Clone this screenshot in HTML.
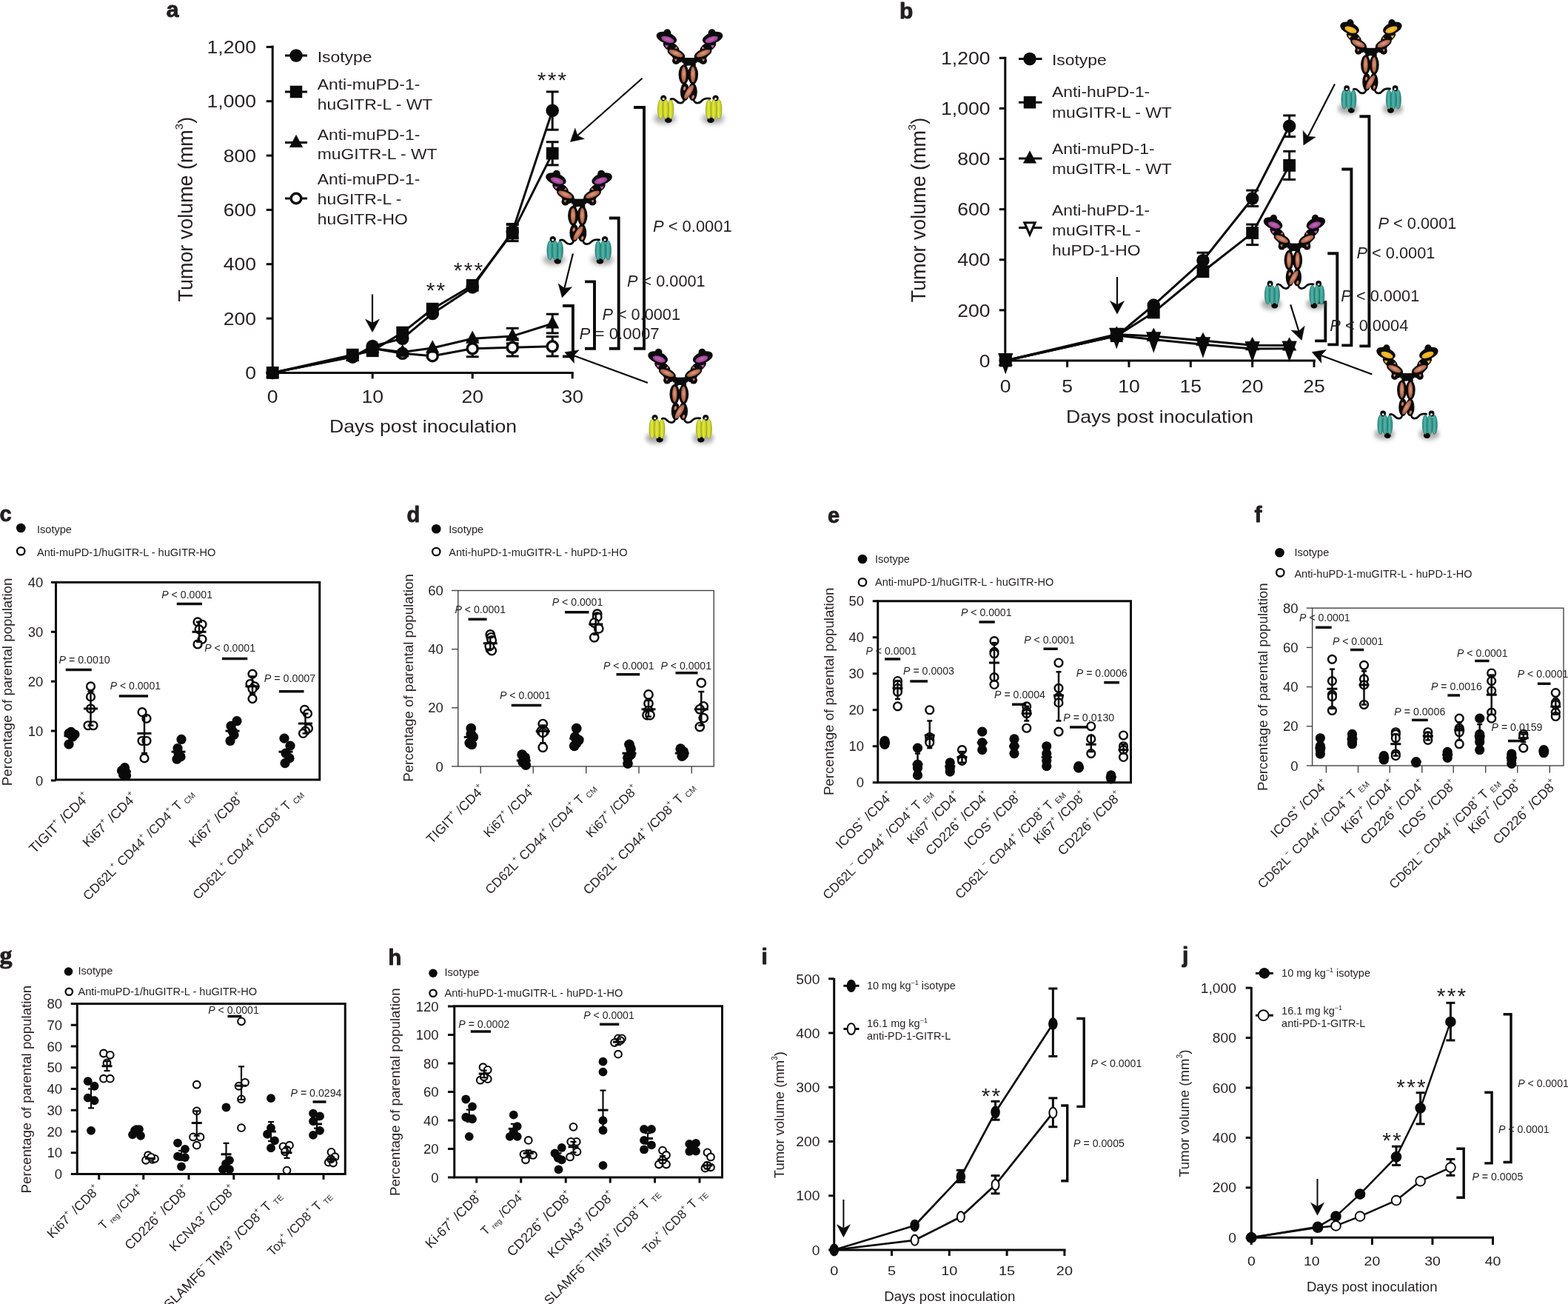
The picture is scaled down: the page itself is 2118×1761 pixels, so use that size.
<!DOCTYPE html><html><head><meta charset="utf-8"><title>Figure</title><style>html,body{margin:0;padding:0;background:#fff;width:2118px;height:1761px;overflow:hidden}svg{display:block}</style></head><body><svg width="2118" height="1761" viewBox="0 0 2118 1761" font-family="'Liberation Sans', Arial, Helvetica, sans-serif" fill="#231f20"><defs>
<radialGradient id="gBr" cx="50%" cy="45%" r="55%"><stop offset="0" stop-color="#d9a08a"/><stop offset="0.55" stop-color="#c27659"/><stop offset="1" stop-color="#a9573a"/></radialGradient>
<radialGradient id="gPu" cx="50%" cy="45%" r="55%"><stop offset="0" stop-color="#c466b8"/><stop offset="1" stop-color="#9a3c92"/></radialGradient>
<radialGradient id="gOr" cx="50%" cy="45%" r="55%"><stop offset="0" stop-color="#f7c33a"/><stop offset="1" stop-color="#e9a81c"/></radialGradient>
<linearGradient id="gYe" x1="0" y1="0" x2="1" y2="0"><stop offset="0" stop-color="#b9c21e"/><stop offset="0.45" stop-color="#e2e83e"/><stop offset="1" stop-color="#b5bd1c"/></linearGradient>
<linearGradient id="gTe" x1="0" y1="0" x2="1" y2="0"><stop offset="0" stop-color="#2d8a80"/><stop offset="0.45" stop-color="#4fb5a8"/><stop offset="1" stop-color="#2a857a"/></linearGradient>
<filter id="blr" x="-50%" y="-50%" width="200%" height="200%"><feGaussianBlur stdDeviation="3"/></filter>
</defs><rect width="2118" height="1761" fill="#fff"/><text transform="translate(224.8,23)" font-size="30" font-weight="bold" stroke="#231f20" stroke-width="0.9" stroke-linejoin="round">a</text>
<line x1="368.2" y1="61.5" x2="368.2" y2="504.9" stroke="#0a0a0a" stroke-width="3" stroke-linecap="butt"/>
<line x1="366.7" y1="503.4" x2="774.7" y2="503.4" stroke="#0a0a0a" stroke-width="3" stroke-linecap="butt"/>
<line x1="359.7" y1="503.4" x2="368.2" y2="503.4" stroke="#0a0a0a" stroke-width="3" stroke-linecap="butt"/>
<text transform="translate(346,512.1) scale(1.09,1)" font-size="24.4" text-anchor="end">0</text>
<line x1="359.7" y1="430.07" x2="368.2" y2="430.07" stroke="#0a0a0a" stroke-width="3" stroke-linecap="butt"/>
<text transform="translate(346,438.77) scale(1.09,1)" font-size="24.4" text-anchor="end">200</text>
<line x1="359.7" y1="356.73" x2="368.2" y2="356.73" stroke="#0a0a0a" stroke-width="3" stroke-linecap="butt"/>
<text transform="translate(346,365.43) scale(1.09,1)" font-size="24.4" text-anchor="end">400</text>
<line x1="359.7" y1="283.4" x2="368.2" y2="283.4" stroke="#0a0a0a" stroke-width="3" stroke-linecap="butt"/>
<text transform="translate(346,292.1) scale(1.09,1)" font-size="24.4" text-anchor="end">600</text>
<line x1="359.7" y1="210.06" x2="368.2" y2="210.06" stroke="#0a0a0a" stroke-width="3" stroke-linecap="butt"/>
<text transform="translate(346,218.76) scale(1.09,1)" font-size="24.4" text-anchor="end">800</text>
<line x1="359.7" y1="136.73" x2="368.2" y2="136.73" stroke="#0a0a0a" stroke-width="3" stroke-linecap="butt"/>
<text transform="translate(346,145.43) scale(1.09,1)" font-size="24.4" text-anchor="end">1,000</text>
<line x1="359.7" y1="63.4" x2="368.2" y2="63.4" stroke="#0a0a0a" stroke-width="3" stroke-linecap="butt"/>
<text transform="translate(346,72.1) scale(1.09,1)" font-size="24.4" text-anchor="end">1,200</text>
<line x1="368.2" y1="503.4" x2="368.2" y2="511.4" stroke="#0a0a0a" stroke-width="3" stroke-linecap="butt"/>
<text transform="translate(368.2,543.75) scale(1.09,1)" font-size="24.4" text-anchor="middle">0</text>
<line x1="503.2" y1="503.4" x2="503.2" y2="511.4" stroke="#0a0a0a" stroke-width="3" stroke-linecap="butt"/>
<text transform="translate(503.2,543.75) scale(1.09,1)" font-size="24.4" text-anchor="middle">10</text>
<line x1="638.2" y1="503.4" x2="638.2" y2="511.4" stroke="#0a0a0a" stroke-width="3" stroke-linecap="butt"/>
<text transform="translate(638.2,543.75) scale(1.09,1)" font-size="24.4" text-anchor="middle">20</text>
<line x1="773.2" y1="503.4" x2="773.2" y2="511.4" stroke="#0a0a0a" stroke-width="3" stroke-linecap="butt"/>
<text transform="translate(773.2,543.75) scale(1.09,1)" font-size="24.4" text-anchor="middle">30</text>
<text transform="translate(445,583.75)" font-size="23.4" textLength="253" lengthAdjust="spacingAndGlyphs">Days post inoculation</text>
<text transform="translate(260.4,407.4) rotate(-90)" font-size="27" textLength="249.5" lengthAdjust="spacingAndGlyphs">Tumor volume (mm<tspan font-size="15.1" dy="-13.5">3</tspan><tspan dy="13.5">)</tspan></text>
<polyline points="368.2,503.4 476.2,481.4 503.2,470.4 543.7,477.37 584.2,480.67 638.2,470.77 692.2,469.3 746.2,467.83" fill="none" stroke="#0a0a0a" stroke-width="3" stroke-linejoin="round" stroke-linecap="butt"/>
<polyline points="368.2,503.4 476.2,481.4 503.2,470.4 543.7,475.53 584.2,470.03 638.2,457.2 692.2,453.9 746.2,437.03" fill="none" stroke="#0a0a0a" stroke-width="3" stroke-linejoin="round" stroke-linecap="butt"/>
<polyline points="368.2,503.4 476.2,479.2 503.2,473.7 543.7,449.13 584.2,417.23 638.2,385.33 692.2,314.56 746.2,207.13" fill="none" stroke="#0a0a0a" stroke-width="3" stroke-linejoin="round" stroke-linecap="butt"/>
<polyline points="368.2,503.4 476.2,482.13 503.2,467.47 543.7,457.2 584.2,423.47 638.2,387.9 692.2,312.73 746.2,149.2" fill="none" stroke="#0a0a0a" stroke-width="3" stroke-linejoin="round" stroke-linecap="butt"/>
<line x1="692.2" y1="321.9" x2="692.2" y2="302.46" stroke="#0a0a0a" stroke-width="3" stroke-linecap="butt"/>
<line x1="683.8" y1="321.9" x2="700.6" y2="321.9" stroke="#0a0a0a" stroke-width="3" stroke-linecap="butt"/>
<line x1="683.8" y1="302.46" x2="700.6" y2="302.46" stroke="#0a0a0a" stroke-width="3" stroke-linecap="butt"/>
<line x1="746.2" y1="175.23" x2="746.2" y2="123.9" stroke="#0a0a0a" stroke-width="3" stroke-linecap="butt"/>
<line x1="737.8" y1="175.23" x2="754.6" y2="175.23" stroke="#0a0a0a" stroke-width="3" stroke-linecap="butt"/>
<line x1="737.8" y1="123.9" x2="754.6" y2="123.9" stroke="#0a0a0a" stroke-width="3" stroke-linecap="butt"/>
<line x1="692.2" y1="325.57" x2="692.2" y2="303.56" stroke="#0a0a0a" stroke-width="3" stroke-linecap="butt"/>
<line x1="683.8" y1="325.57" x2="700.6" y2="325.57" stroke="#0a0a0a" stroke-width="3" stroke-linecap="butt"/>
<line x1="683.8" y1="303.56" x2="700.6" y2="303.56" stroke="#0a0a0a" stroke-width="3" stroke-linecap="butt"/>
<line x1="746.2" y1="222.9" x2="746.2" y2="191.73" stroke="#0a0a0a" stroke-width="3" stroke-linecap="butt"/>
<line x1="737.8" y1="222.9" x2="754.6" y2="222.9" stroke="#0a0a0a" stroke-width="3" stroke-linecap="butt"/>
<line x1="737.8" y1="191.73" x2="754.6" y2="191.73" stroke="#0a0a0a" stroke-width="3" stroke-linecap="butt"/>
<line x1="692.2" y1="463.8" x2="692.2" y2="443.27" stroke="#0a0a0a" stroke-width="3" stroke-linecap="butt"/>
<line x1="683.8" y1="463.8" x2="700.6" y2="463.8" stroke="#0a0a0a" stroke-width="3" stroke-linecap="butt"/>
<line x1="683.8" y1="443.27" x2="700.6" y2="443.27" stroke="#0a0a0a" stroke-width="3" stroke-linecap="butt"/>
<line x1="746.2" y1="449.87" x2="746.2" y2="424.2" stroke="#0a0a0a" stroke-width="3" stroke-linecap="butt"/>
<line x1="737.8" y1="449.87" x2="754.6" y2="449.87" stroke="#0a0a0a" stroke-width="3" stroke-linecap="butt"/>
<line x1="737.8" y1="424.2" x2="754.6" y2="424.2" stroke="#0a0a0a" stroke-width="3" stroke-linecap="butt"/>
<line x1="638.2" y1="481.77" x2="638.2" y2="459.77" stroke="#0a0a0a" stroke-width="3" stroke-linecap="butt"/>
<line x1="629.8" y1="481.77" x2="646.6" y2="481.77" stroke="#0a0a0a" stroke-width="3" stroke-linecap="butt"/>
<line x1="629.8" y1="459.77" x2="646.6" y2="459.77" stroke="#0a0a0a" stroke-width="3" stroke-linecap="butt"/>
<line x1="692.2" y1="481.03" x2="692.2" y2="457.57" stroke="#0a0a0a" stroke-width="3" stroke-linecap="butt"/>
<line x1="683.8" y1="481.03" x2="700.6" y2="481.03" stroke="#0a0a0a" stroke-width="3" stroke-linecap="butt"/>
<line x1="683.8" y1="457.57" x2="700.6" y2="457.57" stroke="#0a0a0a" stroke-width="3" stroke-linecap="butt"/>
<line x1="746.2" y1="481.03" x2="746.2" y2="454.63" stroke="#0a0a0a" stroke-width="3" stroke-linecap="butt"/>
<line x1="737.8" y1="481.03" x2="754.6" y2="481.03" stroke="#0a0a0a" stroke-width="3" stroke-linecap="butt"/>
<line x1="737.8" y1="454.63" x2="754.6" y2="454.63" stroke="#0a0a0a" stroke-width="3" stroke-linecap="butt"/>
<circle cx="368.2" cy="503.4" r="7" fill="#fff" stroke="#0a0a0a" stroke-width="3.5"/>
<circle cx="476.2" cy="481.4" r="7" fill="#fff" stroke="#0a0a0a" stroke-width="3.5"/>
<circle cx="503.2" cy="470.4" r="7" fill="#fff" stroke="#0a0a0a" stroke-width="3.5"/>
<circle cx="543.7" cy="477.37" r="7" fill="#fff" stroke="#0a0a0a" stroke-width="3.5"/>
<circle cx="584.2" cy="480.67" r="7" fill="#fff" stroke="#0a0a0a" stroke-width="3.5"/>
<circle cx="638.2" cy="470.77" r="7" fill="#fff" stroke="#0a0a0a" stroke-width="3.5"/>
<circle cx="692.2" cy="469.3" r="7" fill="#fff" stroke="#0a0a0a" stroke-width="3.5"/>
<circle cx="746.2" cy="467.83" r="7" fill="#fff" stroke="#0a0a0a" stroke-width="3.5"/>
<polygon points="368.2,493.09 376.95,509.72 359.45,509.72" fill="#0a0a0a" stroke="#0a0a0a" stroke-width="0.5" stroke-linejoin="miter" stroke-linecap="butt"/>
<polygon points="476.2,471.09 484.95,487.72 467.45,487.72" fill="#0a0a0a" stroke="#0a0a0a" stroke-width="0.5" stroke-linejoin="miter" stroke-linecap="butt"/>
<polygon points="503.2,460.09 511.95,476.72 494.45,476.72" fill="#0a0a0a" stroke="#0a0a0a" stroke-width="0.5" stroke-linejoin="miter" stroke-linecap="butt"/>
<polygon points="543.7,465.23 552.45,481.85 534.95,481.85" fill="#0a0a0a" stroke="#0a0a0a" stroke-width="0.5" stroke-linejoin="miter" stroke-linecap="butt"/>
<polygon points="584.2,459.73 592.95,476.35 575.45,476.35" fill="#0a0a0a" stroke="#0a0a0a" stroke-width="0.5" stroke-linejoin="miter" stroke-linecap="butt"/>
<polygon points="638.2,446.89 646.95,463.52 629.45,463.52" fill="#0a0a0a" stroke="#0a0a0a" stroke-width="0.5" stroke-linejoin="miter" stroke-linecap="butt"/>
<polygon points="692.2,443.59 700.95,460.22 683.45,460.22" fill="#0a0a0a" stroke="#0a0a0a" stroke-width="0.5" stroke-linejoin="miter" stroke-linecap="butt"/>
<polygon points="746.2,426.73 754.95,443.35 737.45,443.35" fill="#0a0a0a" stroke="#0a0a0a" stroke-width="0.5" stroke-linejoin="miter" stroke-linecap="butt"/>
<rect x="359.8" y="495" width="16.8" height="16.8" fill="#0a0a0a"/>
<rect x="467.8" y="470.8" width="16.8" height="16.8" fill="#0a0a0a"/>
<rect x="494.8" y="465.3" width="16.8" height="16.8" fill="#0a0a0a"/>
<rect x="535.3" y="440.73" width="16.8" height="16.8" fill="#0a0a0a"/>
<rect x="575.8" y="408.83" width="16.8" height="16.8" fill="#0a0a0a"/>
<rect x="629.8" y="376.93" width="16.8" height="16.8" fill="#0a0a0a"/>
<rect x="683.8" y="306.16" width="16.8" height="16.8" fill="#0a0a0a"/>
<rect x="737.8" y="198.73" width="16.8" height="16.8" fill="#0a0a0a"/>
<circle cx="368.2" cy="503.4" r="8.75" fill="#0a0a0a"/>
<circle cx="476.2" cy="482.13" r="8.75" fill="#0a0a0a"/>
<circle cx="503.2" cy="467.47" r="8.75" fill="#0a0a0a"/>
<circle cx="543.7" cy="457.2" r="8.75" fill="#0a0a0a"/>
<circle cx="584.2" cy="423.47" r="8.75" fill="#0a0a0a"/>
<circle cx="638.2" cy="387.9" r="8.75" fill="#0a0a0a"/>
<circle cx="692.2" cy="312.73" r="8.75" fill="#0a0a0a"/>
<circle cx="746.2" cy="149.2" r="8.75" fill="#0a0a0a"/>
<line x1="385" y1="75" x2="415" y2="75" stroke="#0a0a0a" stroke-width="3" stroke-linecap="butt"/>
<circle cx="400" cy="75" r="8.75" fill="#0a0a0a"/>
<line x1="385" y1="124" x2="415" y2="124" stroke="#0a0a0a" stroke-width="3" stroke-linecap="butt"/>
<rect x="391.75" y="115.75" width="16.5" height="16.5" fill="#0a0a0a"/>
<line x1="385" y1="192.5" x2="415" y2="192.5" stroke="#0a0a0a" stroke-width="3" stroke-linecap="butt"/>
<polygon points="400,182.19 408.75,198.82 391.25,198.82" fill="#0a0a0a" stroke="#0a0a0a" stroke-width="0.5" stroke-linejoin="miter" stroke-linecap="butt"/>
<line x1="385" y1="268" x2="415" y2="268" stroke="#0a0a0a" stroke-width="3" stroke-linecap="butt"/>
<circle cx="400" cy="268" r="6.8" fill="#fff" stroke="#0a0a0a" stroke-width="3.4000000000000004"/>
<text transform="translate(428.75,83.75) scale(1.09,1)" font-size="21">Isotype</text>
<text transform="translate(428.75,120.75) scale(1.09,1)" font-size="21">Anti-muPD-1-</text>
<text transform="translate(428.75,147.5) scale(1.09,1)" font-size="21">huGITR-L - WT</text>
<text transform="translate(428.75,188.75) scale(1.09,1)" font-size="21">Anti-muPD-1-</text>
<text transform="translate(428.75,215) scale(1.09,1)" font-size="21">muGITR-L - WT</text>
<text transform="translate(428.75,248.75) scale(1.09,1)" font-size="21">Anti-muPD-1-</text>
<text transform="translate(428.75,275.75) scale(1.09,1)" font-size="21">huGITR-L -</text>
<text transform="translate(428.75,302.5) scale(1.09,1)" font-size="21">huGITR-HO</text>
<text transform="translate(746.6,118)" font-size="30" text-anchor="middle" letter-spacing="2.2">***</text>
<text transform="translate(633.6,374.5)" font-size="30" text-anchor="middle" letter-spacing="2.2">***</text>
<text transform="translate(589.6,401.5)" font-size="30" text-anchor="middle" letter-spacing="2.2">**</text>
<line x1="503" y1="397.5" x2="503" y2="436.1" stroke="#0a0a0a" stroke-width="2.2" stroke-linecap="butt"/>
<polygon points="503,448.6 493.5,431.1 503,436.1 512.5,431.1" fill="#0a0a0a" stroke="#0a0a0a" stroke-width="0.5" stroke-linejoin="miter" stroke-linecap="butt"/>
<polyline points="760,413 773.9,413 773.9,481.4 760,481.4" fill="none" stroke="#0a0a0a" stroke-width="3.9" stroke-linejoin="miter" stroke-linecap="butt"/>
<polyline points="790,380.4 803,380.4 803,470.8 790,470.8" fill="none" stroke="#0a0a0a" stroke-width="3.9" stroke-linejoin="miter" stroke-linecap="butt"/>
<polyline points="822.8,294.5 835.7,294.5 835.7,470.8 822.8,470.8" fill="none" stroke="#0a0a0a" stroke-width="3.9" stroke-linejoin="miter" stroke-linecap="butt"/>
<polyline points="856,145 870,145 870,470.8 856,470.8" fill="none" stroke="#0a0a0a" stroke-width="3.9" stroke-linejoin="miter" stroke-linecap="butt"/>
<text transform="translate(882,313.4)" font-size="21.6" textLength="106.7" lengthAdjust="spacingAndGlyphs"><tspan font-style="italic">P</tspan> &lt; 0.0001</text>
<text transform="translate(847,387.3)" font-size="21.6" textLength="105.6" lengthAdjust="spacingAndGlyphs"><tspan font-style="italic">P</tspan> &lt; 0.0001</text>
<text transform="translate(813.4,432)" font-size="21.6" textLength="105.6" lengthAdjust="spacingAndGlyphs"><tspan font-style="italic">P</tspan> &lt; 0.0001</text>
<text transform="translate(782.5,457.7)" font-size="21.6" textLength="108.2" lengthAdjust="spacingAndGlyphs"><tspan font-style="italic">P</tspan> = 0.0007</text>
<g transform="translate(879.6,35) scale(1.0,1.0)"><ellipse cx="18.6" cy="125" rx="15" ry="7.5" fill="#5a5a5a" opacity="0.5" filter="url(#blr)"/><circle cx="16.6" cy="97.6" r="4.2" fill="#0b0b0b"/><circle cx="16.6" cy="98.4" r="1.5" fill="#fff"/><ellipse cx="23.2" cy="127.2" rx="4.8" ry="3.8" fill="#0b0b0b"/><ellipse cx="12.9" cy="112.5" rx="4.1" ry="12.9" fill="url(#gYe)" stroke="#8f9c1c" stroke-width="0.7"/><ellipse cx="26.3" cy="112.5" rx="4.1" ry="12.9" fill="url(#gYe)" stroke="#8f9c1c" stroke-width="0.7"/><ellipse cx="19.6" cy="112.5" rx="4.1" ry="12.9" fill="url(#gYe)" stroke="#8f9c1c" stroke-width="0.7"/><ellipse cx="83.6" cy="125" rx="15" ry="7.5" fill="#5a5a5a" opacity="0.5" filter="url(#blr)"/><circle cx="87" cy="97.6" r="4.2" fill="#0b0b0b"/><circle cx="87" cy="98.4" r="1.5" fill="#fff"/><ellipse cx="80.4" cy="127.2" rx="4.8" ry="3.8" fill="#0b0b0b"/><ellipse cx="77.9" cy="112.5" rx="4.1" ry="12.9" fill="url(#gYe)" stroke="#8f9c1c" stroke-width="0.7"/><ellipse cx="91.3" cy="112.5" rx="4.1" ry="12.9" fill="url(#gYe)" stroke="#8f9c1c" stroke-width="0.7"/><ellipse cx="84.6" cy="112.5" rx="4.1" ry="12.9" fill="url(#gYe)" stroke="#8f9c1c" stroke-width="0.7"/><path d="M44.5,99.5 C43.5,105.5 37,105 34,101.5 C31,98 29,97.6 26.5,98.8" fill="none" stroke="#0b0b0b" stroke-width="2.8" stroke-linecap="round"/><path d="M57.5,99.5 C58.5,105.5 65,105 68,101.5 C71,98 74,97.4 79.5,98.2" fill="none" stroke="#0b0b0b" stroke-width="2.8" stroke-linecap="round"/><ellipse cx="20.8" cy="16.2" rx="14.2" ry="7.6" fill="#0b0b0b" transform="rotate(18 20.8 16.2)"/><circle cx="21.7" cy="9.3" r="5.1" fill="#0b0b0b"/><ellipse cx="27" cy="28.4" rx="12" ry="6.2" fill="#0b0b0b" transform="rotate(30 27 28.4)"/><ellipse cx="35.5" cy="42.5" rx="8.5" ry="5.6" fill="#0b0b0b" transform="rotate(40 35.5 42.5)"/><ellipse cx="33.6" cy="47" rx="5.2" ry="5" fill="#0b0b0b"/><ellipse cx="33.8" cy="37.4" rx="12.6" ry="6.1" fill="#0b0b0b" transform="rotate(24 33.8 37.4)"/><path d="M40,40 L47.5,43.5 L47.5,50 L42,50 Z" fill="#0b0b0b"/><ellipse cx="22.3" cy="18.4" rx="9" ry="3.9" fill="url(#gPu)" transform="rotate(18 22.3 18.4)"/><path d="M18.2,25.6 L23.6,26.6 L20.6,30.2 Z" fill="url(#gPu)"/><path d="M31.4,30.6 L34.8,27.6 L35.4,31.2 Z" fill="url(#gBr)"/><ellipse cx="33.4" cy="37.2" rx="10" ry="3.7" fill="url(#gBr)" transform="rotate(23 33.4 37.2)"/><path d="M31.2,44.8 L35.2,44.4 L33.4,48.4 Z" fill="url(#gBr)"/><g transform="translate(103.8,0) scale(-1,1)"><ellipse cx="20.8" cy="16.2" rx="14.2" ry="7.6" fill="#0b0b0b" transform="rotate(18 20.8 16.2)"/><circle cx="21.7" cy="9.3" r="5.1" fill="#0b0b0b"/><ellipse cx="27" cy="28.4" rx="12" ry="6.2" fill="#0b0b0b" transform="rotate(30 27 28.4)"/><ellipse cx="35.5" cy="42.5" rx="8.5" ry="5.6" fill="#0b0b0b" transform="rotate(40 35.5 42.5)"/><ellipse cx="33.6" cy="47" rx="5.2" ry="5" fill="#0b0b0b"/><ellipse cx="33.8" cy="37.4" rx="12.6" ry="6.1" fill="#0b0b0b" transform="rotate(24 33.8 37.4)"/><path d="M40,40 L47.5,43.5 L47.5,50 L42,50 Z" fill="#0b0b0b"/><ellipse cx="22.3" cy="18.4" rx="9" ry="3.9" fill="url(#gPu)" transform="rotate(18 22.3 18.4)"/><path d="M18.2,25.6 L23.6,26.6 L20.6,30.2 Z" fill="url(#gPu)"/><path d="M31.4,30.6 L34.8,27.6 L35.4,31.2 Z" fill="url(#gBr)"/><ellipse cx="33.4" cy="37.2" rx="10" ry="3.7" fill="url(#gBr)" transform="rotate(23 33.4 37.2)"/><path d="M31.2,44.8 L35.2,44.4 L33.4,48.4 Z" fill="url(#gBr)"/></g><rect x="43.6" y="43" width="16.6" height="11.5" fill="#0b0b0b"/><ellipse cx="44" cy="65.7" rx="7" ry="13.2" fill="#0b0b0b"/><ellipse cx="56.4" cy="65.7" rx="7" ry="13.2" fill="#0b0b0b"/><ellipse cx="44" cy="65.7" rx="3.3" ry="10.6" fill="url(#gBr)"/><ellipse cx="56.4" cy="65.7" rx="3.3" ry="10.6" fill="url(#gBr)"/><path d="M48.5,53.5 L53.5,53.5 L50.5,58.5 Z" fill="#fff"/><path d="M48.8,77 L52.5,77 L50.5,73 Z" fill="#fff"/><ellipse cx="45.5" cy="89" rx="6.2" ry="12" fill="#0b0b0b"/><ellipse cx="56" cy="89" rx="6.2" ry="12" fill="#0b0b0b"/><ellipse cx="45" cy="84.5" rx="1.8" ry="2.8" fill="url(#gBr)" transform="rotate(20 45 84.5)"/><ellipse cx="56.5" cy="96" rx="1.8" ry="2.8" fill="url(#gBr)" transform="rotate(20 56.5 96)"/><ellipse cx="51" cy="89.2" rx="10.8" ry="3.6" fill="url(#gBr)" transform="rotate(-58 51 89.2)"/></g>
<g transform="translate(730.1,225.6) scale(1.0,1.0)"><ellipse cx="18.6" cy="125" rx="15" ry="7.5" fill="#5a5a5a" opacity="0.5" filter="url(#blr)"/><circle cx="16.6" cy="97.6" r="4.2" fill="#0b0b0b"/><circle cx="16.6" cy="98.4" r="1.5" fill="#fff"/><ellipse cx="23.2" cy="127.2" rx="4.8" ry="3.8" fill="#0b0b0b"/><ellipse cx="12.9" cy="112.5" rx="4.1" ry="12.9" fill="url(#gTe)" stroke="#1f6d64" stroke-width="0.7"/><ellipse cx="26.3" cy="112.5" rx="4.1" ry="12.9" fill="url(#gTe)" stroke="#1f6d64" stroke-width="0.7"/><ellipse cx="19.6" cy="112.5" rx="4.1" ry="12.9" fill="url(#gTe)" stroke="#1f6d64" stroke-width="0.7"/><ellipse cx="83.6" cy="125" rx="15" ry="7.5" fill="#5a5a5a" opacity="0.5" filter="url(#blr)"/><circle cx="87" cy="97.6" r="4.2" fill="#0b0b0b"/><circle cx="87" cy="98.4" r="1.5" fill="#fff"/><ellipse cx="80.4" cy="127.2" rx="4.8" ry="3.8" fill="#0b0b0b"/><ellipse cx="77.9" cy="112.5" rx="4.1" ry="12.9" fill="url(#gTe)" stroke="#1f6d64" stroke-width="0.7"/><ellipse cx="91.3" cy="112.5" rx="4.1" ry="12.9" fill="url(#gTe)" stroke="#1f6d64" stroke-width="0.7"/><ellipse cx="84.6" cy="112.5" rx="4.1" ry="12.9" fill="url(#gTe)" stroke="#1f6d64" stroke-width="0.7"/><path d="M44.5,99.5 C43.5,105.5 37,105 34,101.5 C31,98 29,97.6 26.5,98.8" fill="none" stroke="#0b0b0b" stroke-width="2.8" stroke-linecap="round"/><path d="M57.5,99.5 C58.5,105.5 65,105 68,101.5 C71,98 74,97.4 79.5,98.2" fill="none" stroke="#0b0b0b" stroke-width="2.8" stroke-linecap="round"/><ellipse cx="20.8" cy="16.2" rx="14.2" ry="7.6" fill="#0b0b0b" transform="rotate(18 20.8 16.2)"/><circle cx="21.7" cy="9.3" r="5.1" fill="#0b0b0b"/><ellipse cx="27" cy="28.4" rx="12" ry="6.2" fill="#0b0b0b" transform="rotate(30 27 28.4)"/><ellipse cx="35.5" cy="42.5" rx="8.5" ry="5.6" fill="#0b0b0b" transform="rotate(40 35.5 42.5)"/><ellipse cx="33.6" cy="47" rx="5.2" ry="5" fill="#0b0b0b"/><ellipse cx="33.8" cy="37.4" rx="12.6" ry="6.1" fill="#0b0b0b" transform="rotate(24 33.8 37.4)"/><path d="M40,40 L47.5,43.5 L47.5,50 L42,50 Z" fill="#0b0b0b"/><ellipse cx="22.3" cy="18.4" rx="9" ry="3.9" fill="url(#gPu)" transform="rotate(18 22.3 18.4)"/><path d="M18.2,25.6 L23.6,26.6 L20.6,30.2 Z" fill="url(#gPu)"/><path d="M31.4,30.6 L34.8,27.6 L35.4,31.2 Z" fill="url(#gBr)"/><ellipse cx="33.4" cy="37.2" rx="10" ry="3.7" fill="url(#gBr)" transform="rotate(23 33.4 37.2)"/><path d="M31.2,44.8 L35.2,44.4 L33.4,48.4 Z" fill="url(#gBr)"/><g transform="translate(103.8,0) scale(-1,1)"><ellipse cx="20.8" cy="16.2" rx="14.2" ry="7.6" fill="#0b0b0b" transform="rotate(18 20.8 16.2)"/><circle cx="21.7" cy="9.3" r="5.1" fill="#0b0b0b"/><ellipse cx="27" cy="28.4" rx="12" ry="6.2" fill="#0b0b0b" transform="rotate(30 27 28.4)"/><ellipse cx="35.5" cy="42.5" rx="8.5" ry="5.6" fill="#0b0b0b" transform="rotate(40 35.5 42.5)"/><ellipse cx="33.6" cy="47" rx="5.2" ry="5" fill="#0b0b0b"/><ellipse cx="33.8" cy="37.4" rx="12.6" ry="6.1" fill="#0b0b0b" transform="rotate(24 33.8 37.4)"/><path d="M40,40 L47.5,43.5 L47.5,50 L42,50 Z" fill="#0b0b0b"/><ellipse cx="22.3" cy="18.4" rx="9" ry="3.9" fill="url(#gPu)" transform="rotate(18 22.3 18.4)"/><path d="M18.2,25.6 L23.6,26.6 L20.6,30.2 Z" fill="url(#gPu)"/><path d="M31.4,30.6 L34.8,27.6 L35.4,31.2 Z" fill="url(#gBr)"/><ellipse cx="33.4" cy="37.2" rx="10" ry="3.7" fill="url(#gBr)" transform="rotate(23 33.4 37.2)"/><path d="M31.2,44.8 L35.2,44.4 L33.4,48.4 Z" fill="url(#gBr)"/></g><rect x="43.6" y="43" width="16.6" height="11.5" fill="#0b0b0b"/><ellipse cx="44" cy="65.7" rx="7" ry="13.2" fill="#0b0b0b"/><ellipse cx="56.4" cy="65.7" rx="7" ry="13.2" fill="#0b0b0b"/><ellipse cx="44" cy="65.7" rx="3.3" ry="10.6" fill="url(#gBr)"/><ellipse cx="56.4" cy="65.7" rx="3.3" ry="10.6" fill="url(#gBr)"/><path d="M48.5,53.5 L53.5,53.5 L50.5,58.5 Z" fill="#fff"/><path d="M48.8,77 L52.5,77 L50.5,73 Z" fill="#fff"/><ellipse cx="45.5" cy="89" rx="6.2" ry="12" fill="#0b0b0b"/><ellipse cx="56" cy="89" rx="6.2" ry="12" fill="#0b0b0b"/><ellipse cx="45" cy="84.5" rx="1.8" ry="2.8" fill="url(#gBr)" transform="rotate(20 45 84.5)"/><ellipse cx="56.5" cy="96" rx="1.8" ry="2.8" fill="url(#gBr)" transform="rotate(20 56.5 96)"/><ellipse cx="51" cy="89.2" rx="10.8" ry="3.6" fill="url(#gBr)" transform="rotate(-58 51 89.2)"/></g>
<g transform="translate(868.4,466.6) scale(0.975,1.0)"><ellipse cx="18.6" cy="125" rx="15" ry="7.5" fill="#5a5a5a" opacity="0.5" filter="url(#blr)"/><circle cx="16.6" cy="97.6" r="4.2" fill="#0b0b0b"/><circle cx="16.6" cy="98.4" r="1.5" fill="#fff"/><ellipse cx="23.2" cy="127.2" rx="4.8" ry="3.8" fill="#0b0b0b"/><ellipse cx="12.9" cy="112.5" rx="4.1" ry="12.9" fill="url(#gYe)" stroke="#8f9c1c" stroke-width="0.7"/><ellipse cx="26.3" cy="112.5" rx="4.1" ry="12.9" fill="url(#gYe)" stroke="#8f9c1c" stroke-width="0.7"/><ellipse cx="19.6" cy="112.5" rx="4.1" ry="12.9" fill="url(#gYe)" stroke="#8f9c1c" stroke-width="0.7"/><ellipse cx="83.6" cy="125" rx="15" ry="7.5" fill="#5a5a5a" opacity="0.5" filter="url(#blr)"/><circle cx="87" cy="97.6" r="4.2" fill="#0b0b0b"/><circle cx="87" cy="98.4" r="1.5" fill="#fff"/><ellipse cx="80.4" cy="127.2" rx="4.8" ry="3.8" fill="#0b0b0b"/><ellipse cx="77.9" cy="112.5" rx="4.1" ry="12.9" fill="url(#gYe)" stroke="#8f9c1c" stroke-width="0.7"/><ellipse cx="91.3" cy="112.5" rx="4.1" ry="12.9" fill="url(#gYe)" stroke="#8f9c1c" stroke-width="0.7"/><ellipse cx="84.6" cy="112.5" rx="4.1" ry="12.9" fill="url(#gYe)" stroke="#8f9c1c" stroke-width="0.7"/><path d="M44.5,99.5 C43.5,105.5 37,105 34,101.5 C31,98 29,97.6 26.5,98.8" fill="none" stroke="#0b0b0b" stroke-width="2.8" stroke-linecap="round"/><path d="M57.5,99.5 C58.5,105.5 65,105 68,101.5 C71,98 74,97.4 79.5,98.2" fill="none" stroke="#0b0b0b" stroke-width="2.8" stroke-linecap="round"/><ellipse cx="20.8" cy="16.2" rx="14.2" ry="7.6" fill="#0b0b0b" transform="rotate(18 20.8 16.2)"/><circle cx="21.7" cy="9.3" r="5.1" fill="#0b0b0b"/><ellipse cx="27" cy="28.4" rx="12" ry="6.2" fill="#0b0b0b" transform="rotate(30 27 28.4)"/><ellipse cx="35.5" cy="42.5" rx="8.5" ry="5.6" fill="#0b0b0b" transform="rotate(40 35.5 42.5)"/><ellipse cx="33.6" cy="47" rx="5.2" ry="5" fill="#0b0b0b"/><ellipse cx="33.8" cy="37.4" rx="12.6" ry="6.1" fill="#0b0b0b" transform="rotate(24 33.8 37.4)"/><path d="M40,40 L47.5,43.5 L47.5,50 L42,50 Z" fill="#0b0b0b"/><ellipse cx="22.3" cy="18.4" rx="9" ry="3.9" fill="url(#gPu)" transform="rotate(18 22.3 18.4)"/><path d="M18.2,25.6 L23.6,26.6 L20.6,30.2 Z" fill="url(#gPu)"/><path d="M31.4,30.6 L34.8,27.6 L35.4,31.2 Z" fill="url(#gBr)"/><ellipse cx="33.4" cy="37.2" rx="10" ry="3.7" fill="url(#gBr)" transform="rotate(23 33.4 37.2)"/><path d="M31.2,44.8 L35.2,44.4 L33.4,48.4 Z" fill="url(#gBr)"/><g transform="translate(103.8,0) scale(-1,1)"><ellipse cx="20.8" cy="16.2" rx="14.2" ry="7.6" fill="#0b0b0b" transform="rotate(18 20.8 16.2)"/><circle cx="21.7" cy="9.3" r="5.1" fill="#0b0b0b"/><ellipse cx="27" cy="28.4" rx="12" ry="6.2" fill="#0b0b0b" transform="rotate(30 27 28.4)"/><ellipse cx="35.5" cy="42.5" rx="8.5" ry="5.6" fill="#0b0b0b" transform="rotate(40 35.5 42.5)"/><ellipse cx="33.6" cy="47" rx="5.2" ry="5" fill="#0b0b0b"/><ellipse cx="33.8" cy="37.4" rx="12.6" ry="6.1" fill="#0b0b0b" transform="rotate(24 33.8 37.4)"/><path d="M40,40 L47.5,43.5 L47.5,50 L42,50 Z" fill="#0b0b0b"/><ellipse cx="22.3" cy="18.4" rx="9" ry="3.9" fill="url(#gPu)" transform="rotate(18 22.3 18.4)"/><path d="M18.2,25.6 L23.6,26.6 L20.6,30.2 Z" fill="url(#gPu)"/><path d="M31.4,30.6 L34.8,27.6 L35.4,31.2 Z" fill="url(#gBr)"/><ellipse cx="33.4" cy="37.2" rx="10" ry="3.7" fill="url(#gBr)" transform="rotate(23 33.4 37.2)"/><path d="M31.2,44.8 L35.2,44.4 L33.4,48.4 Z" fill="url(#gBr)"/></g><rect x="43.6" y="43" width="16.6" height="11.5" fill="#0b0b0b"/><ellipse cx="44" cy="65.7" rx="7" ry="13.2" fill="#0b0b0b"/><ellipse cx="56.4" cy="65.7" rx="7" ry="13.2" fill="#0b0b0b"/><ellipse cx="44" cy="65.7" rx="3.3" ry="10.6" fill="url(#gBr)"/><ellipse cx="56.4" cy="65.7" rx="3.3" ry="10.6" fill="url(#gBr)"/><path d="M48.5,53.5 L53.5,53.5 L50.5,58.5 Z" fill="#fff"/><path d="M48.8,77 L52.5,77 L50.5,73 Z" fill="#fff"/><ellipse cx="45.5" cy="89" rx="6.2" ry="12" fill="#0b0b0b"/><ellipse cx="56" cy="89" rx="6.2" ry="12" fill="#0b0b0b"/><ellipse cx="45" cy="84.5" rx="1.8" ry="2.8" fill="url(#gBr)" transform="rotate(20 45 84.5)"/><ellipse cx="56.5" cy="96" rx="1.8" ry="2.8" fill="url(#gBr)" transform="rotate(20 56.5 96)"/><ellipse cx="51" cy="89.2" rx="10.8" ry="3.6" fill="url(#gBr)" transform="rotate(-58 51 89.2)"/></g>
<line x1="867.5" y1="105.7" x2="780.14" y2="182.99" stroke="#0a0a0a" stroke-width="2.2" stroke-linecap="butt"/>
<polygon points="770.4,191.6 776.84,173.22 780.14,182.99 789.43,187.45" fill="#0a0a0a" stroke="#0a0a0a" stroke-width="0.5" stroke-linejoin="miter" stroke-linecap="butt"/>
<line x1="773.9" y1="342.6" x2="762.41" y2="389.28" stroke="#0a0a0a" stroke-width="2.2" stroke-linecap="butt"/>
<polygon points="759.3,401.9 754.14,383.12 762.41,389.28 772.59,387.66" fill="#0a0a0a" stroke="#0a0a0a" stroke-width="0.5" stroke-linejoin="miter" stroke-linecap="butt"/>
<line x1="875" y1="517" x2="775.1" y2="480.19" stroke="#0a0a0a" stroke-width="2.2" stroke-linecap="butt"/>
<polygon points="762.9,475.7 782.14,472.66 775.1,480.19 775.57,490.49" fill="#0a0a0a" stroke="#0a0a0a" stroke-width="0.5" stroke-linejoin="miter" stroke-linecap="butt"/>
<text transform="translate(1215,25)" font-size="30" font-weight="bold" stroke="#231f20" stroke-width="0.9" stroke-linejoin="round">b</text>
<line x1="1357.8" y1="76.8" x2="1357.8" y2="488.5" stroke="#0a0a0a" stroke-width="3" stroke-linecap="butt"/>
<line x1="1356.3" y1="487" x2="1777" y2="487" stroke="#0a0a0a" stroke-width="3" stroke-linecap="butt"/>
<line x1="1349.8" y1="487" x2="1357.8" y2="487" stroke="#0a0a0a" stroke-width="3" stroke-linecap="butt"/>
<text transform="translate(1337.5,495.7) scale(1.09,1)" font-size="24.4" text-anchor="end">0</text>
<line x1="1349.8" y1="418.88" x2="1357.8" y2="418.88" stroke="#0a0a0a" stroke-width="3" stroke-linecap="butt"/>
<text transform="translate(1337.5,427.58) scale(1.09,1)" font-size="24.4" text-anchor="end">200</text>
<line x1="1349.8" y1="350.76" x2="1357.8" y2="350.76" stroke="#0a0a0a" stroke-width="3" stroke-linecap="butt"/>
<text transform="translate(1337.5,359.46) scale(1.09,1)" font-size="24.4" text-anchor="end">400</text>
<line x1="1349.8" y1="282.64" x2="1357.8" y2="282.64" stroke="#0a0a0a" stroke-width="3" stroke-linecap="butt"/>
<text transform="translate(1337.5,291.34) scale(1.09,1)" font-size="24.4" text-anchor="end">600</text>
<line x1="1349.8" y1="214.52" x2="1357.8" y2="214.52" stroke="#0a0a0a" stroke-width="3" stroke-linecap="butt"/>
<text transform="translate(1337.5,223.22) scale(1.09,1)" font-size="24.4" text-anchor="end">800</text>
<line x1="1349.8" y1="146.4" x2="1357.8" y2="146.4" stroke="#0a0a0a" stroke-width="3" stroke-linecap="butt"/>
<text transform="translate(1337.5,155.1) scale(1.09,1)" font-size="24.4" text-anchor="end">1,000</text>
<line x1="1349.8" y1="78.28" x2="1357.8" y2="78.28" stroke="#0a0a0a" stroke-width="3" stroke-linecap="butt"/>
<text transform="translate(1337.5,86.98) scale(1.09,1)" font-size="24.4" text-anchor="end">1,200</text>
<line x1="1358.25" y1="487" x2="1358.25" y2="496" stroke="#0a0a0a" stroke-width="3" stroke-linecap="butt"/>
<text transform="translate(1358.25,530) scale(1.09,1)" font-size="24.4" text-anchor="middle">0</text>
<line x1="1441.6" y1="487" x2="1441.6" y2="496" stroke="#0a0a0a" stroke-width="3" stroke-linecap="butt"/>
<text transform="translate(1441.6,530) scale(1.09,1)" font-size="24.4" text-anchor="middle">5</text>
<line x1="1524.95" y1="487" x2="1524.95" y2="496" stroke="#0a0a0a" stroke-width="3" stroke-linecap="butt"/>
<text transform="translate(1524.95,530) scale(1.09,1)" font-size="24.4" text-anchor="middle">10</text>
<line x1="1608.3" y1="487" x2="1608.3" y2="496" stroke="#0a0a0a" stroke-width="3" stroke-linecap="butt"/>
<text transform="translate(1608.3,530) scale(1.09,1)" font-size="24.4" text-anchor="middle">15</text>
<line x1="1691.65" y1="487" x2="1691.65" y2="496" stroke="#0a0a0a" stroke-width="3" stroke-linecap="butt"/>
<text transform="translate(1691.65,530) scale(1.09,1)" font-size="24.4" text-anchor="middle">20</text>
<line x1="1775" y1="487" x2="1775" y2="496" stroke="#0a0a0a" stroke-width="3" stroke-linecap="butt"/>
<text transform="translate(1775,530) scale(1.09,1)" font-size="24.4" text-anchor="middle">25</text>
<text transform="translate(1440,571.25)" font-size="23.4" textLength="253" lengthAdjust="spacingAndGlyphs">Days post inoculation</text>
<text transform="translate(1250.3,408.3) rotate(-90)" font-size="27" textLength="249.5" lengthAdjust="spacingAndGlyphs">Tumor volume (mm<tspan font-size="15.1" dy="-13.5">3</tspan><tspan dy="13.5">)</tspan></text>
<polyline points="1358.25,487 1508.28,452.94 1558.29,458.39 1624.97,465.2 1691.65,470.99 1741.66,470.65" fill="none" stroke="#0a0a0a" stroke-width="3" stroke-linejoin="round" stroke-linecap="butt"/>
<polyline points="1358.25,487 1508.28,451.58 1558.29,453.96 1624.97,460.09 1691.65,466.22 1741.66,466.56" fill="none" stroke="#0a0a0a" stroke-width="3" stroke-linejoin="round" stroke-linecap="butt"/>
<polyline points="1358.25,487 1508.28,453.62 1558.29,421.95 1624.97,366.77 1691.65,314.66 1741.66,223.38" fill="none" stroke="#0a0a0a" stroke-width="3" stroke-linejoin="round" stroke-linecap="butt"/>
<polyline points="1358.25,487 1508.28,453.62 1558.29,412.07 1624.97,351.78 1691.65,267.99 1741.66,170.24" fill="none" stroke="#0a0a0a" stroke-width="3" stroke-linejoin="round" stroke-linecap="butt"/>
<line x1="1624.97" y1="360.98" x2="1624.97" y2="341.22" stroke="#0a0a0a" stroke-width="3" stroke-linecap="butt"/>
<line x1="1616.57" y1="360.98" x2="1633.37" y2="360.98" stroke="#0a0a0a" stroke-width="3" stroke-linecap="butt"/>
<line x1="1616.57" y1="341.22" x2="1633.37" y2="341.22" stroke="#0a0a0a" stroke-width="3" stroke-linecap="butt"/>
<line x1="1691.65" y1="278.55" x2="1691.65" y2="257.1" stroke="#0a0a0a" stroke-width="3" stroke-linecap="butt"/>
<line x1="1683.25" y1="278.55" x2="1700.05" y2="278.55" stroke="#0a0a0a" stroke-width="3" stroke-linecap="butt"/>
<line x1="1683.25" y1="257.1" x2="1700.05" y2="257.1" stroke="#0a0a0a" stroke-width="3" stroke-linecap="butt"/>
<line x1="1741.66" y1="184.55" x2="1741.66" y2="155.94" stroke="#0a0a0a" stroke-width="3" stroke-linecap="butt"/>
<line x1="1733.26" y1="184.55" x2="1750.06" y2="184.55" stroke="#0a0a0a" stroke-width="3" stroke-linecap="butt"/>
<line x1="1733.26" y1="155.94" x2="1750.06" y2="155.94" stroke="#0a0a0a" stroke-width="3" stroke-linecap="butt"/>
<line x1="1691.65" y1="330.66" x2="1691.65" y2="303.08" stroke="#0a0a0a" stroke-width="3" stroke-linecap="butt"/>
<line x1="1683.25" y1="330.66" x2="1700.05" y2="330.66" stroke="#0a0a0a" stroke-width="3" stroke-linecap="butt"/>
<line x1="1683.25" y1="303.08" x2="1700.05" y2="303.08" stroke="#0a0a0a" stroke-width="3" stroke-linecap="butt"/>
<line x1="1741.66" y1="242.45" x2="1741.66" y2="204.3" stroke="#0a0a0a" stroke-width="3" stroke-linecap="butt"/>
<line x1="1733.26" y1="242.45" x2="1750.06" y2="242.45" stroke="#0a0a0a" stroke-width="3" stroke-linecap="butt"/>
<line x1="1733.26" y1="204.3" x2="1750.06" y2="204.3" stroke="#0a0a0a" stroke-width="3" stroke-linecap="butt"/>
<polygon points="1358.25,496.93 1364.33,479.78 1352.17,479.78" fill="#fff" stroke="#0a0a0a" stroke-width="5.7" stroke-linejoin="miter" stroke-linecap="butt"/>
<polygon points="1508.28,462.87 1514.36,445.72 1502.2,445.72" fill="#fff" stroke="#0a0a0a" stroke-width="5.7" stroke-linejoin="miter" stroke-linecap="butt"/>
<polygon points="1558.29,468.32 1564.37,451.17 1552.21,451.17" fill="#fff" stroke="#0a0a0a" stroke-width="5.7" stroke-linejoin="miter" stroke-linecap="butt"/>
<polygon points="1624.97,475.13 1631.05,457.98 1618.89,457.98" fill="#fff" stroke="#0a0a0a" stroke-width="5.7" stroke-linejoin="miter" stroke-linecap="butt"/>
<polygon points="1691.65,480.92 1697.73,463.77 1685.57,463.77" fill="#fff" stroke="#0a0a0a" stroke-width="5.7" stroke-linejoin="miter" stroke-linecap="butt"/>
<polygon points="1741.66,480.58 1747.74,463.43 1735.58,463.43" fill="#fff" stroke="#0a0a0a" stroke-width="5.7" stroke-linejoin="miter" stroke-linecap="butt"/>
<polygon points="1358.25,476.1 1367.5,493.68 1349,493.68" fill="#0a0a0a" stroke="#0a0a0a" stroke-width="0.5" stroke-linejoin="miter" stroke-linecap="butt"/>
<polygon points="1508.28,440.68 1517.53,458.26 1499.03,458.26" fill="#0a0a0a" stroke="#0a0a0a" stroke-width="0.5" stroke-linejoin="miter" stroke-linecap="butt"/>
<polygon points="1558.29,443.07 1567.54,460.64 1549.04,460.64" fill="#0a0a0a" stroke="#0a0a0a" stroke-width="0.5" stroke-linejoin="miter" stroke-linecap="butt"/>
<polygon points="1624.97,449.2 1634.22,466.77 1615.72,466.77" fill="#0a0a0a" stroke="#0a0a0a" stroke-width="0.5" stroke-linejoin="miter" stroke-linecap="butt"/>
<polygon points="1691.65,455.33 1700.9,472.9 1682.4,472.9" fill="#0a0a0a" stroke="#0a0a0a" stroke-width="0.5" stroke-linejoin="miter" stroke-linecap="butt"/>
<polygon points="1741.66,455.67 1750.91,473.24 1732.41,473.24" fill="#0a0a0a" stroke="#0a0a0a" stroke-width="0.5" stroke-linejoin="miter" stroke-linecap="butt"/>
<rect x="1349.85" y="478.6" width="16.8" height="16.8" fill="#0a0a0a"/>
<rect x="1499.88" y="445.22" width="16.8" height="16.8" fill="#0a0a0a"/>
<rect x="1549.89" y="413.55" width="16.8" height="16.8" fill="#0a0a0a"/>
<rect x="1616.57" y="358.37" width="16.8" height="16.8" fill="#0a0a0a"/>
<rect x="1683.25" y="306.26" width="16.8" height="16.8" fill="#0a0a0a"/>
<rect x="1733.26" y="214.98" width="16.8" height="16.8" fill="#0a0a0a"/>
<circle cx="1358.25" cy="487" r="8.75" fill="#0a0a0a"/>
<circle cx="1508.28" cy="453.62" r="8.75" fill="#0a0a0a"/>
<circle cx="1558.29" cy="412.07" r="8.75" fill="#0a0a0a"/>
<circle cx="1624.97" cy="351.78" r="8.75" fill="#0a0a0a"/>
<circle cx="1691.65" cy="267.99" r="8.75" fill="#0a0a0a"/>
<circle cx="1741.66" cy="170.24" r="8.75" fill="#0a0a0a"/>
<line x1="1376" y1="79.5" x2="1407.5" y2="79.5" stroke="#0a0a0a" stroke-width="3" stroke-linecap="butt"/>
<circle cx="1391" cy="79.5" r="8.75" fill="#0a0a0a"/>
<line x1="1376" y1="138.25" x2="1407.5" y2="138.25" stroke="#0a0a0a" stroke-width="3" stroke-linecap="butt"/>
<rect x="1382.75" y="130" width="16.5" height="16.5" fill="#0a0a0a"/>
<line x1="1376" y1="214" x2="1407.5" y2="214" stroke="#0a0a0a" stroke-width="3" stroke-linecap="butt"/>
<polygon points="1391,203.69 1399.75,220.32 1382.25,220.32" fill="#0a0a0a" stroke="#0a0a0a" stroke-width="0.5" stroke-linejoin="miter" stroke-linecap="butt"/>
<line x1="1376" y1="307.5" x2="1407.5" y2="307.5" stroke="#0a0a0a" stroke-width="3" stroke-linecap="butt"/>
<polygon points="1391,316.9 1398.16,300.66 1383.84,300.66" fill="#fff" stroke="#0a0a0a" stroke-width="3.06" stroke-linejoin="miter" stroke-linecap="butt"/>
<text transform="translate(1421,88) scale(1.09,1)" font-size="21">Isotype</text>
<text transform="translate(1421,131.25) scale(1.09,1)" font-size="21">Anti-huPD-1-</text>
<text transform="translate(1421,158.75) scale(1.09,1)" font-size="21">muGITR-L - WT</text>
<text transform="translate(1421,207.5) scale(1.09,1)" font-size="21">Anti-muPD-1-</text>
<text transform="translate(1421,235) scale(1.09,1)" font-size="21">muGITR-L - WT</text>
<text transform="translate(1421,290.5) scale(1.09,1)" font-size="21">Anti-huPD-1-</text>
<text transform="translate(1421,317.5) scale(1.09,1)" font-size="21">muGITR-L -</text>
<text transform="translate(1421,344.5) scale(1.09,1)" font-size="21">huPD-1-HO</text>
<line x1="1509" y1="374" x2="1509" y2="411.5" stroke="#0a0a0a" stroke-width="2.2" stroke-linecap="butt"/>
<polygon points="1509,424 1499.5,406.5 1509,411.5 1518.5,406.5" fill="#0a0a0a" stroke="#0a0a0a" stroke-width="0.5" stroke-linejoin="miter" stroke-linecap="butt"/>
<polyline points="1776.2,408.3 1790.3,408.3 1790.3,460.4 1776.2,460.4" fill="none" stroke="#0a0a0a" stroke-width="3.9" stroke-linejoin="miter" stroke-linecap="butt"/>
<polyline points="1793.3,342.2 1806.3,342.2 1806.3,465.4 1793.3,465.4" fill="none" stroke="#0a0a0a" stroke-width="3.9" stroke-linejoin="miter" stroke-linecap="butt"/>
<polyline points="1812.3,228.5 1825.4,228.5 1825.4,466.4 1812.3,466.4" fill="none" stroke="#0a0a0a" stroke-width="3.9" stroke-linejoin="miter" stroke-linecap="butt"/>
<polyline points="1836.4,157.2 1849.4,157.2 1849.4,467.4 1836.4,467.4" fill="none" stroke="#0a0a0a" stroke-width="3.9" stroke-linejoin="miter" stroke-linecap="butt"/>
<text transform="translate(1861.4,309)" font-size="21.6" textLength="106" lengthAdjust="spacingAndGlyphs"><tspan font-style="italic">P</tspan> &lt; 0.0001</text>
<text transform="translate(1832.4,349.2)" font-size="21.6" textLength="106" lengthAdjust="spacingAndGlyphs"><tspan font-style="italic">P</tspan> &lt; 0.0001</text>
<text transform="translate(1811.3,407.3)" font-size="21.6" textLength="106" lengthAdjust="spacingAndGlyphs"><tspan font-style="italic">P</tspan> &lt; 0.0001</text>
<text transform="translate(1796.3,447.4)" font-size="21.6" textLength="106" lengthAdjust="spacingAndGlyphs"><tspan font-style="italic">P</tspan> &lt; 0.0004</text>
<g transform="translate(1803.7,21.8) scale(0.93,1.0)"><ellipse cx="18.6" cy="125" rx="15" ry="7.5" fill="#5a5a5a" opacity="0.5" filter="url(#blr)"/><circle cx="16.6" cy="97.6" r="4.2" fill="#0b0b0b"/><circle cx="16.6" cy="98.4" r="1.5" fill="#fff"/><ellipse cx="23.2" cy="127.2" rx="4.8" ry="3.8" fill="#0b0b0b"/><ellipse cx="12.9" cy="112.5" rx="4.1" ry="12.9" fill="url(#gTe)" stroke="#1f6d64" stroke-width="0.7"/><ellipse cx="26.3" cy="112.5" rx="4.1" ry="12.9" fill="url(#gTe)" stroke="#1f6d64" stroke-width="0.7"/><ellipse cx="19.6" cy="112.5" rx="4.1" ry="12.9" fill="url(#gTe)" stroke="#1f6d64" stroke-width="0.7"/><ellipse cx="83.6" cy="125" rx="15" ry="7.5" fill="#5a5a5a" opacity="0.5" filter="url(#blr)"/><circle cx="87" cy="97.6" r="4.2" fill="#0b0b0b"/><circle cx="87" cy="98.4" r="1.5" fill="#fff"/><ellipse cx="80.4" cy="127.2" rx="4.8" ry="3.8" fill="#0b0b0b"/><ellipse cx="77.9" cy="112.5" rx="4.1" ry="12.9" fill="url(#gTe)" stroke="#1f6d64" stroke-width="0.7"/><ellipse cx="91.3" cy="112.5" rx="4.1" ry="12.9" fill="url(#gTe)" stroke="#1f6d64" stroke-width="0.7"/><ellipse cx="84.6" cy="112.5" rx="4.1" ry="12.9" fill="url(#gTe)" stroke="#1f6d64" stroke-width="0.7"/><path d="M44.5,99.5 C43.5,105.5 37,105 34,101.5 C31,98 29,97.6 26.5,98.8" fill="none" stroke="#0b0b0b" stroke-width="2.8" stroke-linecap="round"/><path d="M57.5,99.5 C58.5,105.5 65,105 68,101.5 C71,98 74,97.4 79.5,98.2" fill="none" stroke="#0b0b0b" stroke-width="2.8" stroke-linecap="round"/><ellipse cx="20.8" cy="16.2" rx="14.2" ry="7.6" fill="#0b0b0b" transform="rotate(18 20.8 16.2)"/><circle cx="21.7" cy="9.3" r="5.1" fill="#0b0b0b"/><ellipse cx="27" cy="28.4" rx="12" ry="6.2" fill="#0b0b0b" transform="rotate(30 27 28.4)"/><ellipse cx="35.5" cy="42.5" rx="8.5" ry="5.6" fill="#0b0b0b" transform="rotate(40 35.5 42.5)"/><ellipse cx="33.6" cy="47" rx="5.2" ry="5" fill="#0b0b0b"/><ellipse cx="33.8" cy="37.4" rx="12.6" ry="6.1" fill="#0b0b0b" transform="rotate(24 33.8 37.4)"/><path d="M40,40 L47.5,43.5 L47.5,50 L42,50 Z" fill="#0b0b0b"/><ellipse cx="22.3" cy="18.4" rx="9" ry="3.9" fill="url(#gOr)" transform="rotate(18 22.3 18.4)"/><path d="M18.2,25.6 L23.6,26.6 L20.6,30.2 Z" fill="url(#gOr)"/><path d="M31.4,30.6 L34.8,27.6 L35.4,31.2 Z" fill="url(#gBr)"/><ellipse cx="33.4" cy="37.2" rx="10" ry="3.7" fill="url(#gBr)" transform="rotate(23 33.4 37.2)"/><path d="M31.2,44.8 L35.2,44.4 L33.4,48.4 Z" fill="url(#gBr)"/><g transform="translate(103.8,0) scale(-1,1)"><ellipse cx="20.8" cy="16.2" rx="14.2" ry="7.6" fill="#0b0b0b" transform="rotate(18 20.8 16.2)"/><circle cx="21.7" cy="9.3" r="5.1" fill="#0b0b0b"/><ellipse cx="27" cy="28.4" rx="12" ry="6.2" fill="#0b0b0b" transform="rotate(30 27 28.4)"/><ellipse cx="35.5" cy="42.5" rx="8.5" ry="5.6" fill="#0b0b0b" transform="rotate(40 35.5 42.5)"/><ellipse cx="33.6" cy="47" rx="5.2" ry="5" fill="#0b0b0b"/><ellipse cx="33.8" cy="37.4" rx="12.6" ry="6.1" fill="#0b0b0b" transform="rotate(24 33.8 37.4)"/><path d="M40,40 L47.5,43.5 L47.5,50 L42,50 Z" fill="#0b0b0b"/><ellipse cx="22.3" cy="18.4" rx="9" ry="3.9" fill="url(#gOr)" transform="rotate(18 22.3 18.4)"/><path d="M18.2,25.6 L23.6,26.6 L20.6,30.2 Z" fill="url(#gOr)"/><path d="M31.4,30.6 L34.8,27.6 L35.4,31.2 Z" fill="url(#gBr)"/><ellipse cx="33.4" cy="37.2" rx="10" ry="3.7" fill="url(#gBr)" transform="rotate(23 33.4 37.2)"/><path d="M31.2,44.8 L35.2,44.4 L33.4,48.4 Z" fill="url(#gBr)"/></g><rect x="43.6" y="43" width="16.6" height="11.5" fill="#0b0b0b"/><ellipse cx="44" cy="65.7" rx="7" ry="13.2" fill="#0b0b0b"/><ellipse cx="56.4" cy="65.7" rx="7" ry="13.2" fill="#0b0b0b"/><ellipse cx="44" cy="65.7" rx="3.3" ry="10.6" fill="url(#gBr)"/><ellipse cx="56.4" cy="65.7" rx="3.3" ry="10.6" fill="url(#gBr)"/><path d="M48.5,53.5 L53.5,53.5 L50.5,58.5 Z" fill="#fff"/><path d="M48.8,77 L52.5,77 L50.5,73 Z" fill="#fff"/><ellipse cx="45.5" cy="89" rx="6.2" ry="12" fill="#0b0b0b"/><ellipse cx="56" cy="89" rx="6.2" ry="12" fill="#0b0b0b"/><ellipse cx="45" cy="84.5" rx="1.8" ry="2.8" fill="url(#gBr)" transform="rotate(20 45 84.5)"/><ellipse cx="56.5" cy="96" rx="1.8" ry="2.8" fill="url(#gBr)" transform="rotate(20 56.5 96)"/><ellipse cx="51" cy="89.2" rx="10.8" ry="3.6" fill="url(#gBr)" transform="rotate(-58 51 89.2)"/></g>
<g transform="translate(1700.2,285.6) scale(0.93,1.0)"><ellipse cx="18.6" cy="125" rx="15" ry="7.5" fill="#5a5a5a" opacity="0.5" filter="url(#blr)"/><circle cx="16.6" cy="97.6" r="4.2" fill="#0b0b0b"/><circle cx="16.6" cy="98.4" r="1.5" fill="#fff"/><ellipse cx="23.2" cy="127.2" rx="4.8" ry="3.8" fill="#0b0b0b"/><ellipse cx="12.9" cy="112.5" rx="4.1" ry="12.9" fill="url(#gTe)" stroke="#1f6d64" stroke-width="0.7"/><ellipse cx="26.3" cy="112.5" rx="4.1" ry="12.9" fill="url(#gTe)" stroke="#1f6d64" stroke-width="0.7"/><ellipse cx="19.6" cy="112.5" rx="4.1" ry="12.9" fill="url(#gTe)" stroke="#1f6d64" stroke-width="0.7"/><ellipse cx="83.6" cy="125" rx="15" ry="7.5" fill="#5a5a5a" opacity="0.5" filter="url(#blr)"/><circle cx="87" cy="97.6" r="4.2" fill="#0b0b0b"/><circle cx="87" cy="98.4" r="1.5" fill="#fff"/><ellipse cx="80.4" cy="127.2" rx="4.8" ry="3.8" fill="#0b0b0b"/><ellipse cx="77.9" cy="112.5" rx="4.1" ry="12.9" fill="url(#gTe)" stroke="#1f6d64" stroke-width="0.7"/><ellipse cx="91.3" cy="112.5" rx="4.1" ry="12.9" fill="url(#gTe)" stroke="#1f6d64" stroke-width="0.7"/><ellipse cx="84.6" cy="112.5" rx="4.1" ry="12.9" fill="url(#gTe)" stroke="#1f6d64" stroke-width="0.7"/><path d="M44.5,99.5 C43.5,105.5 37,105 34,101.5 C31,98 29,97.6 26.5,98.8" fill="none" stroke="#0b0b0b" stroke-width="2.8" stroke-linecap="round"/><path d="M57.5,99.5 C58.5,105.5 65,105 68,101.5 C71,98 74,97.4 79.5,98.2" fill="none" stroke="#0b0b0b" stroke-width="2.8" stroke-linecap="round"/><ellipse cx="20.8" cy="16.2" rx="14.2" ry="7.6" fill="#0b0b0b" transform="rotate(18 20.8 16.2)"/><circle cx="21.7" cy="9.3" r="5.1" fill="#0b0b0b"/><ellipse cx="27" cy="28.4" rx="12" ry="6.2" fill="#0b0b0b" transform="rotate(30 27 28.4)"/><ellipse cx="35.5" cy="42.5" rx="8.5" ry="5.6" fill="#0b0b0b" transform="rotate(40 35.5 42.5)"/><ellipse cx="33.6" cy="47" rx="5.2" ry="5" fill="#0b0b0b"/><ellipse cx="33.8" cy="37.4" rx="12.6" ry="6.1" fill="#0b0b0b" transform="rotate(24 33.8 37.4)"/><path d="M40,40 L47.5,43.5 L47.5,50 L42,50 Z" fill="#0b0b0b"/><ellipse cx="22.3" cy="18.4" rx="9" ry="3.9" fill="url(#gPu)" transform="rotate(18 22.3 18.4)"/><path d="M18.2,25.6 L23.6,26.6 L20.6,30.2 Z" fill="url(#gPu)"/><path d="M31.4,30.6 L34.8,27.6 L35.4,31.2 Z" fill="url(#gBr)"/><ellipse cx="33.4" cy="37.2" rx="10" ry="3.7" fill="url(#gBr)" transform="rotate(23 33.4 37.2)"/><path d="M31.2,44.8 L35.2,44.4 L33.4,48.4 Z" fill="url(#gBr)"/><g transform="translate(103.8,0) scale(-1,1)"><ellipse cx="20.8" cy="16.2" rx="14.2" ry="7.6" fill="#0b0b0b" transform="rotate(18 20.8 16.2)"/><circle cx="21.7" cy="9.3" r="5.1" fill="#0b0b0b"/><ellipse cx="27" cy="28.4" rx="12" ry="6.2" fill="#0b0b0b" transform="rotate(30 27 28.4)"/><ellipse cx="35.5" cy="42.5" rx="8.5" ry="5.6" fill="#0b0b0b" transform="rotate(40 35.5 42.5)"/><ellipse cx="33.6" cy="47" rx="5.2" ry="5" fill="#0b0b0b"/><ellipse cx="33.8" cy="37.4" rx="12.6" ry="6.1" fill="#0b0b0b" transform="rotate(24 33.8 37.4)"/><path d="M40,40 L47.5,43.5 L47.5,50 L42,50 Z" fill="#0b0b0b"/><ellipse cx="22.3" cy="18.4" rx="9" ry="3.9" fill="url(#gPu)" transform="rotate(18 22.3 18.4)"/><path d="M18.2,25.6 L23.6,26.6 L20.6,30.2 Z" fill="url(#gPu)"/><path d="M31.4,30.6 L34.8,27.6 L35.4,31.2 Z" fill="url(#gBr)"/><ellipse cx="33.4" cy="37.2" rx="10" ry="3.7" fill="url(#gBr)" transform="rotate(23 33.4 37.2)"/><path d="M31.2,44.8 L35.2,44.4 L33.4,48.4 Z" fill="url(#gBr)"/></g><rect x="43.6" y="43" width="16.6" height="11.5" fill="#0b0b0b"/><ellipse cx="44" cy="65.7" rx="7" ry="13.2" fill="#0b0b0b"/><ellipse cx="56.4" cy="65.7" rx="7" ry="13.2" fill="#0b0b0b"/><ellipse cx="44" cy="65.7" rx="3.3" ry="10.6" fill="url(#gBr)"/><ellipse cx="56.4" cy="65.7" rx="3.3" ry="10.6" fill="url(#gBr)"/><path d="M48.5,53.5 L53.5,53.5 L50.5,58.5 Z" fill="#fff"/><path d="M48.8,77 L52.5,77 L50.5,73 Z" fill="#fff"/><ellipse cx="45.5" cy="89" rx="6.2" ry="12" fill="#0b0b0b"/><ellipse cx="56" cy="89" rx="6.2" ry="12" fill="#0b0b0b"/><ellipse cx="45" cy="84.5" rx="1.8" ry="2.8" fill="url(#gBr)" transform="rotate(20 45 84.5)"/><ellipse cx="56.5" cy="96" rx="1.8" ry="2.8" fill="url(#gBr)" transform="rotate(20 56.5 96)"/><ellipse cx="51" cy="89.2" rx="10.8" ry="3.6" fill="url(#gBr)" transform="rotate(-58 51 89.2)"/></g>
<g transform="translate(1852.7,461) scale(0.93,1.0)"><ellipse cx="18.6" cy="125" rx="15" ry="7.5" fill="#5a5a5a" opacity="0.5" filter="url(#blr)"/><circle cx="16.6" cy="97.6" r="4.2" fill="#0b0b0b"/><circle cx="16.6" cy="98.4" r="1.5" fill="#fff"/><ellipse cx="23.2" cy="127.2" rx="4.8" ry="3.8" fill="#0b0b0b"/><ellipse cx="12.9" cy="112.5" rx="4.1" ry="12.9" fill="url(#gTe)" stroke="#1f6d64" stroke-width="0.7"/><ellipse cx="26.3" cy="112.5" rx="4.1" ry="12.9" fill="url(#gTe)" stroke="#1f6d64" stroke-width="0.7"/><ellipse cx="19.6" cy="112.5" rx="4.1" ry="12.9" fill="url(#gTe)" stroke="#1f6d64" stroke-width="0.7"/><ellipse cx="83.6" cy="125" rx="15" ry="7.5" fill="#5a5a5a" opacity="0.5" filter="url(#blr)"/><circle cx="87" cy="97.6" r="4.2" fill="#0b0b0b"/><circle cx="87" cy="98.4" r="1.5" fill="#fff"/><ellipse cx="80.4" cy="127.2" rx="4.8" ry="3.8" fill="#0b0b0b"/><ellipse cx="77.9" cy="112.5" rx="4.1" ry="12.9" fill="url(#gTe)" stroke="#1f6d64" stroke-width="0.7"/><ellipse cx="91.3" cy="112.5" rx="4.1" ry="12.9" fill="url(#gTe)" stroke="#1f6d64" stroke-width="0.7"/><ellipse cx="84.6" cy="112.5" rx="4.1" ry="12.9" fill="url(#gTe)" stroke="#1f6d64" stroke-width="0.7"/><path d="M44.5,99.5 C43.5,105.5 37,105 34,101.5 C31,98 29,97.6 26.5,98.8" fill="none" stroke="#0b0b0b" stroke-width="2.8" stroke-linecap="round"/><path d="M57.5,99.5 C58.5,105.5 65,105 68,101.5 C71,98 74,97.4 79.5,98.2" fill="none" stroke="#0b0b0b" stroke-width="2.8" stroke-linecap="round"/><ellipse cx="20.8" cy="16.2" rx="14.2" ry="7.6" fill="#0b0b0b" transform="rotate(18 20.8 16.2)"/><circle cx="21.7" cy="9.3" r="5.1" fill="#0b0b0b"/><ellipse cx="27" cy="28.4" rx="12" ry="6.2" fill="#0b0b0b" transform="rotate(30 27 28.4)"/><ellipse cx="35.5" cy="42.5" rx="8.5" ry="5.6" fill="#0b0b0b" transform="rotate(40 35.5 42.5)"/><ellipse cx="33.6" cy="47" rx="5.2" ry="5" fill="#0b0b0b"/><ellipse cx="33.8" cy="37.4" rx="12.6" ry="6.1" fill="#0b0b0b" transform="rotate(24 33.8 37.4)"/><path d="M40,40 L47.5,43.5 L47.5,50 L42,50 Z" fill="#0b0b0b"/><ellipse cx="22.3" cy="18.4" rx="9" ry="3.9" fill="url(#gOr)" transform="rotate(18 22.3 18.4)"/><path d="M18.2,25.6 L23.6,26.6 L20.6,30.2 Z" fill="url(#gOr)"/><path d="M31.4,30.6 L34.8,27.6 L35.4,31.2 Z" fill="url(#gBr)"/><ellipse cx="33.4" cy="37.2" rx="10" ry="3.7" fill="url(#gBr)" transform="rotate(23 33.4 37.2)"/><path d="M31.2,44.8 L35.2,44.4 L33.4,48.4 Z" fill="url(#gBr)"/><g transform="translate(103.8,0) scale(-1,1)"><ellipse cx="20.8" cy="16.2" rx="14.2" ry="7.6" fill="#0b0b0b" transform="rotate(18 20.8 16.2)"/><circle cx="21.7" cy="9.3" r="5.1" fill="#0b0b0b"/><ellipse cx="27" cy="28.4" rx="12" ry="6.2" fill="#0b0b0b" transform="rotate(30 27 28.4)"/><ellipse cx="35.5" cy="42.5" rx="8.5" ry="5.6" fill="#0b0b0b" transform="rotate(40 35.5 42.5)"/><ellipse cx="33.6" cy="47" rx="5.2" ry="5" fill="#0b0b0b"/><ellipse cx="33.8" cy="37.4" rx="12.6" ry="6.1" fill="#0b0b0b" transform="rotate(24 33.8 37.4)"/><path d="M40,40 L47.5,43.5 L47.5,50 L42,50 Z" fill="#0b0b0b"/><ellipse cx="22.3" cy="18.4" rx="9" ry="3.9" fill="url(#gOr)" transform="rotate(18 22.3 18.4)"/><path d="M18.2,25.6 L23.6,26.6 L20.6,30.2 Z" fill="url(#gOr)"/><path d="M31.4,30.6 L34.8,27.6 L35.4,31.2 Z" fill="url(#gBr)"/><ellipse cx="33.4" cy="37.2" rx="10" ry="3.7" fill="url(#gBr)" transform="rotate(23 33.4 37.2)"/><path d="M31.2,44.8 L35.2,44.4 L33.4,48.4 Z" fill="url(#gBr)"/></g><rect x="43.6" y="43" width="16.6" height="11.5" fill="#0b0b0b"/><ellipse cx="44" cy="65.7" rx="7" ry="13.2" fill="#0b0b0b"/><ellipse cx="56.4" cy="65.7" rx="7" ry="13.2" fill="#0b0b0b"/><ellipse cx="44" cy="65.7" rx="3.3" ry="10.6" fill="url(#gBr)"/><ellipse cx="56.4" cy="65.7" rx="3.3" ry="10.6" fill="url(#gBr)"/><path d="M48.5,53.5 L53.5,53.5 L50.5,58.5 Z" fill="#fff"/><path d="M48.8,77 L52.5,77 L50.5,73 Z" fill="#fff"/><ellipse cx="45.5" cy="89" rx="6.2" ry="12" fill="#0b0b0b"/><ellipse cx="56" cy="89" rx="6.2" ry="12" fill="#0b0b0b"/><ellipse cx="45" cy="84.5" rx="1.8" ry="2.8" fill="url(#gBr)" transform="rotate(20 45 84.5)"/><ellipse cx="56.5" cy="96" rx="1.8" ry="2.8" fill="url(#gBr)" transform="rotate(20 56.5 96)"/><ellipse cx="51" cy="89.2" rx="10.8" ry="3.6" fill="url(#gBr)" transform="rotate(-58 51 89.2)"/></g>
<line x1="1803" y1="113.4" x2="1766.72" y2="184.33" stroke="#0a0a0a" stroke-width="2.2" stroke-linecap="butt"/>
<polygon points="1760.8,195.9 1760.08,176.44 1766.72,184.33 1777,185.09" fill="#0a0a0a" stroke="#0a0a0a" stroke-width="0.5" stroke-linejoin="miter" stroke-linecap="butt"/>
<line x1="1743.2" y1="411.3" x2="1754.33" y2="446.99" stroke="#0a0a0a" stroke-width="2.2" stroke-linecap="butt"/>
<polygon points="1758.2,459.4 1744.07,446 1754.33,446.99 1762.21,440.34" fill="#0a0a0a" stroke="#0a0a0a" stroke-width="0.5" stroke-linejoin="miter" stroke-linecap="butt"/>
<line x1="1853.4" y1="505.5" x2="1784.39" y2="479.92" stroke="#0a0a0a" stroke-width="2.2" stroke-linecap="butt"/>
<polygon points="1772.2,475.4 1791.44,472.4 1784.39,479.92 1784.84,490.22" fill="#0a0a0a" stroke="#0a0a0a" stroke-width="0.5" stroke-linejoin="miter" stroke-linecap="butt"/>
<text transform="translate(-0.5,703.5)" font-size="29" font-weight="bold" stroke="#231f20" stroke-width="0.9" stroke-linejoin="round">c</text>
<circle cx="28.25" cy="713" r="6.3" fill="#0a0a0a"/>
<circle cx="28.25" cy="744.25" r="5.2" fill="#fff" stroke="#0a0a0a" stroke-width="2.3"/>
<text transform="translate(50,720) scale(1.04,1)" font-size="14">Isotype</text>
<text transform="translate(50,751.25)" font-size="14" textLength="241.25" lengthAdjust="spacingAndGlyphs">Anti-muPD-1/huGITR-L - huGITR-HO</text>
<text transform="translate(16,1061.2) rotate(-90)" font-size="19.1" textLength="280.6" lengthAdjust="spacingAndGlyphs">Percentage of parental population</text>
<rect x="75.5" y="786.4" width="356.25" height="266.6" fill="none" stroke="#0a0a0a" stroke-width="3"/>
<line x1="68.9" y1="1054" x2="75.5" y2="1054" stroke="#0a0a0a" stroke-width="3" stroke-linecap="butt"/>
<text transform="translate(58.3,1060.6)" font-size="18.5" text-anchor="end">0</text>
<line x1="68.9" y1="987.1" x2="75.5" y2="987.1" stroke="#0a0a0a" stroke-width="3" stroke-linecap="butt"/>
<text transform="translate(58.3,993.7)" font-size="18.5" text-anchor="end">10</text>
<line x1="68.9" y1="920.2" x2="75.5" y2="920.2" stroke="#0a0a0a" stroke-width="3" stroke-linecap="butt"/>
<text transform="translate(58.3,926.8)" font-size="18.5" text-anchor="end">20</text>
<line x1="68.9" y1="853.3" x2="75.5" y2="853.3" stroke="#0a0a0a" stroke-width="3" stroke-linecap="butt"/>
<text transform="translate(58.3,859.9)" font-size="18.5" text-anchor="end">30</text>
<line x1="68.9" y1="786.4" x2="75.5" y2="786.4" stroke="#0a0a0a" stroke-width="3" stroke-linecap="butt"/>
<text transform="translate(58.3,793)" font-size="18.5" text-anchor="end">40</text>
<circle cx="93" cy="1005.16" r="6.6" fill="#0a0a0a"/>
<circle cx="98" cy="995.13" r="6.6" fill="#0a0a0a"/>
<circle cx="101" cy="991.78" r="6.6" fill="#0a0a0a"/>
<circle cx="96" cy="988.44" r="6.6" fill="#0a0a0a"/>
<circle cx="93" cy="990.44" r="6.6" fill="#0a0a0a"/>
<line x1="86.5" y1="993.79" x2="105.5" y2="993.79" stroke="#0a0a0a" stroke-width="3" stroke-linecap="butt"/>
<circle cx="122.5" cy="926.89" r="5.4" fill="#fff" stroke="#0a0a0a" stroke-width="2.4"/>
<circle cx="122.5" cy="940.94" r="5.4" fill="#fff" stroke="#0a0a0a" stroke-width="2.4"/>
<circle cx="122.5" cy="957" r="5.4" fill="#fff" stroke="#0a0a0a" stroke-width="2.4"/>
<circle cx="119" cy="979.74" r="5.4" fill="#fff" stroke="#0a0a0a" stroke-width="2.4"/>
<circle cx="126" cy="979.74" r="5.4" fill="#fff" stroke="#0a0a0a" stroke-width="2.4"/>
<line x1="113" y1="957" x2="132" y2="957" stroke="#0a0a0a" stroke-width="3" stroke-linecap="butt"/>
<line x1="122.5" y1="979.74" x2="122.5" y2="933.58" stroke="#0a0a0a" stroke-width="2.5" stroke-linecap="butt"/>
<line x1="118.5" y1="979.74" x2="126.5" y2="979.74" stroke="#0a0a0a" stroke-width="2.5" stroke-linecap="butt"/>
<line x1="118.5" y1="933.58" x2="126.5" y2="933.58" stroke="#0a0a0a" stroke-width="2.5" stroke-linecap="butt"/>
<circle cx="166.5" cy="1045.97" r="6.6" fill="#0a0a0a"/>
<circle cx="170.5" cy="1047.31" r="6.6" fill="#0a0a0a"/>
<circle cx="164.5" cy="1040.62" r="6.6" fill="#0a0a0a"/>
<circle cx="168.5" cy="1036.61" r="6.6" fill="#0a0a0a"/>
<circle cx="169.5" cy="1041.96" r="6.6" fill="#0a0a0a"/>
<line x1="158" y1="1041.96" x2="177" y2="1041.96" stroke="#0a0a0a" stroke-width="3" stroke-linecap="butt"/>
<circle cx="192" cy="961.68" r="5.4" fill="#fff" stroke="#0a0a0a" stroke-width="2.4"/>
<circle cx="198" cy="970.38" r="5.4" fill="#fff" stroke="#0a0a0a" stroke-width="2.4"/>
<circle cx="192" cy="1000.48" r="5.4" fill="#fff" stroke="#0a0a0a" stroke-width="2.4"/>
<circle cx="198" cy="1000.48" r="5.4" fill="#fff" stroke="#0a0a0a" stroke-width="2.4"/>
<circle cx="195" cy="1023.89" r="5.4" fill="#fff" stroke="#0a0a0a" stroke-width="2.4"/>
<line x1="185.5" y1="990.44" x2="204.5" y2="990.44" stroke="#0a0a0a" stroke-width="3" stroke-linecap="butt"/>
<line x1="195" y1="1017.21" x2="195" y2="967.03" stroke="#0a0a0a" stroke-width="2.5" stroke-linecap="butt"/>
<line x1="191" y1="1017.21" x2="199" y2="1017.21" stroke="#0a0a0a" stroke-width="2.5" stroke-linecap="butt"/>
<line x1="191" y1="967.03" x2="199" y2="967.03" stroke="#0a0a0a" stroke-width="2.5" stroke-linecap="butt"/>
<circle cx="245" cy="998.47" r="6.6" fill="#0a0a0a"/>
<circle cx="240" cy="1010.51" r="6.6" fill="#0a0a0a"/>
<circle cx="241" cy="1017.21" r="6.6" fill="#0a0a0a"/>
<circle cx="244" cy="1021.89" r="6.6" fill="#0a0a0a"/>
<circle cx="239" cy="1025.23" r="6.6" fill="#0a0a0a"/>
<line x1="231.5" y1="1015.2" x2="250.5" y2="1015.2" stroke="#0a0a0a" stroke-width="3" stroke-linecap="butt"/>
<circle cx="267" cy="839.92" r="5.4" fill="#fff" stroke="#0a0a0a" stroke-width="2.4"/>
<circle cx="273" cy="843.26" r="5.4" fill="#fff" stroke="#0a0a0a" stroke-width="2.4"/>
<circle cx="269" cy="849.95" r="5.4" fill="#fff" stroke="#0a0a0a" stroke-width="2.4"/>
<circle cx="273" cy="863.34" r="5.4" fill="#fff" stroke="#0a0a0a" stroke-width="2.4"/>
<circle cx="267" cy="870.02" r="5.4" fill="#fff" stroke="#0a0a0a" stroke-width="2.4"/>
<line x1="259.5" y1="853.3" x2="278.5" y2="853.3" stroke="#0a0a0a" stroke-width="3" stroke-linecap="butt"/>
<line x1="269" y1="866.68" x2="269" y2="839.92" stroke="#0a0a0a" stroke-width="2.5" stroke-linecap="butt"/>
<line x1="265" y1="866.68" x2="273" y2="866.68" stroke="#0a0a0a" stroke-width="2.5" stroke-linecap="butt"/>
<line x1="265" y1="839.92" x2="273" y2="839.92" stroke="#0a0a0a" stroke-width="2.5" stroke-linecap="butt"/>
<circle cx="320" cy="973.72" r="6.6" fill="#0a0a0a"/>
<circle cx="312" cy="980.41" r="6.6" fill="#0a0a0a"/>
<circle cx="314" cy="987.1" r="6.6" fill="#0a0a0a"/>
<circle cx="316" cy="992.45" r="6.6" fill="#0a0a0a"/>
<circle cx="311" cy="1000.48" r="6.6" fill="#0a0a0a"/>
<line x1="304.5" y1="987.1" x2="323.5" y2="987.1" stroke="#0a0a0a" stroke-width="3" stroke-linecap="butt"/>
<circle cx="341" cy="910.16" r="5.4" fill="#fff" stroke="#0a0a0a" stroke-width="2.4"/>
<circle cx="338" cy="923.54" r="5.4" fill="#fff" stroke="#0a0a0a" stroke-width="2.4"/>
<circle cx="344" cy="926.89" r="5.4" fill="#fff" stroke="#0a0a0a" stroke-width="2.4"/>
<circle cx="341" cy="930.24" r="5.4" fill="#fff" stroke="#0a0a0a" stroke-width="2.4"/>
<circle cx="341" cy="943.62" r="5.4" fill="#fff" stroke="#0a0a0a" stroke-width="2.4"/>
<line x1="331.5" y1="926.89" x2="350.5" y2="926.89" stroke="#0a0a0a" stroke-width="3" stroke-linecap="butt"/>
<line x1="341" y1="936.92" x2="341" y2="913.51" stroke="#0a0a0a" stroke-width="2.5" stroke-linecap="butt"/>
<line x1="337" y1="936.92" x2="345" y2="936.92" stroke="#0a0a0a" stroke-width="2.5" stroke-linecap="butt"/>
<line x1="337" y1="913.51" x2="345" y2="913.51" stroke="#0a0a0a" stroke-width="2.5" stroke-linecap="butt"/>
<circle cx="384" cy="997.13" r="6.6" fill="#0a0a0a"/>
<circle cx="392" cy="1007.17" r="6.6" fill="#0a0a0a"/>
<circle cx="386" cy="1017.21" r="6.6" fill="#0a0a0a"/>
<circle cx="391" cy="1023.89" r="6.6" fill="#0a0a0a"/>
<circle cx="385" cy="1030.59" r="6.6" fill="#0a0a0a"/>
<line x1="376.5" y1="1015.2" x2="395.5" y2="1015.2" stroke="#0a0a0a" stroke-width="3" stroke-linecap="butt"/>
<circle cx="411.5" cy="958.33" r="5.4" fill="#fff" stroke="#0a0a0a" stroke-width="2.4"/>
<circle cx="415.5" cy="963.68" r="5.4" fill="#fff" stroke="#0a0a0a" stroke-width="2.4"/>
<circle cx="416.5" cy="983.75" r="5.4" fill="#fff" stroke="#0a0a0a" stroke-width="2.4"/>
<circle cx="412.5" cy="987.1" r="5.4" fill="#fff" stroke="#0a0a0a" stroke-width="2.4"/>
<circle cx="409.5" cy="990.44" r="5.4" fill="#fff" stroke="#0a0a0a" stroke-width="2.4"/>
<line x1="403" y1="977.07" x2="422" y2="977.07" stroke="#0a0a0a" stroke-width="3" stroke-linecap="butt"/>
<line x1="412.5" y1="990.44" x2="412.5" y2="963.68" stroke="#0a0a0a" stroke-width="2.5" stroke-linecap="butt"/>
<line x1="408.5" y1="990.44" x2="416.5" y2="990.44" stroke="#0a0a0a" stroke-width="2.5" stroke-linecap="butt"/>
<line x1="408.5" y1="963.68" x2="416.5" y2="963.68" stroke="#0a0a0a" stroke-width="2.5" stroke-linecap="butt"/>
<line x1="88.75" y1="904.5" x2="123.75" y2="904.5" stroke="#0a0a0a" stroke-width="3.5" stroke-linecap="butt"/>
<text transform="translate(79.5,896.25)" font-size="14" textLength="69.25" lengthAdjust="spacingAndGlyphs"><tspan font-style="italic">P</tspan> = 0.0010</text>
<line x1="160.75" y1="940" x2="200" y2="940" stroke="#0a0a0a" stroke-width="3.5" stroke-linecap="butt"/>
<text transform="translate(148.75,931.25)" font-size="14" textLength="68.25" lengthAdjust="spacingAndGlyphs"><tspan font-style="italic">P</tspan> &lt; 0.0001</text>
<line x1="238.75" y1="815.5" x2="273" y2="815.5" stroke="#0a0a0a" stroke-width="3.5" stroke-linecap="butt"/>
<text transform="translate(218.25,808.25)" font-size="14" textLength="68.75" lengthAdjust="spacingAndGlyphs"><tspan font-style="italic">P</tspan> &lt; 0.0001</text>
<line x1="300" y1="889.5" x2="334.25" y2="889.5" stroke="#0a0a0a" stroke-width="3.5" stroke-linecap="butt"/>
<text transform="translate(276.25,879.5)" font-size="14" textLength="68.75" lengthAdjust="spacingAndGlyphs"><tspan font-style="italic">P</tspan> &lt; 0.0001</text>
<line x1="377" y1="933.75" x2="410.5" y2="933.75" stroke="#0a0a0a" stroke-width="3.5" stroke-linecap="butt"/>
<text transform="translate(356.75,921.25)" font-size="14" textLength="69.5" lengthAdjust="spacingAndGlyphs"><tspan font-style="italic">P</tspan> = 0.0007</text>
<text transform="translate(122,1078) rotate(-45)" font-size="18.41" text-anchor="end"><tspan>TIGIT</tspan><tspan font-size="10.7" dy="-9.2">+</tspan><tspan dy="9.2"> /CD4</tspan><tspan font-size="10.7" dy="-9.2">+</tspan></text>
<text transform="translate(186,1078) rotate(-45)" font-size="18.09" text-anchor="end"><tspan>Ki67</tspan><tspan font-size="10.5" dy="-9.0">+</tspan><tspan dy="9.0"> /CD4</tspan><tspan font-size="10.5" dy="-9.0">+</tspan></text>
<text transform="translate(263,1073) rotate(-45)" font-size="17.44" text-anchor="end"><tspan>CD62L</tspan><tspan font-size="10.1" dy="-8.7">+</tspan><tspan dy="8.7"> CD44</tspan><tspan font-size="10.1" dy="-8.7">+</tspan><tspan dy="8.7"> /CD4</tspan><tspan font-size="10.1" dy="-8.7">+</tspan><tspan dy="8.7"> T</tspan><tspan font-size="10.8" dx="5.2" dy="2.4">CM</tspan></text>
<text transform="translate(330,1078) rotate(-45)" font-size="18.22" text-anchor="end"><tspan>Ki67</tspan><tspan font-size="10.6" dy="-9.1">+</tspan><tspan dy="9.1"> /CD8</tspan><tspan font-size="10.6" dy="-9.1">+</tspan></text>
<text transform="translate(410,1073) rotate(-45)" font-size="17.32" text-anchor="end"><tspan>CD62L</tspan><tspan font-size="10.0" dy="-8.7">+</tspan><tspan dy="8.7"> CD44</tspan><tspan font-size="10.0" dy="-8.7">+</tspan><tspan dy="8.7"> /CD8</tspan><tspan font-size="10.0" dy="-8.7">+</tspan><tspan dy="8.7"> T</tspan><tspan font-size="10.7" dx="5.2" dy="2.4">CM</tspan></text>
<text transform="translate(549.5,705)" font-size="29" font-weight="bold" stroke="#231f20" stroke-width="0.9" stroke-linejoin="round">d</text>
<circle cx="589.25" cy="714.25" r="6.3" fill="#0a0a0a"/>
<circle cx="589.25" cy="745" r="5.2" fill="#fff" stroke="#0a0a0a" stroke-width="2.3"/>
<text transform="translate(606.25,720) scale(1.04,1)" font-size="14">Isotype</text>
<text transform="translate(606.25,751.25)" font-size="14" textLength="241.25" lengthAdjust="spacingAndGlyphs">Anti-huPD-1-muGITR-L - huPD-1-HO</text>
<text transform="translate(557.7,1055.8) rotate(-90)" font-size="19.1" textLength="280.6" lengthAdjust="spacingAndGlyphs">Percentage of parental population</text>
<rect x="618.75" y="797.5" width="345.5" height="237.5" fill="none" stroke="#444" stroke-width="1.4"/>
<line x1="610" y1="1035" x2="618.75" y2="1035" stroke="#444" stroke-width="1.4" stroke-linecap="butt"/>
<text transform="translate(598.9,1041.6)" font-size="18.5" text-anchor="end">0</text>
<line x1="610" y1="955.83" x2="618.75" y2="955.83" stroke="#444" stroke-width="1.4" stroke-linecap="butt"/>
<text transform="translate(598.9,962.43)" font-size="18.5" text-anchor="end">20</text>
<line x1="610" y1="876.67" x2="618.75" y2="876.67" stroke="#444" stroke-width="1.4" stroke-linecap="butt"/>
<text transform="translate(598.9,883.27)" font-size="18.5" text-anchor="end">40</text>
<line x1="610" y1="797.5" x2="618.75" y2="797.5" stroke="#444" stroke-width="1.4" stroke-linecap="butt"/>
<text transform="translate(598.9,804.1)" font-size="18.5" text-anchor="end">60</text>
<line x1="649.25" y1="1035" x2="649.25" y2="1044.5" stroke="#444" stroke-width="1.4" stroke-linecap="butt"/>
<line x1="720.25" y1="1035" x2="720.25" y2="1044.5" stroke="#444" stroke-width="1.4" stroke-linecap="butt"/>
<line x1="791.75" y1="1035" x2="791.75" y2="1044.5" stroke="#444" stroke-width="1.4" stroke-linecap="butt"/>
<line x1="863" y1="1035" x2="863" y2="1044.5" stroke="#444" stroke-width="1.4" stroke-linecap="butt"/>
<line x1="934.25" y1="1035" x2="934.25" y2="1044.5" stroke="#444" stroke-width="1.4" stroke-linecap="butt"/>
<circle cx="636.25" cy="983.54" r="6.9" fill="#0a0a0a"/>
<circle cx="636.25" cy="991.46" r="6.9" fill="#0a0a0a"/>
<circle cx="639.25" cy="995.42" r="6.9" fill="#0a0a0a"/>
<circle cx="634.25" cy="1003.33" r="6.9" fill="#0a0a0a"/>
<circle cx="637.25" cy="1005.31" r="6.9" fill="#0a0a0a"/>
<line x1="626.75" y1="995.42" x2="645.75" y2="995.42" stroke="#0a0a0a" stroke-width="3" stroke-linecap="butt"/>
<circle cx="662.25" cy="856.88" r="5.7" fill="#fff" stroke="#0a0a0a" stroke-width="2.4"/>
<circle cx="663.25" cy="860.83" r="5.7" fill="#fff" stroke="#0a0a0a" stroke-width="2.4"/>
<circle cx="664.25" cy="864.79" r="5.7" fill="#fff" stroke="#0a0a0a" stroke-width="2.4"/>
<circle cx="662.25" cy="876.67" r="5.7" fill="#fff" stroke="#0a0a0a" stroke-width="2.4"/>
<circle cx="664.25" cy="878.65" r="5.7" fill="#fff" stroke="#0a0a0a" stroke-width="2.4"/>
<circle cx="661.25" cy="872.71" r="5.7" fill="#fff" stroke="#0a0a0a" stroke-width="2.4"/>
<line x1="652.75" y1="868.75" x2="671.75" y2="868.75" stroke="#0a0a0a" stroke-width="3" stroke-linecap="butt"/>
<line x1="662.25" y1="876.67" x2="662.25" y2="860.83" stroke="#0a0a0a" stroke-width="2.5" stroke-linecap="butt"/>
<line x1="658.25" y1="876.67" x2="666.25" y2="876.67" stroke="#0a0a0a" stroke-width="2.5" stroke-linecap="butt"/>
<line x1="658.25" y1="860.83" x2="666.25" y2="860.83" stroke="#0a0a0a" stroke-width="2.5" stroke-linecap="butt"/>
<circle cx="705.25" cy="1019.17" r="6.9" fill="#0a0a0a"/>
<circle cx="709.25" cy="1023.13" r="6.9" fill="#0a0a0a"/>
<circle cx="707.25" cy="1027.08" r="6.9" fill="#0a0a0a"/>
<circle cx="706.25" cy="1029.06" r="6.9" fill="#0a0a0a"/>
<circle cx="710.25" cy="1033.02" r="6.9" fill="#0a0a0a"/>
<line x1="697.75" y1="1027.08" x2="716.75" y2="1027.08" stroke="#0a0a0a" stroke-width="3" stroke-linecap="butt"/>
<circle cx="733.25" cy="977.6" r="5.7" fill="#fff" stroke="#0a0a0a" stroke-width="2.4"/>
<circle cx="731.25" cy="987.5" r="5.7" fill="#fff" stroke="#0a0a0a" stroke-width="2.4"/>
<circle cx="735.25" cy="987.5" r="5.7" fill="#fff" stroke="#0a0a0a" stroke-width="2.4"/>
<circle cx="733.25" cy="989.48" r="5.7" fill="#fff" stroke="#0a0a0a" stroke-width="2.4"/>
<circle cx="733.25" cy="1009.27" r="5.7" fill="#fff" stroke="#0a0a0a" stroke-width="2.4"/>
<line x1="723.75" y1="987.5" x2="742.75" y2="987.5" stroke="#0a0a0a" stroke-width="3" stroke-linecap="butt"/>
<line x1="733.25" y1="1003.33" x2="733.25" y2="979.58" stroke="#0a0a0a" stroke-width="2.5" stroke-linecap="butt"/>
<line x1="729.25" y1="1003.33" x2="737.25" y2="1003.33" stroke="#0a0a0a" stroke-width="2.5" stroke-linecap="butt"/>
<line x1="729.25" y1="979.58" x2="737.25" y2="979.58" stroke="#0a0a0a" stroke-width="2.5" stroke-linecap="butt"/>
<circle cx="778.75" cy="983.54" r="6.9" fill="#0a0a0a"/>
<circle cx="776.75" cy="995.42" r="6.9" fill="#0a0a0a"/>
<circle cx="781.75" cy="999.38" r="6.9" fill="#0a0a0a"/>
<circle cx="778.75" cy="1003.33" r="6.9" fill="#0a0a0a"/>
<circle cx="775.75" cy="1007.29" r="6.9" fill="#0a0a0a"/>
<line x1="769.25" y1="997.4" x2="788.25" y2="997.4" stroke="#0a0a0a" stroke-width="3" stroke-linecap="butt"/>
<circle cx="806.75" cy="829.17" r="5.7" fill="#fff" stroke="#0a0a0a" stroke-width="2.4"/>
<circle cx="806.75" cy="833.13" r="5.7" fill="#fff" stroke="#0a0a0a" stroke-width="2.4"/>
<circle cx="802.75" cy="841.04" r="5.7" fill="#fff" stroke="#0a0a0a" stroke-width="2.4"/>
<circle cx="808.75" cy="848.96" r="5.7" fill="#fff" stroke="#0a0a0a" stroke-width="2.4"/>
<circle cx="802.75" cy="860.83" r="5.7" fill="#fff" stroke="#0a0a0a" stroke-width="2.4"/>
<line x1="795.25" y1="843.02" x2="814.25" y2="843.02" stroke="#0a0a0a" stroke-width="3" stroke-linecap="butt"/>
<line x1="804.75" y1="856.88" x2="804.75" y2="829.17" stroke="#0a0a0a" stroke-width="2.5" stroke-linecap="butt"/>
<line x1="800.75" y1="856.88" x2="808.75" y2="856.88" stroke="#0a0a0a" stroke-width="2.5" stroke-linecap="butt"/>
<line x1="800.75" y1="829.17" x2="808.75" y2="829.17" stroke="#0a0a0a" stroke-width="2.5" stroke-linecap="butt"/>
<circle cx="850" cy="1005.31" r="6.9" fill="#0a0a0a"/>
<circle cx="852" cy="1011.25" r="6.9" fill="#0a0a0a"/>
<circle cx="852" cy="1019.17" r="6.9" fill="#0a0a0a"/>
<circle cx="848" cy="1023.13" r="6.9" fill="#0a0a0a"/>
<circle cx="848" cy="1031.04" r="6.9" fill="#0a0a0a"/>
<line x1="840.5" y1="1017.19" x2="859.5" y2="1017.19" stroke="#0a0a0a" stroke-width="3" stroke-linecap="butt"/>
<circle cx="876" cy="938.02" r="5.7" fill="#fff" stroke="#0a0a0a" stroke-width="2.4"/>
<circle cx="876" cy="949.9" r="5.7" fill="#fff" stroke="#0a0a0a" stroke-width="2.4"/>
<circle cx="876" cy="959.79" r="5.7" fill="#fff" stroke="#0a0a0a" stroke-width="2.4"/>
<circle cx="874" cy="965.73" r="5.7" fill="#fff" stroke="#0a0a0a" stroke-width="2.4"/>
<circle cx="878" cy="965.73" r="5.7" fill="#fff" stroke="#0a0a0a" stroke-width="2.4"/>
<line x1="866.5" y1="957.81" x2="885.5" y2="957.81" stroke="#0a0a0a" stroke-width="3" stroke-linecap="butt"/>
<line x1="876" y1="967.71" x2="876" y2="945.94" stroke="#0a0a0a" stroke-width="2.5" stroke-linecap="butt"/>
<line x1="872" y1="967.71" x2="880" y2="967.71" stroke="#0a0a0a" stroke-width="2.5" stroke-linecap="butt"/>
<line x1="872" y1="945.94" x2="880" y2="945.94" stroke="#0a0a0a" stroke-width="2.5" stroke-linecap="butt"/>
<circle cx="919.25" cy="1011.25" r="6.9" fill="#0a0a0a"/>
<circle cx="923.25" cy="1015.21" r="6.9" fill="#0a0a0a"/>
<circle cx="921.25" cy="1017.19" r="6.9" fill="#0a0a0a"/>
<circle cx="923.25" cy="1019.17" r="6.9" fill="#0a0a0a"/>
<circle cx="921.25" cy="1021.15" r="6.9" fill="#0a0a0a"/>
<line x1="911.75" y1="1017.19" x2="930.75" y2="1017.19" stroke="#0a0a0a" stroke-width="3" stroke-linecap="butt"/>
<circle cx="947.25" cy="922.19" r="5.7" fill="#fff" stroke="#0a0a0a" stroke-width="2.4"/>
<circle cx="950.25" cy="953.85" r="5.7" fill="#fff" stroke="#0a0a0a" stroke-width="2.4"/>
<circle cx="945.25" cy="957.81" r="5.7" fill="#fff" stroke="#0a0a0a" stroke-width="2.4"/>
<circle cx="950.25" cy="969.69" r="5.7" fill="#fff" stroke="#0a0a0a" stroke-width="2.4"/>
<circle cx="945.25" cy="981.56" r="5.7" fill="#fff" stroke="#0a0a0a" stroke-width="2.4"/>
<line x1="937.75" y1="957.81" x2="956.75" y2="957.81" stroke="#0a0a0a" stroke-width="3" stroke-linecap="butt"/>
<line x1="947.25" y1="979.58" x2="947.25" y2="934.06" stroke="#0a0a0a" stroke-width="2.5" stroke-linecap="butt"/>
<line x1="943.25" y1="979.58" x2="951.25" y2="979.58" stroke="#0a0a0a" stroke-width="2.5" stroke-linecap="butt"/>
<line x1="943.25" y1="934.06" x2="951.25" y2="934.06" stroke="#0a0a0a" stroke-width="2.5" stroke-linecap="butt"/>
<line x1="632.5" y1="836.25" x2="657.5" y2="836.25" stroke="#0a0a0a" stroke-width="3.5" stroke-linecap="butt"/>
<text transform="translate(614.5,828)" font-size="14" textLength="68.5" lengthAdjust="spacingAndGlyphs"><tspan font-style="italic">P</tspan> &lt; 0.0001</text>
<line x1="690.75" y1="952.5" x2="731.25" y2="952.5" stroke="#0a0a0a" stroke-width="3.5" stroke-linecap="butt"/>
<text transform="translate(675,943.75)" font-size="14" textLength="68.5" lengthAdjust="spacingAndGlyphs"><tspan font-style="italic">P</tspan> &lt; 0.0001</text>
<line x1="763" y1="826.75" x2="795.5" y2="826.75" stroke="#0a0a0a" stroke-width="3.5" stroke-linecap="butt"/>
<text transform="translate(745.75,818)" font-size="14" textLength="68.5" lengthAdjust="spacingAndGlyphs"><tspan font-style="italic">P</tspan> &lt; 0.0001</text>
<line x1="832.5" y1="910.75" x2="864.25" y2="910.75" stroke="#0a0a0a" stroke-width="3.5" stroke-linecap="butt"/>
<text transform="translate(815,903.75)" font-size="14" textLength="68.5" lengthAdjust="spacingAndGlyphs"><tspan font-style="italic">P</tspan> &lt; 0.0001</text>
<line x1="912.5" y1="908.75" x2="942.5" y2="908.75" stroke="#0a0a0a" stroke-width="3.5" stroke-linecap="butt"/>
<text transform="translate(892.5,903.75)" font-size="14" textLength="68.5" lengthAdjust="spacingAndGlyphs"><tspan font-style="italic">P</tspan> &lt; 0.0001</text>
<text transform="translate(656,1067.5) rotate(-45)" font-size="17.79" text-anchor="end"><tspan>TIGIT</tspan><tspan font-size="10.3" dy="-8.9">+</tspan><tspan dy="8.9"> /CD4</tspan><tspan font-size="10.3" dy="-8.9">+</tspan></text>
<text transform="translate(724.5,1067.5) rotate(-45)" font-size="17.36" text-anchor="end"><tspan>Ki67</tspan><tspan font-size="10.1" dy="-8.7">+</tspan><tspan dy="8.7"> /CD4</tspan><tspan font-size="10.1" dy="-8.7">+</tspan></text>
<text transform="translate(806,1065) rotate(-45)" font-size="17.43" text-anchor="end"><tspan>CD62L</tspan><tspan font-size="10.1" dy="-8.7">+</tspan><tspan dy="8.7"> CD44</tspan><tspan font-size="10.1" dy="-8.7">+</tspan><tspan dy="8.7"> /CD4</tspan><tspan font-size="10.1" dy="-8.7">+</tspan><tspan dy="8.7"> T</tspan><tspan font-size="10.8" dx="5.2" dy="2.4">CM</tspan></text>
<text transform="translate(863,1067.5) rotate(-45)" font-size="17.4" text-anchor="end"><tspan>Ki67</tspan><tspan font-size="10.1" dy="-8.7">+</tspan><tspan dy="8.7"> /CD8</tspan><tspan font-size="10.1" dy="-8.7">+</tspan></text>
<text transform="translate(940,1064) rotate(-45)" font-size="17.59" text-anchor="end"><tspan>CD62L</tspan><tspan font-size="10.2" dy="-8.8">+</tspan><tspan dy="8.8"> CD44</tspan><tspan font-size="10.2" dy="-8.8">+</tspan><tspan dy="8.8"> /CD8</tspan><tspan font-size="10.2" dy="-8.8">+</tspan><tspan dy="8.8"> T</tspan><tspan font-size="10.9" dx="5.3" dy="2.5">CM</tspan></text>
<text transform="translate(1118,706)" font-size="29" font-weight="bold" stroke="#231f20" stroke-width="0.9" stroke-linejoin="round">e</text>
<circle cx="1165" cy="755" r="6.3" fill="#0a0a0a"/>
<circle cx="1165" cy="786.25" r="5.2" fill="#fff" stroke="#0a0a0a" stroke-width="2.3"/>
<text transform="translate(1182,760) scale(1.04,1)" font-size="14">Isotype</text>
<text transform="translate(1182,791.25)" font-size="14" textLength="241.25" lengthAdjust="spacingAndGlyphs">Anti-muPD-1/huGITR-L - huGITR-HO</text>
<text transform="translate(1125.6,1074.1) rotate(-90)" font-size="19.1" textLength="280.6" lengthAdjust="spacingAndGlyphs">Percentage of parental population</text>
<rect x="1185.75" y="811.75" width="341.75" height="245" fill="none" stroke="#0a0a0a" stroke-width="3"/>
<line x1="1178.75" y1="1056.75" x2="1185.75" y2="1056.75" stroke="#0a0a0a" stroke-width="3" stroke-linecap="butt"/>
<text transform="translate(1167.1,1063.35)" font-size="18.5" text-anchor="end">0</text>
<line x1="1178.75" y1="1007.75" x2="1185.75" y2="1007.75" stroke="#0a0a0a" stroke-width="3" stroke-linecap="butt"/>
<text transform="translate(1167.1,1014.35)" font-size="18.5" text-anchor="end">10</text>
<line x1="1178.75" y1="958.75" x2="1185.75" y2="958.75" stroke="#0a0a0a" stroke-width="3" stroke-linecap="butt"/>
<text transform="translate(1167.1,965.35)" font-size="18.5" text-anchor="end">20</text>
<line x1="1178.75" y1="909.75" x2="1185.75" y2="909.75" stroke="#0a0a0a" stroke-width="3" stroke-linecap="butt"/>
<text transform="translate(1167.1,916.35)" font-size="18.5" text-anchor="end">30</text>
<line x1="1178.75" y1="860.75" x2="1185.75" y2="860.75" stroke="#0a0a0a" stroke-width="3" stroke-linecap="butt"/>
<text transform="translate(1167.1,867.35)" font-size="18.5" text-anchor="end">40</text>
<line x1="1178.75" y1="811.75" x2="1185.75" y2="811.75" stroke="#0a0a0a" stroke-width="3" stroke-linecap="butt"/>
<text transform="translate(1167.1,818.35)" font-size="18.5" text-anchor="end">50</text>
<circle cx="1195" cy="1000.4" r="6.6" fill="#0a0a0a"/>
<circle cx="1195" cy="1002.85" r="6.6" fill="#0a0a0a"/>
<circle cx="1195" cy="1005.3" r="6.6" fill="#0a0a0a"/>
<circle cx="1195" cy="1003.83" r="6.6" fill="#0a0a0a"/>
<line x1="1188" y1="1002.85" x2="1202" y2="1002.85" stroke="#0a0a0a" stroke-width="3" stroke-linecap="butt"/>
<circle cx="1212.5" cy="919.55" r="5.4" fill="#fff" stroke="#0a0a0a" stroke-width="2.4"/>
<circle cx="1212.5" cy="924.45" r="5.4" fill="#fff" stroke="#0a0a0a" stroke-width="2.4"/>
<circle cx="1212.5" cy="929.35" r="5.4" fill="#fff" stroke="#0a0a0a" stroke-width="2.4"/>
<circle cx="1212.5" cy="934.25" r="5.4" fill="#fff" stroke="#0a0a0a" stroke-width="2.4"/>
<circle cx="1212.5" cy="953.85" r="5.4" fill="#fff" stroke="#0a0a0a" stroke-width="2.4"/>
<line x1="1205.5" y1="929.35" x2="1219.5" y2="929.35" stroke="#0a0a0a" stroke-width="3" stroke-linecap="butt"/>
<line x1="1212.5" y1="944.05" x2="1212.5" y2="919.55" stroke="#0a0a0a" stroke-width="2.5" stroke-linecap="butt"/>
<line x1="1209" y1="944.05" x2="1216" y2="944.05" stroke="#0a0a0a" stroke-width="2.5" stroke-linecap="butt"/>
<line x1="1209" y1="919.55" x2="1216" y2="919.55" stroke="#0a0a0a" stroke-width="2.5" stroke-linecap="butt"/>
<circle cx="1239.5" cy="1010.2" r="6.6" fill="#0a0a0a"/>
<circle cx="1239.5" cy="1032.25" r="6.6" fill="#0a0a0a"/>
<circle cx="1239.5" cy="1037.15" r="6.6" fill="#0a0a0a"/>
<circle cx="1239.5" cy="1046.95" r="6.6" fill="#0a0a0a"/>
<line x1="1232.5" y1="1032.25" x2="1246.5" y2="1032.25" stroke="#0a0a0a" stroke-width="3" stroke-linecap="butt"/>
<line x1="1239.5" y1="1042.05" x2="1239.5" y2="1017.55" stroke="#0a0a0a" stroke-width="2.5" stroke-linecap="butt"/>
<line x1="1236" y1="1042.05" x2="1243" y2="1042.05" stroke="#0a0a0a" stroke-width="2.5" stroke-linecap="butt"/>
<line x1="1236" y1="1017.55" x2="1243" y2="1017.55" stroke="#0a0a0a" stroke-width="2.5" stroke-linecap="butt"/>
<circle cx="1255.75" cy="958.75" r="5.4" fill="#fff" stroke="#0a0a0a" stroke-width="2.4"/>
<circle cx="1255.75" cy="995.5" r="5.4" fill="#fff" stroke="#0a0a0a" stroke-width="2.4"/>
<circle cx="1255.75" cy="1000.4" r="5.4" fill="#fff" stroke="#0a0a0a" stroke-width="2.4"/>
<circle cx="1255.75" cy="1002.85" r="5.4" fill="#fff" stroke="#0a0a0a" stroke-width="2.4"/>
<line x1="1248.75" y1="993.05" x2="1262.75" y2="993.05" stroke="#0a0a0a" stroke-width="3" stroke-linecap="butt"/>
<line x1="1255.75" y1="1010.2" x2="1255.75" y2="973.45" stroke="#0a0a0a" stroke-width="2.5" stroke-linecap="butt"/>
<line x1="1252.25" y1="1010.2" x2="1259.25" y2="1010.2" stroke="#0a0a0a" stroke-width="2.5" stroke-linecap="butt"/>
<line x1="1252.25" y1="973.45" x2="1259.25" y2="973.45" stroke="#0a0a0a" stroke-width="2.5" stroke-linecap="butt"/>
<circle cx="1283.25" cy="1029.8" r="6.6" fill="#0a0a0a"/>
<circle cx="1283.25" cy="1037.15" r="6.6" fill="#0a0a0a"/>
<circle cx="1283.25" cy="1042.05" r="6.6" fill="#0a0a0a"/>
<line x1="1276.25" y1="1034.7" x2="1290.25" y2="1034.7" stroke="#0a0a0a" stroke-width="3" stroke-linecap="butt"/>
<circle cx="1299.5" cy="1012.65" r="5.4" fill="#fff" stroke="#0a0a0a" stroke-width="2.4"/>
<circle cx="1299.5" cy="1024.9" r="5.4" fill="#fff" stroke="#0a0a0a" stroke-width="2.4"/>
<circle cx="1299.5" cy="1027.35" r="5.4" fill="#fff" stroke="#0a0a0a" stroke-width="2.4"/>
<line x1="1292.5" y1="1022.45" x2="1306.5" y2="1022.45" stroke="#0a0a0a" stroke-width="3" stroke-linecap="butt"/>
<line x1="1299.5" y1="1029.8" x2="1299.5" y2="1015.1" stroke="#0a0a0a" stroke-width="2.5" stroke-linecap="butt"/>
<line x1="1296" y1="1029.8" x2="1303" y2="1029.8" stroke="#0a0a0a" stroke-width="2.5" stroke-linecap="butt"/>
<line x1="1296" y1="1015.1" x2="1303" y2="1015.1" stroke="#0a0a0a" stroke-width="2.5" stroke-linecap="butt"/>
<circle cx="1326.75" cy="988.15" r="6.6" fill="#0a0a0a"/>
<circle cx="1326.75" cy="1002.85" r="6.6" fill="#0a0a0a"/>
<circle cx="1326.75" cy="1012.65" r="6.6" fill="#0a0a0a"/>
<line x1="1319.75" y1="1002.85" x2="1333.75" y2="1002.85" stroke="#0a0a0a" stroke-width="3" stroke-linecap="butt"/>
<circle cx="1343" cy="865.65" r="5.4" fill="#fff" stroke="#0a0a0a" stroke-width="2.4"/>
<circle cx="1343" cy="880.35" r="5.4" fill="#fff" stroke="#0a0a0a" stroke-width="2.4"/>
<circle cx="1343" cy="882.8" r="5.4" fill="#fff" stroke="#0a0a0a" stroke-width="2.4"/>
<circle cx="1343" cy="914.65" r="5.4" fill="#fff" stroke="#0a0a0a" stroke-width="2.4"/>
<circle cx="1343" cy="924.45" r="5.4" fill="#fff" stroke="#0a0a0a" stroke-width="2.4"/>
<line x1="1336" y1="895.05" x2="1350" y2="895.05" stroke="#0a0a0a" stroke-width="3" stroke-linecap="butt"/>
<line x1="1343" y1="919.55" x2="1343" y2="868.1" stroke="#0a0a0a" stroke-width="2.5" stroke-linecap="butt"/>
<line x1="1339.5" y1="919.55" x2="1346.5" y2="919.55" stroke="#0a0a0a" stroke-width="2.5" stroke-linecap="butt"/>
<line x1="1339.5" y1="868.1" x2="1346.5" y2="868.1" stroke="#0a0a0a" stroke-width="2.5" stroke-linecap="butt"/>
<circle cx="1370" cy="997.95" r="6.6" fill="#0a0a0a"/>
<circle cx="1370" cy="1007.75" r="6.6" fill="#0a0a0a"/>
<circle cx="1370" cy="1017.55" r="6.6" fill="#0a0a0a"/>
<line x1="1363" y1="1007.75" x2="1377" y2="1007.75" stroke="#0a0a0a" stroke-width="3" stroke-linecap="butt"/>
<circle cx="1386.75" cy="953.85" r="5.4" fill="#fff" stroke="#0a0a0a" stroke-width="2.4"/>
<circle cx="1386.75" cy="961.2" r="5.4" fill="#fff" stroke="#0a0a0a" stroke-width="2.4"/>
<circle cx="1386.75" cy="963.65" r="5.4" fill="#fff" stroke="#0a0a0a" stroke-width="2.4"/>
<circle cx="1386.75" cy="983.25" r="5.4" fill="#fff" stroke="#0a0a0a" stroke-width="2.4"/>
<line x1="1379.75" y1="963.65" x2="1393.75" y2="963.65" stroke="#0a0a0a" stroke-width="3" stroke-linecap="butt"/>
<line x1="1386.75" y1="973.45" x2="1386.75" y2="953.85" stroke="#0a0a0a" stroke-width="2.5" stroke-linecap="butt"/>
<line x1="1383.25" y1="973.45" x2="1390.25" y2="973.45" stroke="#0a0a0a" stroke-width="2.5" stroke-linecap="butt"/>
<line x1="1383.25" y1="953.85" x2="1390.25" y2="953.85" stroke="#0a0a0a" stroke-width="2.5" stroke-linecap="butt"/>
<circle cx="1413.75" cy="1007.75" r="6.6" fill="#0a0a0a"/>
<circle cx="1413.75" cy="1017.55" r="6.6" fill="#0a0a0a"/>
<circle cx="1413.75" cy="1027.35" r="6.6" fill="#0a0a0a"/>
<circle cx="1413.75" cy="1034.7" r="6.6" fill="#0a0a0a"/>
<line x1="1406.75" y1="1022.45" x2="1420.75" y2="1022.45" stroke="#0a0a0a" stroke-width="3" stroke-linecap="butt"/>
<circle cx="1430" cy="895.05" r="5.4" fill="#fff" stroke="#0a0a0a" stroke-width="2.4"/>
<circle cx="1430" cy="929.35" r="5.4" fill="#fff" stroke="#0a0a0a" stroke-width="2.4"/>
<circle cx="1430" cy="941.6" r="5.4" fill="#fff" stroke="#0a0a0a" stroke-width="2.4"/>
<circle cx="1430" cy="948.95" r="5.4" fill="#fff" stroke="#0a0a0a" stroke-width="2.4"/>
<circle cx="1430" cy="988.15" r="5.4" fill="#fff" stroke="#0a0a0a" stroke-width="2.4"/>
<line x1="1423" y1="939.15" x2="1437" y2="939.15" stroke="#0a0a0a" stroke-width="3" stroke-linecap="butt"/>
<line x1="1430" y1="973.45" x2="1430" y2="907.3" stroke="#0a0a0a" stroke-width="2.5" stroke-linecap="butt"/>
<line x1="1426.5" y1="973.45" x2="1433.5" y2="973.45" stroke="#0a0a0a" stroke-width="2.5" stroke-linecap="butt"/>
<line x1="1426.5" y1="907.3" x2="1433.5" y2="907.3" stroke="#0a0a0a" stroke-width="2.5" stroke-linecap="butt"/>
<circle cx="1457" cy="1034.7" r="6.6" fill="#0a0a0a"/>
<circle cx="1457" cy="1037.15" r="6.6" fill="#0a0a0a"/>
<circle cx="1457" cy="1036.17" r="6.6" fill="#0a0a0a"/>
<line x1="1450" y1="1037.15" x2="1464" y2="1037.15" stroke="#0a0a0a" stroke-width="3" stroke-linecap="butt"/>
<circle cx="1473.75" cy="980.8" r="5.4" fill="#fff" stroke="#0a0a0a" stroke-width="2.4"/>
<circle cx="1473.75" cy="997.95" r="5.4" fill="#fff" stroke="#0a0a0a" stroke-width="2.4"/>
<circle cx="1473.75" cy="1017.55" r="5.4" fill="#fff" stroke="#0a0a0a" stroke-width="2.4"/>
<line x1="1466.75" y1="1005.3" x2="1480.75" y2="1005.3" stroke="#0a0a0a" stroke-width="3" stroke-linecap="butt"/>
<line x1="1473.75" y1="1015.1" x2="1473.75" y2="993.05" stroke="#0a0a0a" stroke-width="2.5" stroke-linecap="butt"/>
<line x1="1470.25" y1="1015.1" x2="1477.25" y2="1015.1" stroke="#0a0a0a" stroke-width="2.5" stroke-linecap="butt"/>
<line x1="1470.25" y1="993.05" x2="1477.25" y2="993.05" stroke="#0a0a0a" stroke-width="2.5" stroke-linecap="butt"/>
<circle cx="1500.75" cy="1046.95" r="6.6" fill="#0a0a0a"/>
<circle cx="1500.75" cy="1049.4" r="6.6" fill="#0a0a0a"/>
<circle cx="1500.75" cy="1051.85" r="6.6" fill="#0a0a0a"/>
<line x1="1493.75" y1="1049.4" x2="1507.75" y2="1049.4" stroke="#0a0a0a" stroke-width="3" stroke-linecap="butt"/>
<circle cx="1517.5" cy="993.05" r="5.4" fill="#fff" stroke="#0a0a0a" stroke-width="2.4"/>
<circle cx="1517.5" cy="1007.75" r="5.4" fill="#fff" stroke="#0a0a0a" stroke-width="2.4"/>
<circle cx="1517.5" cy="1012.65" r="5.4" fill="#fff" stroke="#0a0a0a" stroke-width="2.4"/>
<circle cx="1517.5" cy="1022.45" r="5.4" fill="#fff" stroke="#0a0a0a" stroke-width="2.4"/>
<line x1="1510.5" y1="1012.65" x2="1524.5" y2="1012.65" stroke="#0a0a0a" stroke-width="3" stroke-linecap="butt"/>
<line x1="1517.5" y1="1017.55" x2="1517.5" y2="1005.3" stroke="#0a0a0a" stroke-width="2.5" stroke-linecap="butt"/>
<line x1="1514" y1="1017.55" x2="1521" y2="1017.55" stroke="#0a0a0a" stroke-width="2.5" stroke-linecap="butt"/>
<line x1="1514" y1="1005.3" x2="1521" y2="1005.3" stroke="#0a0a0a" stroke-width="2.5" stroke-linecap="butt"/>
<line x1="1195" y1="890" x2="1216.25" y2="890" stroke="#0a0a0a" stroke-width="3.5" stroke-linecap="butt"/>
<text transform="translate(1169.5,884.25)" font-size="14" textLength="68.5" lengthAdjust="spacingAndGlyphs"><tspan font-style="italic">P</tspan> &lt; 0.0001</text>
<line x1="1229.25" y1="920" x2="1253" y2="920" stroke="#0a0a0a" stroke-width="3.5" stroke-linecap="butt"/>
<text transform="translate(1220,911.25)" font-size="14" textLength="69" lengthAdjust="spacingAndGlyphs"><tspan font-style="italic">P</tspan> = 0.0003</text>
<line x1="1322.5" y1="840" x2="1343.75" y2="840" stroke="#0a0a0a" stroke-width="3.5" stroke-linecap="butt"/>
<text transform="translate(1298,831.75)" font-size="14" textLength="68.5" lengthAdjust="spacingAndGlyphs"><tspan font-style="italic">P</tspan> &lt; 0.0001</text>
<line x1="1367" y1="951.25" x2="1386.25" y2="951.25" stroke="#0a0a0a" stroke-width="3.5" stroke-linecap="butt"/>
<text transform="translate(1343,942.5)" font-size="14" textLength="69" lengthAdjust="spacingAndGlyphs"><tspan font-style="italic">P</tspan> = 0.0004</text>
<line x1="1409.5" y1="876.25" x2="1428.75" y2="876.25" stroke="#0a0a0a" stroke-width="3.5" stroke-linecap="butt"/>
<text transform="translate(1383.25,869.25)" font-size="14" textLength="68.5" lengthAdjust="spacingAndGlyphs"><tspan font-style="italic">P</tspan> &lt; 0.0001</text>
<line x1="1445" y1="982" x2="1469.5" y2="982" stroke="#0a0a0a" stroke-width="3.5" stroke-linecap="butt"/>
<text transform="translate(1436.25,974.25)" font-size="14" textLength="69" lengthAdjust="spacingAndGlyphs"><tspan font-style="italic">P</tspan> = 0.0130</text>
<line x1="1491.25" y1="921.75" x2="1512" y2="921.75" stroke="#0a0a0a" stroke-width="3.5" stroke-linecap="butt"/>
<text transform="translate(1453.75,914.25)" font-size="14" textLength="69" lengthAdjust="spacingAndGlyphs"><tspan font-style="italic">P</tspan> = 0.0006</text>
<text transform="translate(1207.5,1076) rotate(-45)" font-size="17.83" text-anchor="end"><tspan>ICOS</tspan><tspan font-size="10.3" dy="-8.9">+</tspan><tspan dy="8.9"> /CD4</tspan><tspan font-size="10.3" dy="-8.9">+</tspan></text>
<text transform="translate(1261,1073) rotate(-45)" font-size="17.34" text-anchor="end"><tspan>CD62L</tspan><tspan font-size="10.1" dy="-8.7">−</tspan><tspan dy="8.7"> CD44</tspan><tspan font-size="10.1" dy="-8.7">+</tspan><tspan dy="8.7"> /CD4</tspan><tspan font-size="10.1" dy="-8.7">+</tspan><tspan dy="8.7"> T</tspan><tspan font-size="10.8" dx="5.2" dy="2.4">EM</tspan></text>
<text transform="translate(1297.5,1076) rotate(-45)" font-size="17.61" text-anchor="end"><tspan>Ki67</tspan><tspan font-size="10.2" dy="-8.8">+</tspan><tspan dy="8.8"> /CD4</tspan><tspan font-size="10.2" dy="-8.8">+</tspan></text>
<text transform="translate(1337.5,1076) rotate(-45)" font-size="17.82" text-anchor="end"><tspan>CD226</tspan><tspan font-size="10.3" dy="-8.9">+</tspan><tspan dy="8.9"> /CD4</tspan><tspan font-size="10.3" dy="-8.9">+</tspan></text>
<text transform="translate(1381,1076) rotate(-45)" font-size="17.83" text-anchor="end"><tspan>ICOS</tspan><tspan font-size="10.3" dy="-8.9">+</tspan><tspan dy="8.9"> /CD8</tspan><tspan font-size="10.3" dy="-8.9">+</tspan></text>
<text transform="translate(1439,1073) rotate(-45)" font-size="17.28" text-anchor="end"><tspan>CD62L</tspan><tspan font-size="10.0" dy="-8.6">−</tspan><tspan dy="8.6"> CD44</tspan><tspan font-size="10.0" dy="-8.6">+</tspan><tspan dy="8.6"> /CD8</tspan><tspan font-size="10.0" dy="-8.6">+</tspan><tspan dy="8.6"> T</tspan><tspan font-size="10.7" dx="5.2" dy="2.4">EM</tspan></text>
<text transform="translate(1468,1076) rotate(-45)" font-size="17.54" text-anchor="end"><tspan>Ki67</tspan><tspan font-size="10.2" dy="-8.8">+</tspan><tspan dy="8.8"> /CD8</tspan><tspan font-size="10.2" dy="-8.8">+</tspan></text>
<text transform="translate(1516,1076) rotate(-45)" font-size="17.82" text-anchor="end"><tspan>CD226</tspan><tspan font-size="10.3" dy="-8.9">+</tspan><tspan dy="8.9"> /CD8</tspan><tspan font-size="10.3" dy="-8.9">+</tspan></text>
<text transform="translate(1694.5,705)" font-size="30" font-weight="bold" stroke="#231f20" stroke-width="0.9" stroke-linejoin="round">f</text>
<circle cx="1728.5" cy="746.2" r="6.3" fill="#0a0a0a"/>
<circle cx="1729.3" cy="773.3" r="5.2" fill="#fff" stroke="#0a0a0a" stroke-width="2.3"/>
<text transform="translate(1748.4,751) scale(1.04,1)" font-size="14">Isotype</text>
<text transform="translate(1748.4,780)" font-size="14" textLength="240.2" lengthAdjust="spacingAndGlyphs">Anti-huPD-1-muGITR-L - huPD-1-HO</text>
<text transform="translate(1711.9,1068) rotate(-90)" font-size="19.1" textLength="280.6" lengthAdjust="spacingAndGlyphs">Percentage of parental population</text>
<rect x="1772.6" y="821.2" width="339.4" height="212.8" fill="none" stroke="#444" stroke-width="1.4"/>
<line x1="1764.8" y1="1034" x2="1772.6" y2="1034" stroke="#444" stroke-width="1.4" stroke-linecap="butt"/>
<text transform="translate(1753.5,1040.6)" font-size="18.5" text-anchor="end">0</text>
<line x1="1764.8" y1="980.8" x2="1772.6" y2="980.8" stroke="#444" stroke-width="1.4" stroke-linecap="butt"/>
<text transform="translate(1753.5,987.4)" font-size="18.5" text-anchor="end">20</text>
<line x1="1764.8" y1="927.6" x2="1772.6" y2="927.6" stroke="#444" stroke-width="1.4" stroke-linecap="butt"/>
<text transform="translate(1753.5,934.2)" font-size="18.5" text-anchor="end">40</text>
<line x1="1764.8" y1="874.4" x2="1772.6" y2="874.4" stroke="#444" stroke-width="1.4" stroke-linecap="butt"/>
<text transform="translate(1753.5,881)" font-size="18.5" text-anchor="end">60</text>
<line x1="1764.8" y1="821.2" x2="1772.6" y2="821.2" stroke="#444" stroke-width="1.4" stroke-linecap="butt"/>
<text transform="translate(1753.5,827.8)" font-size="18.5" text-anchor="end">80</text>
<line x1="1791.4" y1="1034" x2="1791.4" y2="1043.7" stroke="#444" stroke-width="1.4" stroke-linecap="butt"/>
<line x1="1834.5" y1="1034" x2="1834.5" y2="1043.7" stroke="#444" stroke-width="1.4" stroke-linecap="butt"/>
<line x1="1877.3" y1="1034" x2="1877.3" y2="1043.7" stroke="#444" stroke-width="1.4" stroke-linecap="butt"/>
<line x1="1920.8" y1="1034" x2="1920.8" y2="1043.7" stroke="#444" stroke-width="1.4" stroke-linecap="butt"/>
<line x1="1963.2" y1="1034" x2="1963.2" y2="1043.7" stroke="#444" stroke-width="1.4" stroke-linecap="butt"/>
<line x1="2006.7" y1="1034" x2="2006.7" y2="1043.7" stroke="#444" stroke-width="1.4" stroke-linecap="butt"/>
<line x1="2049.8" y1="1034" x2="2049.8" y2="1043.7" stroke="#444" stroke-width="1.4" stroke-linecap="butt"/>
<line x1="2093.3" y1="1034" x2="2093.3" y2="1043.7" stroke="#444" stroke-width="1.4" stroke-linecap="butt"/>
<circle cx="1783.4" cy="996.76" r="6.6" fill="#0a0a0a"/>
<circle cx="1783.4" cy="1007.4" r="6.6" fill="#0a0a0a"/>
<circle cx="1783.4" cy="1010.06" r="6.6" fill="#0a0a0a"/>
<circle cx="1783.4" cy="1012.72" r="6.6" fill="#0a0a0a"/>
<circle cx="1783.4" cy="1018.04" r="6.6" fill="#0a0a0a"/>
<line x1="1776.4" y1="1010.06" x2="1790.4" y2="1010.06" stroke="#0a0a0a" stroke-width="3" stroke-linecap="butt"/>
<circle cx="1799.4" cy="890.36" r="5.4" fill="#fff" stroke="#0a0a0a" stroke-width="2.4"/>
<circle cx="1799.4" cy="919.62" r="5.4" fill="#fff" stroke="#0a0a0a" stroke-width="2.4"/>
<circle cx="1799.4" cy="938.24" r="5.4" fill="#fff" stroke="#0a0a0a" stroke-width="2.4"/>
<circle cx="1799.4" cy="940.9" r="5.4" fill="#fff" stroke="#0a0a0a" stroke-width="2.4"/>
<circle cx="1799.4" cy="959.52" r="5.4" fill="#fff" stroke="#0a0a0a" stroke-width="2.4"/>
<line x1="1792.4" y1="930.26" x2="1806.4" y2="930.26" stroke="#0a0a0a" stroke-width="3" stroke-linecap="butt"/>
<line x1="1799.4" y1="956.86" x2="1799.4" y2="903.66" stroke="#0a0a0a" stroke-width="2.5" stroke-linecap="butt"/>
<line x1="1795.9" y1="956.86" x2="1802.9" y2="956.86" stroke="#0a0a0a" stroke-width="2.5" stroke-linecap="butt"/>
<line x1="1795.9" y1="903.66" x2="1802.9" y2="903.66" stroke="#0a0a0a" stroke-width="2.5" stroke-linecap="butt"/>
<circle cx="1826.5" cy="991.44" r="6.6" fill="#0a0a0a"/>
<circle cx="1826.5" cy="996.76" r="6.6" fill="#0a0a0a"/>
<circle cx="1826.5" cy="1002.08" r="6.6" fill="#0a0a0a"/>
<circle cx="1826.5" cy="1004.74" r="6.6" fill="#0a0a0a"/>
<line x1="1819.5" y1="998.09" x2="1833.5" y2="998.09" stroke="#0a0a0a" stroke-width="3" stroke-linecap="butt"/>
<circle cx="1842.5" cy="898.34" r="5.4" fill="#fff" stroke="#0a0a0a" stroke-width="2.4"/>
<circle cx="1842.5" cy="916.96" r="5.4" fill="#fff" stroke="#0a0a0a" stroke-width="2.4"/>
<circle cx="1842.5" cy="924.94" r="5.4" fill="#fff" stroke="#0a0a0a" stroke-width="2.4"/>
<circle cx="1842.5" cy="951.54" r="5.4" fill="#fff" stroke="#0a0a0a" stroke-width="2.4"/>
<line x1="1835.5" y1="924.94" x2="1849.5" y2="924.94" stroke="#0a0a0a" stroke-width="3" stroke-linecap="butt"/>
<line x1="1842.5" y1="951.54" x2="1842.5" y2="906.32" stroke="#0a0a0a" stroke-width="2.5" stroke-linecap="butt"/>
<line x1="1839" y1="951.54" x2="1846" y2="951.54" stroke="#0a0a0a" stroke-width="2.5" stroke-linecap="butt"/>
<line x1="1839" y1="906.32" x2="1846" y2="906.32" stroke="#0a0a0a" stroke-width="2.5" stroke-linecap="butt"/>
<circle cx="1869.3" cy="1020.7" r="6.6" fill="#0a0a0a"/>
<circle cx="1869.3" cy="1023.36" r="6.6" fill="#0a0a0a"/>
<circle cx="1869.3" cy="1026.02" r="6.6" fill="#0a0a0a"/>
<line x1="1862.3" y1="1023.36" x2="1876.3" y2="1023.36" stroke="#0a0a0a" stroke-width="3" stroke-linecap="butt"/>
<circle cx="1885.3" cy="988.78" r="5.4" fill="#fff" stroke="#0a0a0a" stroke-width="2.4"/>
<circle cx="1885.3" cy="991.44" r="5.4" fill="#fff" stroke="#0a0a0a" stroke-width="2.4"/>
<circle cx="1885.3" cy="996.76" r="5.4" fill="#fff" stroke="#0a0a0a" stroke-width="2.4"/>
<circle cx="1885.3" cy="1018.04" r="5.4" fill="#fff" stroke="#0a0a0a" stroke-width="2.4"/>
<circle cx="1885.3" cy="1020.7" r="5.4" fill="#fff" stroke="#0a0a0a" stroke-width="2.4"/>
<line x1="1878.3" y1="1004.74" x2="1892.3" y2="1004.74" stroke="#0a0a0a" stroke-width="3" stroke-linecap="butt"/>
<line x1="1885.3" y1="1020.7" x2="1885.3" y2="991.44" stroke="#0a0a0a" stroke-width="2.5" stroke-linecap="butt"/>
<line x1="1881.8" y1="1020.7" x2="1888.8" y2="1020.7" stroke="#0a0a0a" stroke-width="2.5" stroke-linecap="butt"/>
<line x1="1881.8" y1="991.44" x2="1888.8" y2="991.44" stroke="#0a0a0a" stroke-width="2.5" stroke-linecap="butt"/>
<circle cx="1912.8" cy="1028.68" r="6.6" fill="#0a0a0a"/>
<circle cx="1912.8" cy="1030.01" r="6.6" fill="#0a0a0a"/>
<line x1="1905.8" y1="1028.68" x2="1919.8" y2="1028.68" stroke="#0a0a0a" stroke-width="3" stroke-linecap="butt"/>
<circle cx="1928.8" cy="988.78" r="5.4" fill="#fff" stroke="#0a0a0a" stroke-width="2.4"/>
<circle cx="1928.8" cy="994.1" r="5.4" fill="#fff" stroke="#0a0a0a" stroke-width="2.4"/>
<circle cx="1928.8" cy="999.42" r="5.4" fill="#fff" stroke="#0a0a0a" stroke-width="2.4"/>
<line x1="1921.8" y1="994.1" x2="1935.8" y2="994.1" stroke="#0a0a0a" stroke-width="3" stroke-linecap="butt"/>
<line x1="1928.8" y1="999.42" x2="1928.8" y2="988.78" stroke="#0a0a0a" stroke-width="2.5" stroke-linecap="butt"/>
<line x1="1925.3" y1="999.42" x2="1932.3" y2="999.42" stroke="#0a0a0a" stroke-width="2.5" stroke-linecap="butt"/>
<line x1="1925.3" y1="988.78" x2="1932.3" y2="988.78" stroke="#0a0a0a" stroke-width="2.5" stroke-linecap="butt"/>
<circle cx="1955.2" cy="1015.38" r="6.6" fill="#0a0a0a"/>
<circle cx="1955.2" cy="1018.04" r="6.6" fill="#0a0a0a"/>
<circle cx="1955.2" cy="1023.36" r="6.6" fill="#0a0a0a"/>
<line x1="1948.2" y1="1019.37" x2="1962.2" y2="1019.37" stroke="#0a0a0a" stroke-width="3" stroke-linecap="butt"/>
<circle cx="1971.2" cy="970.16" r="5.4" fill="#fff" stroke="#0a0a0a" stroke-width="2.4"/>
<circle cx="1971.2" cy="983.46" r="5.4" fill="#fff" stroke="#0a0a0a" stroke-width="2.4"/>
<circle cx="1971.2" cy="986.12" r="5.4" fill="#fff" stroke="#0a0a0a" stroke-width="2.4"/>
<circle cx="1971.2" cy="988.78" r="5.4" fill="#fff" stroke="#0a0a0a" stroke-width="2.4"/>
<circle cx="1971.2" cy="1004.74" r="5.4" fill="#fff" stroke="#0a0a0a" stroke-width="2.4"/>
<line x1="1964.2" y1="986.12" x2="1978.2" y2="986.12" stroke="#0a0a0a" stroke-width="3" stroke-linecap="butt"/>
<line x1="1971.2" y1="999.42" x2="1971.2" y2="975.48" stroke="#0a0a0a" stroke-width="2.5" stroke-linecap="butt"/>
<line x1="1967.7" y1="999.42" x2="1974.7" y2="999.42" stroke="#0a0a0a" stroke-width="2.5" stroke-linecap="butt"/>
<line x1="1967.7" y1="975.48" x2="1974.7" y2="975.48" stroke="#0a0a0a" stroke-width="2.5" stroke-linecap="butt"/>
<circle cx="1998.7" cy="970.16" r="6.6" fill="#0a0a0a"/>
<circle cx="1998.7" cy="991.44" r="6.6" fill="#0a0a0a"/>
<circle cx="1998.7" cy="996.76" r="6.6" fill="#0a0a0a"/>
<circle cx="1998.7" cy="1002.08" r="6.6" fill="#0a0a0a"/>
<circle cx="1998.7" cy="1012.72" r="6.6" fill="#0a0a0a"/>
<line x1="1991.7" y1="994.1" x2="2005.7" y2="994.1" stroke="#0a0a0a" stroke-width="3" stroke-linecap="butt"/>
<line x1="1998.7" y1="1007.4" x2="1998.7" y2="978.14" stroke="#0a0a0a" stroke-width="2.5" stroke-linecap="butt"/>
<line x1="1995.2" y1="1007.4" x2="2002.2" y2="1007.4" stroke="#0a0a0a" stroke-width="2.5" stroke-linecap="butt"/>
<line x1="1995.2" y1="978.14" x2="2002.2" y2="978.14" stroke="#0a0a0a" stroke-width="2.5" stroke-linecap="butt"/>
<circle cx="2014.7" cy="908.98" r="5.4" fill="#fff" stroke="#0a0a0a" stroke-width="2.4"/>
<circle cx="2014.7" cy="919.62" r="5.4" fill="#fff" stroke="#0a0a0a" stroke-width="2.4"/>
<circle cx="2014.7" cy="932.92" r="5.4" fill="#fff" stroke="#0a0a0a" stroke-width="2.4"/>
<circle cx="2014.7" cy="962.18" r="5.4" fill="#fff" stroke="#0a0a0a" stroke-width="2.4"/>
<circle cx="2014.7" cy="970.16" r="5.4" fill="#fff" stroke="#0a0a0a" stroke-width="2.4"/>
<line x1="2007.7" y1="938.24" x2="2021.7" y2="938.24" stroke="#0a0a0a" stroke-width="3" stroke-linecap="butt"/>
<line x1="2014.7" y1="964.84" x2="2014.7" y2="911.64" stroke="#0a0a0a" stroke-width="2.5" stroke-linecap="butt"/>
<line x1="2011.2" y1="964.84" x2="2018.2" y2="964.84" stroke="#0a0a0a" stroke-width="2.5" stroke-linecap="butt"/>
<line x1="2011.2" y1="911.64" x2="2018.2" y2="911.64" stroke="#0a0a0a" stroke-width="2.5" stroke-linecap="butt"/>
<circle cx="2041.8" cy="1018.04" r="6.6" fill="#0a0a0a"/>
<circle cx="2041.8" cy="1020.7" r="6.6" fill="#0a0a0a"/>
<circle cx="2041.8" cy="1026.02" r="6.6" fill="#0a0a0a"/>
<circle cx="2041.8" cy="1031.34" r="6.6" fill="#0a0a0a"/>
<line x1="2034.8" y1="1023.36" x2="2048.8" y2="1023.36" stroke="#0a0a0a" stroke-width="3" stroke-linecap="butt"/>
<circle cx="2057.8" cy="991.44" r="5.4" fill="#fff" stroke="#0a0a0a" stroke-width="2.4"/>
<circle cx="2057.8" cy="994.1" r="5.4" fill="#fff" stroke="#0a0a0a" stroke-width="2.4"/>
<circle cx="2057.8" cy="1010.06" r="5.4" fill="#fff" stroke="#0a0a0a" stroke-width="2.4"/>
<line x1="2050.8" y1="996.76" x2="2064.8" y2="996.76" stroke="#0a0a0a" stroke-width="3" stroke-linecap="butt"/>
<line x1="2057.8" y1="1002.08" x2="2057.8" y2="991.44" stroke="#0a0a0a" stroke-width="2.5" stroke-linecap="butt"/>
<line x1="2054.3" y1="1002.08" x2="2061.3" y2="1002.08" stroke="#0a0a0a" stroke-width="2.5" stroke-linecap="butt"/>
<line x1="2054.3" y1="991.44" x2="2061.3" y2="991.44" stroke="#0a0a0a" stroke-width="2.5" stroke-linecap="butt"/>
<circle cx="2085.3" cy="1012.72" r="6.6" fill="#0a0a0a"/>
<circle cx="2085.3" cy="1015.38" r="6.6" fill="#0a0a0a"/>
<circle cx="2085.3" cy="1016.71" r="6.6" fill="#0a0a0a"/>
<line x1="2078.3" y1="1014.05" x2="2092.3" y2="1014.05" stroke="#0a0a0a" stroke-width="3" stroke-linecap="butt"/>
<circle cx="2101.3" cy="935.58" r="5.4" fill="#fff" stroke="#0a0a0a" stroke-width="2.4"/>
<circle cx="2101.3" cy="948.88" r="5.4" fill="#fff" stroke="#0a0a0a" stroke-width="2.4"/>
<circle cx="2101.3" cy="951.54" r="5.4" fill="#fff" stroke="#0a0a0a" stroke-width="2.4"/>
<circle cx="2101.3" cy="962.18" r="5.4" fill="#fff" stroke="#0a0a0a" stroke-width="2.4"/>
<circle cx="2101.3" cy="967.5" r="5.4" fill="#fff" stroke="#0a0a0a" stroke-width="2.4"/>
<line x1="2094.3" y1="954.2" x2="2108.3" y2="954.2" stroke="#0a0a0a" stroke-width="3" stroke-linecap="butt"/>
<line x1="2101.3" y1="964.84" x2="2101.3" y2="943.56" stroke="#0a0a0a" stroke-width="2.5" stroke-linecap="butt"/>
<line x1="2097.8" y1="964.84" x2="2104.8" y2="964.84" stroke="#0a0a0a" stroke-width="2.5" stroke-linecap="butt"/>
<line x1="2097.8" y1="943.56" x2="2104.8" y2="943.56" stroke="#0a0a0a" stroke-width="2.5" stroke-linecap="butt"/>
<line x1="1777" y1="847.3" x2="1798.7" y2="847.3" stroke="#0a0a0a" stroke-width="3.5" stroke-linecap="butt"/>
<text transform="translate(1755.1,839.3)" font-size="14" textLength="68.5" lengthAdjust="spacingAndGlyphs"><tspan font-style="italic">P</tspan> &lt; 0.0001</text>
<line x1="1824" y1="877.5" x2="1842.2" y2="877.5" stroke="#0a0a0a" stroke-width="3.5" stroke-linecap="butt"/>
<text transform="translate(1799.9,870.8)" font-size="14" textLength="68.5" lengthAdjust="spacingAndGlyphs"><tspan font-style="italic">P</tspan> &lt; 0.0001</text>
<line x1="1907" y1="972.4" x2="1928.8" y2="972.4" stroke="#0a0a0a" stroke-width="3.5" stroke-linecap="butt"/>
<text transform="translate(1883.3,965.6)" font-size="14" textLength="69" lengthAdjust="spacingAndGlyphs"><tspan font-style="italic">P</tspan> = 0.0006</text>
<line x1="1955.4" y1="939" x2="1972.1" y2="939" stroke="#0a0a0a" stroke-width="3.5" stroke-linecap="butt"/>
<text transform="translate(1932.9,931.7)" font-size="14" textLength="69" lengthAdjust="spacingAndGlyphs"><tspan font-style="italic">P</tspan> = 0.0016</text>
<line x1="1992.2" y1="892.5" x2="2011.6" y2="892.5" stroke="#0a0a0a" stroke-width="3.5" stroke-linecap="butt"/>
<text transform="translate(1968,886.5)" font-size="14" textLength="68.5" lengthAdjust="spacingAndGlyphs"><tspan font-style="italic">P</tspan> &lt; 0.0001</text>
<line x1="2037" y1="1000.6" x2="2057.5" y2="1000.6" stroke="#0a0a0a" stroke-width="3.5" stroke-linecap="butt"/>
<text transform="translate(2014.5,986.9)" font-size="14" textLength="69" lengthAdjust="spacingAndGlyphs"><tspan font-style="italic">P</tspan> = 0.0159</text>
<line x1="2076.9" y1="923.3" x2="2094.5" y2="923.3" stroke="#0a0a0a" stroke-width="3.5" stroke-linecap="butt"/>
<text transform="translate(2049.8,914.8)" font-size="14" textLength="68.5" lengthAdjust="spacingAndGlyphs"><tspan font-style="italic">P</tspan> &lt; 0.0001</text>
<text transform="translate(1795.2,1060.6) rotate(-45)" font-size="17.87" text-anchor="end"><tspan>ICOS</tspan><tspan font-size="10.4" dy="-8.9">+</tspan><tspan dy="8.9"> /CD4</tspan><tspan font-size="10.4" dy="-8.9">+</tspan></text>
<text transform="translate(1848.8,1058) rotate(-45)" font-size="17.37" text-anchor="end"><tspan>CD62L</tspan><tspan font-size="10.1" dy="-8.7">−</tspan><tspan dy="8.7"> CD44</tspan><tspan font-size="10.1" dy="-8.7">+</tspan><tspan dy="8.7"> /CD4</tspan><tspan font-size="10.1" dy="-8.7">+</tspan><tspan dy="8.7"> T</tspan><tspan font-size="10.8" dx="5.2" dy="2.4">EM</tspan></text>
<text transform="translate(1885,1060.6) rotate(-45)" font-size="17.84" text-anchor="end"><tspan>Ki67</tspan><tspan font-size="10.3" dy="-8.9">+</tspan><tspan dy="8.9"> /CD4</tspan><tspan font-size="10.3" dy="-8.9">+</tspan></text>
<text transform="translate(1926,1060.6) rotate(-45)" font-size="18.08" text-anchor="end"><tspan>CD226</tspan><tspan font-size="10.5" dy="-9.0">+</tspan><tspan dy="9.0"> /CD4</tspan><tspan font-size="10.5" dy="-9.0">+</tspan></text>
<text transform="translate(1968.2,1060.6) rotate(-45)" font-size="17.82" text-anchor="end"><tspan>ICOS</tspan><tspan font-size="10.3" dy="-8.9">+</tspan><tspan dy="8.9"> /CD8</tspan><tspan font-size="10.3" dy="-8.9">+</tspan></text>
<text transform="translate(2026.8,1058) rotate(-45)" font-size="17.45" text-anchor="end"><tspan>CD62L</tspan><tspan font-size="10.1" dy="-8.7">−</tspan><tspan dy="8.7"> CD44</tspan><tspan font-size="10.1" dy="-8.7">+</tspan><tspan dy="8.7"> /CD8</tspan><tspan font-size="10.1" dy="-8.7">+</tspan><tspan dy="8.7"> T</tspan><tspan font-size="10.8" dx="5.2" dy="2.4">EM</tspan></text>
<text transform="translate(2056.4,1060.6) rotate(-45)" font-size="17.87" text-anchor="end"><tspan>Ki67</tspan><tspan font-size="10.4" dy="-8.9">+</tspan><tspan dy="8.9"> /CD8</tspan><tspan font-size="10.4" dy="-8.9">+</tspan></text>
<text transform="translate(2104.4,1060.6) rotate(-45)" font-size="17.95" text-anchor="end"><tspan>CD226</tspan><tspan font-size="10.4" dy="-9.0">+</tspan><tspan dy="9.0"> /CD8</tspan><tspan font-size="10.4" dy="-9.0">+</tspan></text>
<text transform="translate(-0.5,1301)" font-size="34" font-weight="bold" stroke="#231f20" stroke-width="0.9" stroke-linejoin="round" font-family="'Liberation Serif', serif">g</text>
<circle cx="92.5" cy="1312" r="5.8" fill="#0a0a0a"/>
<circle cx="93.25" cy="1339.25" r="4.7" fill="#fff" stroke="#0a0a0a" stroke-width="2.3"/>
<text transform="translate(105.5,1316.25) scale(1.04,1)" font-size="14">Isotype</text>
<text transform="translate(105.5,1344.25)" font-size="14" textLength="241.5" lengthAdjust="spacingAndGlyphs">Anti-muPD-1/huGITR-L - huGITR-HO</text>
<text transform="translate(41.9,1611.4) rotate(-90)" font-size="18.3" textLength="280.6" lengthAdjust="spacingAndGlyphs">Percentage of parental population</text>
<rect x="104.25" y="1355.5" width="362" height="230" fill="none" stroke="#0a0a0a" stroke-width="3"/>
<line x1="95.75" y1="1585.5" x2="104.25" y2="1585.5" stroke="#0a0a0a" stroke-width="3" stroke-linecap="butt"/>
<text transform="translate(84,1592.1)" font-size="18.5" text-anchor="end">0</text>
<line x1="95.75" y1="1556.75" x2="104.25" y2="1556.75" stroke="#0a0a0a" stroke-width="3" stroke-linecap="butt"/>
<text transform="translate(84,1563.35)" font-size="18.5" text-anchor="end">10</text>
<line x1="95.75" y1="1528" x2="104.25" y2="1528" stroke="#0a0a0a" stroke-width="3" stroke-linecap="butt"/>
<text transform="translate(84,1534.6)" font-size="18.5" text-anchor="end">20</text>
<line x1="95.75" y1="1499.25" x2="104.25" y2="1499.25" stroke="#0a0a0a" stroke-width="3" stroke-linecap="butt"/>
<text transform="translate(84,1505.85)" font-size="18.5" text-anchor="end">30</text>
<line x1="95.75" y1="1470.5" x2="104.25" y2="1470.5" stroke="#0a0a0a" stroke-width="3" stroke-linecap="butt"/>
<text transform="translate(84,1477.1)" font-size="18.5" text-anchor="end">40</text>
<line x1="95.75" y1="1441.75" x2="104.25" y2="1441.75" stroke="#0a0a0a" stroke-width="3" stroke-linecap="butt"/>
<text transform="translate(84,1448.35)" font-size="18.5" text-anchor="end">50</text>
<line x1="95.75" y1="1413" x2="104.25" y2="1413" stroke="#0a0a0a" stroke-width="3" stroke-linecap="butt"/>
<text transform="translate(84,1419.6)" font-size="18.5" text-anchor="end">60</text>
<line x1="95.75" y1="1384.25" x2="104.25" y2="1384.25" stroke="#0a0a0a" stroke-width="3" stroke-linecap="butt"/>
<text transform="translate(84,1390.85)" font-size="18.5" text-anchor="end">70</text>
<line x1="95.75" y1="1355.5" x2="104.25" y2="1355.5" stroke="#0a0a0a" stroke-width="3" stroke-linecap="butt"/>
<text transform="translate(84,1362.1)" font-size="18.5" text-anchor="end">80</text>
<line x1="133.75" y1="1585.5" x2="133.75" y2="1593" stroke="#0a0a0a" stroke-width="3" stroke-linecap="butt"/>
<line x1="193.75" y1="1585.5" x2="193.75" y2="1593" stroke="#0a0a0a" stroke-width="3" stroke-linecap="butt"/>
<line x1="255" y1="1585.5" x2="255" y2="1593" stroke="#0a0a0a" stroke-width="3" stroke-linecap="butt"/>
<line x1="315.75" y1="1585.5" x2="315.75" y2="1593" stroke="#0a0a0a" stroke-width="3" stroke-linecap="butt"/>
<line x1="376.25" y1="1585.5" x2="376.25" y2="1593" stroke="#0a0a0a" stroke-width="3" stroke-linecap="butt"/>
<line x1="437" y1="1585.5" x2="437" y2="1593" stroke="#0a0a0a" stroke-width="3" stroke-linecap="butt"/>
<circle cx="118.75" cy="1460.15" r="5.9" fill="#0a0a0a"/>
<circle cx="127.5" cy="1466.76" r="5.9" fill="#0a0a0a"/>
<circle cx="118.75" cy="1482.58" r="5.9" fill="#0a0a0a"/>
<circle cx="127.5" cy="1486.31" r="5.9" fill="#0a0a0a"/>
<circle cx="123" cy="1526.85" r="5.9" fill="#0a0a0a"/>
<line x1="116" y1="1482" x2="130" y2="1482" stroke="#0a0a0a" stroke-width="3" stroke-linecap="butt"/>
<line x1="123" y1="1496.38" x2="123" y2="1470.5" stroke="#0a0a0a" stroke-width="2.2" stroke-linecap="butt"/>
<line x1="119" y1="1496.38" x2="127" y2="1496.38" stroke="#0a0a0a" stroke-width="2.2" stroke-linecap="butt"/>
<line x1="119" y1="1470.5" x2="127" y2="1470.5" stroke="#0a0a0a" stroke-width="2.2" stroke-linecap="butt"/>
<circle cx="140" cy="1422.49" r="4.85" fill="#fff" stroke="#0a0a0a" stroke-width="2.1"/>
<circle cx="148.75" cy="1424.79" r="4.85" fill="#fff" stroke="#0a0a0a" stroke-width="2.1"/>
<circle cx="144.5" cy="1435.42" r="4.85" fill="#fff" stroke="#0a0a0a" stroke-width="2.1"/>
<circle cx="140" cy="1456.7" r="4.85" fill="#fff" stroke="#0a0a0a" stroke-width="2.1"/>
<circle cx="148.75" cy="1456.7" r="4.85" fill="#fff" stroke="#0a0a0a" stroke-width="2.1"/>
<line x1="137.5" y1="1439.74" x2="151.5" y2="1439.74" stroke="#0a0a0a" stroke-width="3" stroke-linecap="butt"/>
<line x1="144.5" y1="1446.06" x2="144.5" y2="1433.12" stroke="#0a0a0a" stroke-width="2.2" stroke-linecap="butt"/>
<line x1="140.5" y1="1446.06" x2="148.5" y2="1446.06" stroke="#0a0a0a" stroke-width="2.2" stroke-linecap="butt"/>
<line x1="140.5" y1="1433.12" x2="148.5" y2="1433.12" stroke="#0a0a0a" stroke-width="2.2" stroke-linecap="butt"/>
<circle cx="179" cy="1532.31" r="5.9" fill="#0a0a0a"/>
<circle cx="188" cy="1525.12" r="5.9" fill="#0a0a0a"/>
<circle cx="182" cy="1526.56" r="5.9" fill="#0a0a0a"/>
<circle cx="190" cy="1533.75" r="5.9" fill="#0a0a0a"/>
<circle cx="184" cy="1525.12" r="5.9" fill="#0a0a0a"/>
<line x1="177" y1="1530.01" x2="191" y2="1530.01" stroke="#0a0a0a" stroke-width="3" stroke-linecap="butt"/>
<circle cx="200" cy="1560.2" r="4.85" fill="#fff" stroke="#0a0a0a" stroke-width="2.1"/>
<circle cx="206" cy="1565.95" r="4.85" fill="#fff" stroke="#0a0a0a" stroke-width="2.1"/>
<circle cx="209" cy="1564.8" r="4.85" fill="#fff" stroke="#0a0a0a" stroke-width="2.1"/>
<circle cx="197" cy="1566.81" r="4.85" fill="#fff" stroke="#0a0a0a" stroke-width="2.1"/>
<circle cx="204" cy="1562.79" r="4.85" fill="#fff" stroke="#0a0a0a" stroke-width="2.1"/>
<line x1="196" y1="1564.51" x2="210" y2="1564.51" stroke="#0a0a0a" stroke-width="3" stroke-linecap="butt"/>
<circle cx="240" cy="1543.53" r="5.9" fill="#0a0a0a"/>
<circle cx="250" cy="1551.86" r="5.9" fill="#0a0a0a"/>
<circle cx="240" cy="1561.64" r="5.9" fill="#0a0a0a"/>
<circle cx="250" cy="1563.08" r="5.9" fill="#0a0a0a"/>
<circle cx="245" cy="1575.44" r="5.9" fill="#0a0a0a"/>
<line x1="238" y1="1560.49" x2="252" y2="1560.49" stroke="#0a0a0a" stroke-width="3" stroke-linecap="butt"/>
<line x1="245" y1="1566.81" x2="245" y2="1553.88" stroke="#0a0a0a" stroke-width="2.2" stroke-linecap="butt"/>
<line x1="241" y1="1566.81" x2="249" y2="1566.81" stroke="#0a0a0a" stroke-width="2.2" stroke-linecap="butt"/>
<line x1="241" y1="1553.88" x2="249" y2="1553.88" stroke="#0a0a0a" stroke-width="2.2" stroke-linecap="butt"/>
<circle cx="265.75" cy="1464.75" r="4.85" fill="#fff" stroke="#0a0a0a" stroke-width="2.1"/>
<circle cx="265.75" cy="1500.4" r="4.85" fill="#fff" stroke="#0a0a0a" stroke-width="2.1"/>
<circle cx="261" cy="1535.47" r="4.85" fill="#fff" stroke="#0a0a0a" stroke-width="2.1"/>
<circle cx="270.5" cy="1535.47" r="4.85" fill="#fff" stroke="#0a0a0a" stroke-width="2.1"/>
<circle cx="265.75" cy="1546.69" r="4.85" fill="#fff" stroke="#0a0a0a" stroke-width="2.1"/>
<line x1="258.75" y1="1516.5" x2="272.75" y2="1516.5" stroke="#0a0a0a" stroke-width="3" stroke-linecap="butt"/>
<line x1="265.75" y1="1533.75" x2="265.75" y2="1500.4" stroke="#0a0a0a" stroke-width="2.2" stroke-linecap="butt"/>
<line x1="261.75" y1="1533.75" x2="269.75" y2="1533.75" stroke="#0a0a0a" stroke-width="2.2" stroke-linecap="butt"/>
<line x1="261.75" y1="1500.4" x2="269.75" y2="1500.4" stroke="#0a0a0a" stroke-width="2.2" stroke-linecap="butt"/>
<circle cx="305.5" cy="1495.51" r="5.9" fill="#0a0a0a"/>
<circle cx="310" cy="1566.81" r="5.9" fill="#0a0a0a"/>
<circle cx="305" cy="1571.7" r="5.9" fill="#0a0a0a"/>
<circle cx="301" cy="1579.17" r="5.9" fill="#0a0a0a"/>
<circle cx="310" cy="1579.17" r="5.9" fill="#0a0a0a"/>
<line x1="298.5" y1="1558.76" x2="312.5" y2="1558.76" stroke="#0a0a0a" stroke-width="3" stroke-linecap="butt"/>
<line x1="305.5" y1="1574" x2="305.5" y2="1543.81" stroke="#0a0a0a" stroke-width="2.2" stroke-linecap="butt"/>
<line x1="301.5" y1="1574" x2="309.5" y2="1574" stroke="#0a0a0a" stroke-width="2.2" stroke-linecap="butt"/>
<line x1="301.5" y1="1543.81" x2="309.5" y2="1543.81" stroke="#0a0a0a" stroke-width="2.2" stroke-linecap="butt"/>
<circle cx="326" cy="1379.36" r="4.85" fill="#fff" stroke="#0a0a0a" stroke-width="2.1"/>
<circle cx="331" cy="1461.88" r="4.85" fill="#fff" stroke="#0a0a0a" stroke-width="2.1"/>
<circle cx="322.5" cy="1466.76" r="4.85" fill="#fff" stroke="#0a0a0a" stroke-width="2.1"/>
<circle cx="326" cy="1484.3" r="4.85" fill="#fff" stroke="#0a0a0a" stroke-width="2.1"/>
<circle cx="326" cy="1523.11" r="4.85" fill="#fff" stroke="#0a0a0a" stroke-width="2.1"/>
<line x1="319" y1="1466.19" x2="333" y2="1466.19" stroke="#0a0a0a" stroke-width="3" stroke-linecap="butt"/>
<line x1="326" y1="1484.88" x2="326" y2="1440.31" stroke="#0a0a0a" stroke-width="2.2" stroke-linecap="butt"/>
<line x1="322" y1="1484.88" x2="330" y2="1484.88" stroke="#0a0a0a" stroke-width="2.2" stroke-linecap="butt"/>
<line x1="322" y1="1440.31" x2="330" y2="1440.31" stroke="#0a0a0a" stroke-width="2.2" stroke-linecap="butt"/>
<circle cx="366" cy="1483.15" r="5.9" fill="#0a0a0a"/>
<circle cx="366" cy="1523.11" r="5.9" fill="#0a0a0a"/>
<circle cx="361" cy="1531.74" r="5.9" fill="#0a0a0a"/>
<circle cx="371" cy="1540.36" r="5.9" fill="#0a0a0a"/>
<circle cx="366" cy="1550.42" r="5.9" fill="#0a0a0a"/>
<line x1="359" y1="1528" x2="373" y2="1528" stroke="#0a0a0a" stroke-width="3" stroke-linecap="butt"/>
<line x1="366" y1="1540.94" x2="366" y2="1515.06" stroke="#0a0a0a" stroke-width="2.2" stroke-linecap="butt"/>
<line x1="362" y1="1540.94" x2="370" y2="1540.94" stroke="#0a0a0a" stroke-width="2.2" stroke-linecap="butt"/>
<line x1="362" y1="1515.06" x2="370" y2="1515.06" stroke="#0a0a0a" stroke-width="2.2" stroke-linecap="butt"/>
<circle cx="382.5" cy="1548.41" r="4.85" fill="#fff" stroke="#0a0a0a" stroke-width="2.1"/>
<circle cx="391" cy="1546.69" r="4.85" fill="#fff" stroke="#0a0a0a" stroke-width="2.1"/>
<circle cx="387.5" cy="1553.01" r="4.85" fill="#fff" stroke="#0a0a0a" stroke-width="2.1"/>
<circle cx="387.5" cy="1580.61" r="4.85" fill="#fff" stroke="#0a0a0a" stroke-width="2.1"/>
<circle cx="385" cy="1555.31" r="4.85" fill="#fff" stroke="#0a0a0a" stroke-width="2.1"/>
<line x1="380.5" y1="1556.75" x2="394.5" y2="1556.75" stroke="#0a0a0a" stroke-width="3" stroke-linecap="butt"/>
<line x1="387.5" y1="1563.94" x2="387.5" y2="1549.56" stroke="#0a0a0a" stroke-width="2.2" stroke-linecap="butt"/>
<line x1="383.5" y1="1563.94" x2="391.5" y2="1563.94" stroke="#0a0a0a" stroke-width="2.2" stroke-linecap="butt"/>
<line x1="383.5" y1="1549.56" x2="391.5" y2="1549.56" stroke="#0a0a0a" stroke-width="2.2" stroke-linecap="butt"/>
<circle cx="423" cy="1503.56" r="5.9" fill="#0a0a0a"/>
<circle cx="432" cy="1507.3" r="5.9" fill="#0a0a0a"/>
<circle cx="423" cy="1514.2" r="5.9" fill="#0a0a0a"/>
<circle cx="432" cy="1526.85" r="5.9" fill="#0a0a0a"/>
<circle cx="423" cy="1532.89" r="5.9" fill="#0a0a0a"/>
<line x1="421" y1="1517.94" x2="435" y2="1517.94" stroke="#0a0a0a" stroke-width="3" stroke-linecap="butt"/>
<line x1="428" y1="1523.69" x2="428" y2="1512.19" stroke="#0a0a0a" stroke-width="2.2" stroke-linecap="butt"/>
<line x1="424" y1="1523.69" x2="432" y2="1523.69" stroke="#0a0a0a" stroke-width="2.2" stroke-linecap="butt"/>
<line x1="424" y1="1512.19" x2="432" y2="1512.19" stroke="#0a0a0a" stroke-width="2.2" stroke-linecap="butt"/>
<circle cx="447.5" cy="1555.89" r="4.85" fill="#fff" stroke="#0a0a0a" stroke-width="2.1"/>
<circle cx="452.5" cy="1562.21" r="4.85" fill="#fff" stroke="#0a0a0a" stroke-width="2.1"/>
<circle cx="443.75" cy="1569.69" r="4.85" fill="#fff" stroke="#0a0a0a" stroke-width="2.1"/>
<circle cx="450" cy="1570.55" r="4.85" fill="#fff" stroke="#0a0a0a" stroke-width="2.1"/>
<circle cx="447" cy="1565.38" r="4.85" fill="#fff" stroke="#0a0a0a" stroke-width="2.1"/>
<line x1="440.5" y1="1565.38" x2="454.5" y2="1565.38" stroke="#0a0a0a" stroke-width="3" stroke-linecap="butt"/>
<line x1="447.5" y1="1568.25" x2="447.5" y2="1562.5" stroke="#0a0a0a" stroke-width="2.2" stroke-linecap="butt"/>
<line x1="443.5" y1="1568.25" x2="451.5" y2="1568.25" stroke="#0a0a0a" stroke-width="2.2" stroke-linecap="butt"/>
<line x1="443.5" y1="1562.5" x2="451.5" y2="1562.5" stroke="#0a0a0a" stroke-width="2.2" stroke-linecap="butt"/>
<line x1="307.5" y1="1372.5" x2="326.25" y2="1372.5" stroke="#0a0a0a" stroke-width="3.5" stroke-linecap="butt"/>
<text transform="translate(281.25,1368.75)" font-size="14" textLength="68.5" lengthAdjust="spacingAndGlyphs"><tspan font-style="italic">P</tspan> &lt; 0.0001</text>
<line x1="422.5" y1="1488" x2="440.5" y2="1488" stroke="#0a0a0a" stroke-width="3.5" stroke-linecap="butt"/>
<text transform="translate(392.5,1481.25)" font-size="14" textLength="69" lengthAdjust="spacingAndGlyphs"><tspan font-style="italic">P</tspan> = 0.0294</text>
<text transform="translate(136,1608) rotate(-45)" font-size="17.6" text-anchor="end"><tspan>Ki67</tspan><tspan font-size="10.2" dy="-8.8">+</tspan><tspan dy="8.8"> /CD8</tspan><tspan font-size="10.2" dy="-8.8">+</tspan></text>
<text transform="translate(194.5,1607) rotate(-45)" font-size="16.43" text-anchor="end"><tspan>T</tspan><tspan font-size="10.2" dx="4.9" dy="2.3">reg</tspan><tspan dy="-2.3"> /CD4</tspan><tspan font-size="9.5" dy="-8.2">+</tspan></text>
<text transform="translate(256.5,1608) rotate(-45)" font-size="17.99" text-anchor="end"><tspan>CD226</tspan><tspan font-size="10.4" dy="-9.0">+</tspan><tspan dy="9.0"> /CD8</tspan><tspan font-size="10.4" dy="-9.0">+</tspan></text>
<text transform="translate(319,1608) rotate(-45)" font-size="17.88" text-anchor="end"><tspan>KCNA3</tspan><tspan font-size="10.4" dy="-8.9">+</tspan><tspan dy="8.9"> /CD8</tspan><tspan font-size="10.4" dy="-8.9">+</tspan></text>
<text transform="translate(382,1616) rotate(-45)" font-size="18.11" text-anchor="end"><tspan>SLAMF6</tspan><tspan font-size="10.5" dy="-9.1">−</tspan><tspan dy="9.1"> TIM3</tspan><tspan font-size="10.5" dy="-9.1">+</tspan><tspan dy="9.1"> /CD8</tspan><tspan font-size="10.5" dy="-9.1">+</tspan><tspan dy="9.1"> T</tspan><tspan font-size="11.2" dx="5.4" dy="2.5">TE</tspan></text>
<text transform="translate(449,1616) rotate(-45)" font-size="16.94" text-anchor="end"><tspan>Tox</tspan><tspan font-size="9.8" dy="-8.5">+</tspan><tspan dy="8.5"> /CD8</tspan><tspan font-size="9.8" dy="-8.5">+</tspan><tspan dy="8.5"> T</tspan><tspan font-size="10.5" dx="5.1" dy="2.4">TE</tspan></text>
<text transform="translate(524.5,1302.5)" font-size="29" font-weight="bold" stroke="#231f20" stroke-width="0.9" stroke-linejoin="round">h</text>
<circle cx="585" cy="1314.25" r="5.8" fill="#0a0a0a"/>
<circle cx="585" cy="1341.25" r="4.7" fill="#fff" stroke="#0a0a0a" stroke-width="2.3"/>
<text transform="translate(600.5,1318.25) scale(1.04,1)" font-size="14">Isotype</text>
<text transform="translate(600.5,1345.75)" font-size="14" textLength="240.75" lengthAdjust="spacingAndGlyphs">Anti-huPD-1-muGITR-L - huPD-1-HO</text>
<text transform="translate(539.5,1615) rotate(-90)" font-size="18.6" textLength="280.6" lengthAdjust="spacingAndGlyphs">Percentage of parental population</text>
<rect x="613.75" y="1358.75" width="361.75" height="231.25" fill="none" stroke="#0a0a0a" stroke-width="3"/>
<line x1="605" y1="1590" x2="613.75" y2="1590" stroke="#0a0a0a" stroke-width="3" stroke-linecap="butt"/>
<text transform="translate(592.5,1596.6)" font-size="18.5" text-anchor="end">0</text>
<line x1="605" y1="1551.5" x2="613.75" y2="1551.5" stroke="#0a0a0a" stroke-width="3" stroke-linecap="butt"/>
<text transform="translate(592.5,1558.1)" font-size="18.5" text-anchor="end">20</text>
<line x1="605" y1="1513" x2="613.75" y2="1513" stroke="#0a0a0a" stroke-width="3" stroke-linecap="butt"/>
<text transform="translate(592.5,1519.6)" font-size="18.5" text-anchor="end">40</text>
<line x1="605" y1="1474.5" x2="613.75" y2="1474.5" stroke="#0a0a0a" stroke-width="3" stroke-linecap="butt"/>
<text transform="translate(592.5,1481.1)" font-size="18.5" text-anchor="end">60</text>
<line x1="605" y1="1436" x2="613.75" y2="1436" stroke="#0a0a0a" stroke-width="3" stroke-linecap="butt"/>
<text transform="translate(592.5,1442.6)" font-size="18.5" text-anchor="end">80</text>
<line x1="605" y1="1397.5" x2="613.75" y2="1397.5" stroke="#0a0a0a" stroke-width="3" stroke-linecap="butt"/>
<text transform="translate(592.5,1404.1)" font-size="18.5" text-anchor="end">100</text>
<line x1="605" y1="1359" x2="613.75" y2="1359" stroke="#0a0a0a" stroke-width="3" stroke-linecap="butt"/>
<text transform="translate(592.5,1365.6)" font-size="18.5" text-anchor="end">120</text>
<line x1="643.75" y1="1590" x2="643.75" y2="1597.5" stroke="#0a0a0a" stroke-width="3" stroke-linecap="butt"/>
<line x1="703.75" y1="1590" x2="703.75" y2="1597.5" stroke="#0a0a0a" stroke-width="3" stroke-linecap="butt"/>
<line x1="764.25" y1="1590" x2="764.25" y2="1597.5" stroke="#0a0a0a" stroke-width="3" stroke-linecap="butt"/>
<line x1="824.25" y1="1590" x2="824.25" y2="1597.5" stroke="#0a0a0a" stroke-width="3" stroke-linecap="butt"/>
<line x1="884.5" y1="1590" x2="884.5" y2="1597.5" stroke="#0a0a0a" stroke-width="3" stroke-linecap="butt"/>
<line x1="945" y1="1590" x2="945" y2="1597.5" stroke="#0a0a0a" stroke-width="3" stroke-linecap="butt"/>
<circle cx="629.25" cy="1484.51" r="5.9" fill="#0a0a0a"/>
<circle cx="638" cy="1494.33" r="5.9" fill="#0a0a0a"/>
<circle cx="629.25" cy="1508.76" r="5.9" fill="#0a0a0a"/>
<circle cx="638" cy="1511.27" r="5.9" fill="#0a0a0a"/>
<circle cx="633.75" cy="1534.94" r="5.9" fill="#0a0a0a"/>
<line x1="626.75" y1="1506.65" x2="640.75" y2="1506.65" stroke="#0a0a0a" stroke-width="3" stroke-linecap="butt"/>
<line x1="633.75" y1="1514.92" x2="633.75" y2="1498.56" stroke="#0a0a0a" stroke-width="2.2" stroke-linecap="butt"/>
<line x1="629.75" y1="1514.92" x2="637.75" y2="1514.92" stroke="#0a0a0a" stroke-width="2.2" stroke-linecap="butt"/>
<line x1="629.75" y1="1498.56" x2="637.75" y2="1498.56" stroke="#0a0a0a" stroke-width="2.2" stroke-linecap="butt"/>
<circle cx="652.5" cy="1441.2" r="4.85" fill="#fff" stroke="#0a0a0a" stroke-width="2.1"/>
<circle cx="658.75" cy="1444.86" r="4.85" fill="#fff" stroke="#0a0a0a" stroke-width="2.1"/>
<circle cx="648.75" cy="1458.71" r="4.85" fill="#fff" stroke="#0a0a0a" stroke-width="2.1"/>
<circle cx="658.75" cy="1457.17" r="4.85" fill="#fff" stroke="#0a0a0a" stroke-width="2.1"/>
<circle cx="653.75" cy="1454.29" r="4.85" fill="#fff" stroke="#0a0a0a" stroke-width="2.1"/>
<line x1="646.75" y1="1450.05" x2="660.75" y2="1450.05" stroke="#0a0a0a" stroke-width="3" stroke-linecap="butt"/>
<line x1="653.75" y1="1455.25" x2="653.75" y2="1445.62" stroke="#0a0a0a" stroke-width="2.2" stroke-linecap="butt"/>
<line x1="649.75" y1="1455.25" x2="657.75" y2="1455.25" stroke="#0a0a0a" stroke-width="2.2" stroke-linecap="butt"/>
<line x1="649.75" y1="1445.62" x2="657.75" y2="1445.62" stroke="#0a0a0a" stroke-width="2.2" stroke-linecap="butt"/>
<circle cx="693.75" cy="1505.68" r="5.9" fill="#0a0a0a"/>
<circle cx="698.75" cy="1521.09" r="5.9" fill="#0a0a0a"/>
<circle cx="688.75" cy="1534.94" r="5.9" fill="#0a0a0a"/>
<circle cx="698.75" cy="1534.94" r="5.9" fill="#0a0a0a"/>
<circle cx="693.75" cy="1528.4" r="5.9" fill="#0a0a0a"/>
<line x1="686.75" y1="1524.36" x2="700.75" y2="1524.36" stroke="#0a0a0a" stroke-width="3" stroke-linecap="butt"/>
<line x1="693.75" y1="1531.29" x2="693.75" y2="1517.81" stroke="#0a0a0a" stroke-width="2.2" stroke-linecap="butt"/>
<line x1="689.75" y1="1531.29" x2="697.75" y2="1531.29" stroke="#0a0a0a" stroke-width="2.2" stroke-linecap="butt"/>
<line x1="689.75" y1="1517.81" x2="697.75" y2="1517.81" stroke="#0a0a0a" stroke-width="2.2" stroke-linecap="butt"/>
<circle cx="713.75" cy="1539.95" r="4.85" fill="#fff" stroke="#0a0a0a" stroke-width="2.1"/>
<circle cx="710" cy="1566.32" r="4.85" fill="#fff" stroke="#0a0a0a" stroke-width="2.1"/>
<circle cx="715" cy="1558.82" r="4.85" fill="#fff" stroke="#0a0a0a" stroke-width="2.1"/>
<circle cx="720" cy="1559.97" r="4.85" fill="#fff" stroke="#0a0a0a" stroke-width="2.1"/>
<circle cx="707.5" cy="1558.82" r="4.85" fill="#fff" stroke="#0a0a0a" stroke-width="2.1"/>
<line x1="706.75" y1="1557.47" x2="720.75" y2="1557.47" stroke="#0a0a0a" stroke-width="3" stroke-linecap="butt"/>
<line x1="713.75" y1="1561.12" x2="713.75" y2="1553.42" stroke="#0a0a0a" stroke-width="2.2" stroke-linecap="butt"/>
<line x1="709.75" y1="1561.12" x2="717.75" y2="1561.12" stroke="#0a0a0a" stroke-width="2.2" stroke-linecap="butt"/>
<line x1="709.75" y1="1553.42" x2="717.75" y2="1553.42" stroke="#0a0a0a" stroke-width="2.2" stroke-linecap="butt"/>
<circle cx="758.75" cy="1549.96" r="5.9" fill="#0a0a0a"/>
<circle cx="749.5" cy="1557.47" r="5.9" fill="#0a0a0a"/>
<circle cx="758.75" cy="1566.32" r="5.9" fill="#0a0a0a"/>
<circle cx="753.75" cy="1563.82" r="5.9" fill="#0a0a0a"/>
<circle cx="754.5" cy="1579.41" r="5.9" fill="#0a0a0a"/>
<line x1="747.5" y1="1562.47" x2="761.5" y2="1562.47" stroke="#0a0a0a" stroke-width="3" stroke-linecap="butt"/>
<line x1="754.5" y1="1567.86" x2="754.5" y2="1557.28" stroke="#0a0a0a" stroke-width="2.2" stroke-linecap="butt"/>
<line x1="750.5" y1="1567.86" x2="758.5" y2="1567.86" stroke="#0a0a0a" stroke-width="2.2" stroke-linecap="butt"/>
<line x1="750.5" y1="1557.28" x2="758.5" y2="1557.28" stroke="#0a0a0a" stroke-width="2.2" stroke-linecap="butt"/>
<circle cx="774.5" cy="1521.86" r="4.85" fill="#fff" stroke="#0a0a0a" stroke-width="2.1"/>
<circle cx="778.75" cy="1541.88" r="4.85" fill="#fff" stroke="#0a0a0a" stroke-width="2.1"/>
<circle cx="771.25" cy="1541.88" r="4.85" fill="#fff" stroke="#0a0a0a" stroke-width="2.1"/>
<circle cx="779.5" cy="1555.35" r="4.85" fill="#fff" stroke="#0a0a0a" stroke-width="2.1"/>
<circle cx="770" cy="1562.47" r="4.85" fill="#fff" stroke="#0a0a0a" stroke-width="2.1"/>
<line x1="767.5" y1="1548.81" x2="781.5" y2="1548.81" stroke="#0a0a0a" stroke-width="3" stroke-linecap="butt"/>
<line x1="774.5" y1="1556.31" x2="774.5" y2="1541.88" stroke="#0a0a0a" stroke-width="2.2" stroke-linecap="butt"/>
<line x1="770.5" y1="1556.31" x2="778.5" y2="1556.31" stroke="#0a0a0a" stroke-width="2.2" stroke-linecap="butt"/>
<line x1="770.5" y1="1541.88" x2="778.5" y2="1541.88" stroke="#0a0a0a" stroke-width="2.2" stroke-linecap="butt"/>
<circle cx="814.5" cy="1433.69" r="5.9" fill="#0a0a0a"/>
<circle cx="814.5" cy="1447.55" r="5.9" fill="#0a0a0a"/>
<circle cx="814.5" cy="1513.19" r="5.9" fill="#0a0a0a"/>
<circle cx="814.5" cy="1526.47" r="5.9" fill="#0a0a0a"/>
<circle cx="814.5" cy="1573.83" r="5.9" fill="#0a0a0a"/>
<line x1="807.5" y1="1499.14" x2="821.5" y2="1499.14" stroke="#0a0a0a" stroke-width="3" stroke-linecap="butt"/>
<line x1="814.5" y1="1526.47" x2="814.5" y2="1472.58" stroke="#0a0a0a" stroke-width="2.2" stroke-linecap="butt"/>
<line x1="810.5" y1="1526.47" x2="818.5" y2="1526.47" stroke="#0a0a0a" stroke-width="2.2" stroke-linecap="butt"/>
<line x1="810.5" y1="1472.58" x2="818.5" y2="1472.58" stroke="#0a0a0a" stroke-width="2.2" stroke-linecap="butt"/>
<circle cx="835" cy="1402.31" r="4.85" fill="#fff" stroke="#0a0a0a" stroke-width="2.1"/>
<circle cx="840" cy="1402.31" r="4.85" fill="#fff" stroke="#0a0a0a" stroke-width="2.1"/>
<circle cx="830" cy="1408.09" r="4.85" fill="#fff" stroke="#0a0a0a" stroke-width="2.1"/>
<circle cx="835" cy="1423.68" r="4.85" fill="#fff" stroke="#0a0a0a" stroke-width="2.1"/>
<circle cx="838" cy="1405.2" r="4.85" fill="#fff" stroke="#0a0a0a" stroke-width="2.1"/>
<line x1="828" y1="1407.12" x2="842" y2="1407.12" stroke="#0a0a0a" stroke-width="3" stroke-linecap="butt"/>
<line x1="835" y1="1410.97" x2="835" y2="1403.28" stroke="#0a0a0a" stroke-width="2.2" stroke-linecap="butt"/>
<line x1="831" y1="1410.97" x2="839" y2="1410.97" stroke="#0a0a0a" stroke-width="2.2" stroke-linecap="butt"/>
<line x1="831" y1="1403.28" x2="839" y2="1403.28" stroke="#0a0a0a" stroke-width="2.2" stroke-linecap="butt"/>
<circle cx="870" cy="1524.93" r="5.9" fill="#0a0a0a"/>
<circle cx="880" cy="1524.93" r="5.9" fill="#0a0a0a"/>
<circle cx="870" cy="1539.95" r="5.9" fill="#0a0a0a"/>
<circle cx="880" cy="1546.3" r="5.9" fill="#0a0a0a"/>
<circle cx="870" cy="1552.46" r="5.9" fill="#0a0a0a"/>
<line x1="868" y1="1537.45" x2="882" y2="1537.45" stroke="#0a0a0a" stroke-width="3" stroke-linecap="butt"/>
<line x1="875" y1="1544.76" x2="875" y2="1530.33" stroke="#0a0a0a" stroke-width="2.2" stroke-linecap="butt"/>
<line x1="871" y1="1544.76" x2="879" y2="1544.76" stroke="#0a0a0a" stroke-width="2.2" stroke-linecap="butt"/>
<line x1="871" y1="1530.33" x2="879" y2="1530.33" stroke="#0a0a0a" stroke-width="2.2" stroke-linecap="butt"/>
<circle cx="895" cy="1553.62" r="4.85" fill="#fff" stroke="#0a0a0a" stroke-width="2.1"/>
<circle cx="900" cy="1559.97" r="4.85" fill="#fff" stroke="#0a0a0a" stroke-width="2.1"/>
<circle cx="890" cy="1572.48" r="4.85" fill="#fff" stroke="#0a0a0a" stroke-width="2.1"/>
<circle cx="900" cy="1572.48" r="4.85" fill="#fff" stroke="#0a0a0a" stroke-width="2.1"/>
<circle cx="895" cy="1566.9" r="4.85" fill="#fff" stroke="#0a0a0a" stroke-width="2.1"/>
<line x1="888" y1="1566.32" x2="902" y2="1566.32" stroke="#0a0a0a" stroke-width="3" stroke-linecap="butt"/>
<line x1="895" y1="1570.75" x2="895" y2="1561.12" stroke="#0a0a0a" stroke-width="2.2" stroke-linecap="butt"/>
<line x1="891" y1="1570.75" x2="899" y2="1570.75" stroke="#0a0a0a" stroke-width="2.2" stroke-linecap="butt"/>
<line x1="891" y1="1561.12" x2="899" y2="1561.12" stroke="#0a0a0a" stroke-width="2.2" stroke-linecap="butt"/>
<circle cx="931.25" cy="1544.95" r="5.9" fill="#0a0a0a"/>
<circle cx="940" cy="1543.8" r="5.9" fill="#0a0a0a"/>
<circle cx="931.25" cy="1554.96" r="5.9" fill="#0a0a0a"/>
<circle cx="940" cy="1554.58" r="5.9" fill="#0a0a0a"/>
<circle cx="935" cy="1549.58" r="5.9" fill="#0a0a0a"/>
<line x1="928" y1="1548.81" x2="942" y2="1548.81" stroke="#0a0a0a" stroke-width="3" stroke-linecap="butt"/>
<circle cx="955.5" cy="1556.31" r="4.85" fill="#fff" stroke="#0a0a0a" stroke-width="2.1"/>
<circle cx="960" cy="1562.47" r="4.85" fill="#fff" stroke="#0a0a0a" stroke-width="2.1"/>
<circle cx="952.5" cy="1577.49" r="4.85" fill="#fff" stroke="#0a0a0a" stroke-width="2.1"/>
<circle cx="960" cy="1576.33" r="4.85" fill="#fff" stroke="#0a0a0a" stroke-width="2.1"/>
<circle cx="955" cy="1573.83" r="4.85" fill="#fff" stroke="#0a0a0a" stroke-width="2.1"/>
<line x1="948.5" y1="1573.83" x2="962.5" y2="1573.83" stroke="#0a0a0a" stroke-width="3" stroke-linecap="butt"/>
<line x1="955.5" y1="1578.45" x2="955.5" y2="1569.79" stroke="#0a0a0a" stroke-width="2.2" stroke-linecap="butt"/>
<line x1="951.5" y1="1578.45" x2="959.5" y2="1578.45" stroke="#0a0a0a" stroke-width="2.2" stroke-linecap="butt"/>
<line x1="951.5" y1="1569.79" x2="959.5" y2="1569.79" stroke="#0a0a0a" stroke-width="2.2" stroke-linecap="butt"/>
<line x1="635.75" y1="1393" x2="663" y2="1393" stroke="#0a0a0a" stroke-width="3.5" stroke-linecap="butt"/>
<text transform="translate(619.25,1387.5)" font-size="14" textLength="69" lengthAdjust="spacingAndGlyphs"><tspan font-style="italic">P</tspan> = 0.0002</text>
<line x1="810" y1="1383.25" x2="836.25" y2="1383.25" stroke="#0a0a0a" stroke-width="3.5" stroke-linecap="butt"/>
<text transform="translate(788.25,1376.25)" font-size="14" textLength="68.5" lengthAdjust="spacingAndGlyphs"><tspan font-style="italic">P</tspan> &lt; 0.0001</text>
<text transform="translate(652.5,1616) rotate(-45)" font-size="17.94" text-anchor="end"><tspan>Ki-67</tspan><tspan font-size="10.4" dy="-9.0">+</tspan><tspan dy="9.0"> /CD8</tspan><tspan font-size="10.4" dy="-9.0">+</tspan></text>
<text transform="translate(710,1615) rotate(-45)" font-size="16.23" text-anchor="end"><tspan>T</tspan><tspan font-size="10.1" dx="4.9" dy="2.3">reg</tspan><tspan dy="-2.3"> /CD4</tspan><tspan font-size="9.4" dy="-8.1">+</tspan></text>
<text transform="translate(774,1616) rotate(-45)" font-size="18.21" text-anchor="end"><tspan>CD226</tspan><tspan font-size="10.6" dy="-9.1">+</tspan><tspan dy="9.1"> /CD8</tspan><tspan font-size="10.6" dy="-9.1">+</tspan></text>
<text transform="translate(831,1616) rotate(-45)" font-size="18.09" text-anchor="end"><tspan>KCNA3</tspan><tspan font-size="10.5" dy="-9.0">+</tspan><tspan dy="9.0"> /CD8</tspan><tspan font-size="10.5" dy="-9.0">+</tspan></text>
<text transform="translate(892.5,1613) rotate(-45)" font-size="17.76" text-anchor="end"><tspan>SLAMF6</tspan><tspan font-size="10.3" dy="-8.9">−</tspan><tspan dy="8.9"> TIM3</tspan><tspan font-size="10.3" dy="-8.9">+</tspan><tspan dy="8.9"> /CD8</tspan><tspan font-size="10.3" dy="-8.9">+</tspan><tspan dy="8.9"> T</tspan><tspan font-size="11.0" dx="5.3" dy="2.5">TE</tspan></text>
<text transform="translate(956,1613) rotate(-45)" font-size="16.99" text-anchor="end"><tspan>Tox</tspan><tspan font-size="9.9" dy="-8.5">+</tspan><tspan dy="8.5"> /CD8</tspan><tspan font-size="9.9" dy="-8.5">+</tspan><tspan dy="8.5"> T</tspan><tspan font-size="10.5" dx="5.1" dy="2.4">TE</tspan></text>
<text transform="translate(1028.5,1302.3)" font-size="30" font-weight="bold" stroke="#231f20" stroke-width="0.9" stroke-linejoin="round">i</text>
<line x1="1126.7" y1="1321" x2="1126.7" y2="1689.5" stroke="#0a0a0a" stroke-width="3" stroke-linecap="butt"/>
<line x1="1125.2" y1="1688" x2="1439.5" y2="1688" stroke="#0a0a0a" stroke-width="3" stroke-linecap="butt"/>
<line x1="1119.2" y1="1688" x2="1126.7" y2="1688" stroke="#0a0a0a" stroke-width="3" stroke-linecap="butt"/>
<text transform="translate(1107.4,1694.7) scale(1.03,1)" font-size="18.7" text-anchor="end">0</text>
<line x1="1119.2" y1="1614.76" x2="1126.7" y2="1614.76" stroke="#0a0a0a" stroke-width="3" stroke-linecap="butt"/>
<text transform="translate(1107.4,1621.46) scale(1.03,1)" font-size="18.7" text-anchor="end">100</text>
<line x1="1119.2" y1="1541.52" x2="1126.7" y2="1541.52" stroke="#0a0a0a" stroke-width="3" stroke-linecap="butt"/>
<text transform="translate(1107.4,1548.22) scale(1.03,1)" font-size="18.7" text-anchor="end">200</text>
<line x1="1119.2" y1="1468.28" x2="1126.7" y2="1468.28" stroke="#0a0a0a" stroke-width="3" stroke-linecap="butt"/>
<text transform="translate(1107.4,1474.98) scale(1.03,1)" font-size="18.7" text-anchor="end">300</text>
<line x1="1119.2" y1="1395.04" x2="1126.7" y2="1395.04" stroke="#0a0a0a" stroke-width="3" stroke-linecap="butt"/>
<text transform="translate(1107.4,1401.74) scale(1.03,1)" font-size="18.7" text-anchor="end">400</text>
<line x1="1119.2" y1="1321.8" x2="1126.7" y2="1321.8" stroke="#0a0a0a" stroke-width="3" stroke-linecap="butt"/>
<text transform="translate(1107.4,1328.5) scale(1.03,1)" font-size="18.7" text-anchor="end">500</text>
<line x1="1126.7" y1="1688" x2="1126.7" y2="1696" stroke="#0a0a0a" stroke-width="3" stroke-linecap="butt"/>
<text transform="translate(1126.7,1721.6) scale(1.2,1)" font-size="16.6" text-anchor="middle">0</text>
<line x1="1204.5" y1="1688" x2="1204.5" y2="1696" stroke="#0a0a0a" stroke-width="3" stroke-linecap="butt"/>
<text transform="translate(1204.5,1721.6) scale(1.2,1)" font-size="16.6" text-anchor="middle">5</text>
<line x1="1282.3" y1="1688" x2="1282.3" y2="1696" stroke="#0a0a0a" stroke-width="3" stroke-linecap="butt"/>
<text transform="translate(1282.3,1721.6) scale(1.2,1)" font-size="16.6" text-anchor="middle">10</text>
<line x1="1360.1" y1="1688" x2="1360.1" y2="1696" stroke="#0a0a0a" stroke-width="3" stroke-linecap="butt"/>
<text transform="translate(1360.1,1721.6) scale(1.2,1)" font-size="16.6" text-anchor="middle">15</text>
<line x1="1437.9" y1="1688" x2="1437.9" y2="1696" stroke="#0a0a0a" stroke-width="3" stroke-linecap="butt"/>
<text transform="translate(1437.9,1721.6) scale(1.2,1)" font-size="16.6" text-anchor="middle">20</text>
<text transform="translate(1194.2,1756.5)" font-size="18.5" textLength="177.2" lengthAdjust="spacingAndGlyphs">Days post inoculation</text>
<text transform="translate(1059.2,1591.2) rotate(-90)" font-size="18.5" textLength="171.2" lengthAdjust="spacingAndGlyphs">Tumor volume (mm<tspan font-size="10.4" dy="-9.2">3</tspan><tspan dy="9.2">)</tspan></text>
<polyline points="1126.7,1688 1235.62,1674.82 1297.86,1643.32 1344.54,1600.11 1422.34,1502.7" fill="none" stroke="#0a0a0a" stroke-width="2.7" stroke-linejoin="round" stroke-linecap="butt"/>
<polyline points="1126.7,1688 1235.62,1655.04 1297.86,1589.13 1344.54,1501.97 1422.34,1382.59" fill="none" stroke="#0a0a0a" stroke-width="2.7" stroke-linejoin="round" stroke-linecap="butt"/>
<line x1="1297.86" y1="1596.45" x2="1297.86" y2="1580.34" stroke="#0a0a0a" stroke-width="3" stroke-linecap="butt"/>
<line x1="1291.86" y1="1596.45" x2="1303.86" y2="1596.45" stroke="#0a0a0a" stroke-width="3" stroke-linecap="butt"/>
<line x1="1291.86" y1="1580.34" x2="1303.86" y2="1580.34" stroke="#0a0a0a" stroke-width="3" stroke-linecap="butt"/>
<line x1="1344.54" y1="1512.22" x2="1344.54" y2="1487.32" stroke="#0a0a0a" stroke-width="3" stroke-linecap="butt"/>
<line x1="1338.54" y1="1512.22" x2="1350.54" y2="1512.22" stroke="#0a0a0a" stroke-width="3" stroke-linecap="butt"/>
<line x1="1338.54" y1="1487.32" x2="1350.54" y2="1487.32" stroke="#0a0a0a" stroke-width="3" stroke-linecap="butt"/>
<line x1="1422.34" y1="1426.53" x2="1422.34" y2="1334.98" stroke="#0a0a0a" stroke-width="3" stroke-linecap="butt"/>
<line x1="1416.34" y1="1426.53" x2="1428.34" y2="1426.53" stroke="#0a0a0a" stroke-width="3" stroke-linecap="butt"/>
<line x1="1416.34" y1="1334.98" x2="1428.34" y2="1334.98" stroke="#0a0a0a" stroke-width="3" stroke-linecap="butt"/>
<line x1="1344.54" y1="1611.83" x2="1344.54" y2="1587.66" stroke="#0a0a0a" stroke-width="3" stroke-linecap="butt"/>
<line x1="1338.54" y1="1611.83" x2="1350.54" y2="1611.83" stroke="#0a0a0a" stroke-width="3" stroke-linecap="butt"/>
<line x1="1338.54" y1="1587.66" x2="1350.54" y2="1587.66" stroke="#0a0a0a" stroke-width="3" stroke-linecap="butt"/>
<line x1="1422.34" y1="1521.75" x2="1422.34" y2="1482.93" stroke="#0a0a0a" stroke-width="3" stroke-linecap="butt"/>
<line x1="1416.34" y1="1521.75" x2="1428.34" y2="1521.75" stroke="#0a0a0a" stroke-width="3" stroke-linecap="butt"/>
<line x1="1416.34" y1="1482.93" x2="1428.34" y2="1482.93" stroke="#0a0a0a" stroke-width="3" stroke-linecap="butt"/>
<ellipse cx="1126.7" cy="1688" rx="5" ry="7" fill="#fff" stroke="#0a0a0a" stroke-width="2.0"/>
<ellipse cx="1235.62" cy="1674.82" rx="5" ry="7" fill="#fff" stroke="#0a0a0a" stroke-width="2.0"/>
<ellipse cx="1297.86" cy="1643.32" rx="5" ry="7" fill="#fff" stroke="#0a0a0a" stroke-width="2.0"/>
<ellipse cx="1344.54" cy="1600.11" rx="5" ry="7" fill="#fff" stroke="#0a0a0a" stroke-width="2.0"/>
<ellipse cx="1422.34" cy="1502.7" rx="5" ry="7" fill="#fff" stroke="#0a0a0a" stroke-width="2.0"/>
<ellipse cx="1126.7" cy="1688" rx="6.3" ry="8.4" fill="#0a0a0a"/>
<ellipse cx="1235.62" cy="1655.04" rx="6.3" ry="8.4" fill="#0a0a0a"/>
<ellipse cx="1297.86" cy="1589.13" rx="6.3" ry="8.4" fill="#0a0a0a"/>
<ellipse cx="1344.54" cy="1501.97" rx="6.3" ry="8.4" fill="#0a0a0a"/>
<ellipse cx="1422.34" cy="1382.59" rx="6.3" ry="8.4" fill="#0a0a0a"/>
<line x1="1139.4" y1="1331.3" x2="1160.5" y2="1331.3" stroke="#0a0a0a" stroke-width="3" stroke-linecap="butt"/>
<ellipse cx="1149.8" cy="1331.3" rx="6.2" ry="8.6" fill="#0a0a0a"/>
<line x1="1139.4" y1="1389.5" x2="1160.5" y2="1389.5" stroke="#0a0a0a" stroke-width="3" stroke-linecap="butt"/>
<ellipse cx="1149.8" cy="1389.5" rx="5.2" ry="7.6" fill="#fff" stroke="#0a0a0a" stroke-width="2.0"/>
<text transform="translate(1170.9,1336.1)" font-size="14.5">10 mg kg<tspan font-size="9" dy="-6">−1</tspan><tspan dy="6"> isotype</tspan></text>
<text transform="translate(1170.9,1386.7)" font-size="14.5">16.1 mg kg<tspan font-size="9" dy="-6">−1</tspan></text>
<text transform="translate(1170.9,1403.6)" font-size="14.5" textLength="113.3" lengthAdjust="spacingAndGlyphs">anti-PD-1-GITR-L</text>
<line x1="1139.4" y1="1620" x2="1139.4" y2="1658.7" stroke="#0a0a0a" stroke-width="2" stroke-linecap="butt"/>
<polygon points="1139.4,1670.7 1130.4,1653.7 1139.4,1658.7 1148.4,1653.7" fill="#0a0a0a" stroke="#0a0a0a" stroke-width="0.5" stroke-linejoin="miter" stroke-linecap="butt"/>
<text transform="translate(1339.5,1489.7)" font-size="30" text-anchor="middle" letter-spacing="2.2">**</text>
<polyline points="1454.3,1375.5 1464.2,1375.5 1464.2,1494.4 1454.3,1494.4" fill="none" stroke="#0a0a0a" stroke-width="3.4" stroke-linejoin="miter" stroke-linecap="butt"/>
<polyline points="1433.2,1493 1441.7,1493 1441.7,1594.8 1433.2,1594.8" fill="none" stroke="#0a0a0a" stroke-width="3.4" stroke-linejoin="miter" stroke-linecap="butt"/>
<text transform="translate(1473.4,1440.7)" font-size="14" textLength="68.9" lengthAdjust="spacingAndGlyphs"><tspan font-style="italic">P</tspan> &lt; 0.0001</text>
<text transform="translate(1450.1,1549.2)" font-size="14" textLength="68.9" lengthAdjust="spacingAndGlyphs"><tspan font-style="italic">P</tspan> = 0.0005</text>
<text transform="translate(1597,1300)" font-size="30" font-weight="bold" stroke="#231f20" stroke-width="0.9" stroke-linejoin="round">j</text>
<line x1="1690.3" y1="1333" x2="1690.3" y2="1672.8" stroke="#0a0a0a" stroke-width="3" stroke-linecap="butt"/>
<line x1="1688.8" y1="1671.3" x2="2018" y2="1671.3" stroke="#0a0a0a" stroke-width="3" stroke-linecap="butt"/>
<line x1="1682.7" y1="1671.3" x2="1690.3" y2="1671.3" stroke="#0a0a0a" stroke-width="3" stroke-linecap="butt"/>
<text transform="translate(1669.9,1677.9) scale(1.05,1)" font-size="18.3" text-anchor="end">0</text>
<line x1="1682.7" y1="1603.86" x2="1690.3" y2="1603.86" stroke="#0a0a0a" stroke-width="3" stroke-linecap="butt"/>
<text transform="translate(1669.9,1610.46) scale(1.05,1)" font-size="18.3" text-anchor="end">200</text>
<line x1="1682.7" y1="1536.42" x2="1690.3" y2="1536.42" stroke="#0a0a0a" stroke-width="3" stroke-linecap="butt"/>
<text transform="translate(1669.9,1543.02) scale(1.05,1)" font-size="18.3" text-anchor="end">400</text>
<line x1="1682.7" y1="1468.98" x2="1690.3" y2="1468.98" stroke="#0a0a0a" stroke-width="3" stroke-linecap="butt"/>
<text transform="translate(1669.9,1475.58) scale(1.05,1)" font-size="18.3" text-anchor="end">600</text>
<line x1="1682.7" y1="1401.54" x2="1690.3" y2="1401.54" stroke="#0a0a0a" stroke-width="3" stroke-linecap="butt"/>
<text transform="translate(1669.9,1408.14) scale(1.05,1)" font-size="18.3" text-anchor="end">800</text>
<line x1="1682.7" y1="1334.1" x2="1690.3" y2="1334.1" stroke="#0a0a0a" stroke-width="3" stroke-linecap="butt"/>
<text transform="translate(1669.9,1340.7) scale(1.05,1)" font-size="18.3" text-anchor="end">1,000</text>
<line x1="1690.3" y1="1671.3" x2="1690.3" y2="1681" stroke="#0a0a0a" stroke-width="3" stroke-linecap="butt"/>
<text transform="translate(1690.3,1709) scale(1.2,1)" font-size="16.2" text-anchor="middle">0</text>
<line x1="1771.85" y1="1671.3" x2="1771.85" y2="1681" stroke="#0a0a0a" stroke-width="3" stroke-linecap="butt"/>
<text transform="translate(1771.85,1709) scale(1.2,1)" font-size="16.2" text-anchor="middle">10</text>
<line x1="1853.4" y1="1671.3" x2="1853.4" y2="1681" stroke="#0a0a0a" stroke-width="3" stroke-linecap="butt"/>
<text transform="translate(1853.4,1709) scale(1.2,1)" font-size="16.2" text-anchor="middle">20</text>
<line x1="1934.95" y1="1671.3" x2="1934.95" y2="1681" stroke="#0a0a0a" stroke-width="3" stroke-linecap="butt"/>
<text transform="translate(1934.95,1709) scale(1.2,1)" font-size="16.2" text-anchor="middle">30</text>
<line x1="2016.5" y1="1671.3" x2="2016.5" y2="1681" stroke="#0a0a0a" stroke-width="3" stroke-linecap="butt"/>
<text transform="translate(2016.5,1709) scale(1.2,1)" font-size="16.2" text-anchor="middle">40</text>
<text transform="translate(1764.9,1743.8)" font-size="18.5" textLength="176.6" lengthAdjust="spacingAndGlyphs">Days post inoculation</text>
<text transform="translate(1606,1589.8) rotate(-90)" font-size="18.5" textLength="172.2" lengthAdjust="spacingAndGlyphs">Tumor volume (mm<tspan font-size="10.4" dy="-9.2">3</tspan><tspan dy="9.2">)</tspan></text>
<polyline points="1690.3,1671.3 1780,1657.81 1804.47,1655.45 1837.09,1642.64 1886.02,1621.06 1918.64,1595.09 1959.41,1576.55" fill="none" stroke="#0a0a0a" stroke-width="2.5" stroke-linejoin="round" stroke-linecap="butt"/>
<polyline points="1690.3,1671.3 1780,1656.8 1804.47,1642.64 1837.09,1612.63 1886.02,1562.38 1918.64,1496.29 1959.41,1379.96" fill="none" stroke="#0a0a0a" stroke-width="2.5" stroke-linejoin="round" stroke-linecap="butt"/>
<line x1="1886.02" y1="1573.51" x2="1886.02" y2="1548.22" stroke="#0a0a0a" stroke-width="3" stroke-linecap="butt"/>
<line x1="1880.02" y1="1573.51" x2="1892.02" y2="1573.51" stroke="#0a0a0a" stroke-width="3" stroke-linecap="butt"/>
<line x1="1880.02" y1="1548.22" x2="1892.02" y2="1548.22" stroke="#0a0a0a" stroke-width="3" stroke-linecap="butt"/>
<line x1="1918.64" y1="1517.87" x2="1918.64" y2="1475.72" stroke="#0a0a0a" stroke-width="3" stroke-linecap="butt"/>
<line x1="1912.64" y1="1517.87" x2="1924.64" y2="1517.87" stroke="#0a0a0a" stroke-width="3" stroke-linecap="butt"/>
<line x1="1912.64" y1="1475.72" x2="1924.64" y2="1475.72" stroke="#0a0a0a" stroke-width="3" stroke-linecap="butt"/>
<line x1="1959.41" y1="1404.91" x2="1959.41" y2="1354.33" stroke="#0a0a0a" stroke-width="3" stroke-linecap="butt"/>
<line x1="1953.41" y1="1404.91" x2="1965.41" y2="1404.91" stroke="#0a0a0a" stroke-width="3" stroke-linecap="butt"/>
<line x1="1953.41" y1="1354.33" x2="1965.41" y2="1354.33" stroke="#0a0a0a" stroke-width="3" stroke-linecap="butt"/>
<line x1="1959.41" y1="1587.34" x2="1959.41" y2="1565.42" stroke="#0a0a0a" stroke-width="3" stroke-linecap="butt"/>
<line x1="1953.41" y1="1587.34" x2="1965.41" y2="1587.34" stroke="#0a0a0a" stroke-width="3" stroke-linecap="butt"/>
<line x1="1953.41" y1="1565.42" x2="1965.41" y2="1565.42" stroke="#0a0a0a" stroke-width="3" stroke-linecap="butt"/>
<circle cx="1690.3" cy="1671.3" r="6.35" fill="#fff" stroke="#0a0a0a" stroke-width="1.9"/>
<circle cx="1780" cy="1657.81" r="6.35" fill="#fff" stroke="#0a0a0a" stroke-width="1.9"/>
<circle cx="1804.47" cy="1655.45" r="6.35" fill="#fff" stroke="#0a0a0a" stroke-width="1.9"/>
<circle cx="1837.09" cy="1642.64" r="6.35" fill="#fff" stroke="#0a0a0a" stroke-width="1.9"/>
<circle cx="1886.02" cy="1621.06" r="6.35" fill="#fff" stroke="#0a0a0a" stroke-width="1.9"/>
<circle cx="1918.64" cy="1595.09" r="6.35" fill="#fff" stroke="#0a0a0a" stroke-width="1.9"/>
<circle cx="1959.41" cy="1576.55" r="6.35" fill="#fff" stroke="#0a0a0a" stroke-width="1.9"/>
<circle cx="1690.3" cy="1671.3" r="7.3" fill="#0a0a0a"/>
<circle cx="1780" cy="1656.8" r="7.3" fill="#0a0a0a"/>
<circle cx="1804.47" cy="1642.64" r="7.3" fill="#0a0a0a"/>
<circle cx="1837.09" cy="1612.63" r="7.3" fill="#0a0a0a"/>
<circle cx="1886.02" cy="1562.38" r="7.3" fill="#0a0a0a"/>
<circle cx="1918.64" cy="1496.29" r="7.3" fill="#0a0a0a"/>
<circle cx="1959.41" cy="1379.96" r="7.3" fill="#0a0a0a"/>
<line x1="1696" y1="1314.4" x2="1719.9" y2="1314.4" stroke="#0a0a0a" stroke-width="3" stroke-linecap="butt"/>
<circle cx="1707.8" cy="1314.4" r="7.3" fill="#0a0a0a"/>
<line x1="1696" y1="1371.2" x2="1719.9" y2="1371.2" stroke="#0a0a0a" stroke-width="3" stroke-linecap="butt"/>
<circle cx="1706.6" cy="1371.2" r="6.95" fill="#fff" stroke="#0a0a0a" stroke-width="1.9"/>
<text transform="translate(1731.1,1319.2)" font-size="14.5">10 mg kg<tspan font-size="9" dy="-6">−1</tspan><tspan dy="6"> isotype</tspan></text>
<text transform="translate(1731.1,1369.8)" font-size="14.5">16.1 mg kg<tspan font-size="9" dy="-6">−1</tspan></text>
<text transform="translate(1731.1,1386.7)" font-size="14.5" textLength="113.3" lengthAdjust="spacingAndGlyphs">anti-PD-1-GITR-L</text>
<line x1="1779.5" y1="1592" x2="1779.5" y2="1629.2" stroke="#0a0a0a" stroke-width="2" stroke-linecap="butt"/>
<polygon points="1779.5,1641.2 1770.5,1624.2 1779.5,1629.2 1788.5,1624.2" fill="#0a0a0a" stroke="#0a0a0a" stroke-width="0.5" stroke-linejoin="miter" stroke-linecap="butt"/>
<text transform="translate(1961.6,1355.1)" font-size="30" text-anchor="middle" letter-spacing="2.2">***</text>
<text transform="translate(1907.1,1478)" font-size="30" text-anchor="middle" letter-spacing="2.2">***</text>
<text transform="translate(1881.1,1550)" font-size="30" text-anchor="middle" letter-spacing="2.2">**</text>
<polyline points="2030.6,1369.8 2041,1369.8 2041,1569.5 2030.6,1569.5" fill="none" stroke="#0a0a0a" stroke-width="3.4" stroke-linejoin="miter" stroke-linecap="butt"/>
<polyline points="2005.3,1475.3 2015.1,1475.3 2015.1,1570.9 2005.3,1570.9" fill="none" stroke="#0a0a0a" stroke-width="3.4" stroke-linejoin="miter" stroke-linecap="butt"/>
<polyline points="1967.3,1551.2 1977.2,1551.2 1977.2,1617.3 1967.3,1617.3" fill="none" stroke="#0a0a0a" stroke-width="3.4" stroke-linejoin="miter" stroke-linecap="butt"/>
<text transform="translate(2050.3,1467.7)" font-size="14" textLength="68.5" lengthAdjust="spacingAndGlyphs"><tspan font-style="italic">P</tspan> &lt; 0.0001</text>
<text transform="translate(2024.1,1530.1)" font-size="14" textLength="68.5" lengthAdjust="spacingAndGlyphs"><tspan font-style="italic">P</tspan> &lt; 0.0001</text>
<text transform="translate(1988.4,1594.2)" font-size="14" textLength="68.9" lengthAdjust="spacingAndGlyphs"><tspan font-style="italic">P</tspan> = 0.0005</text></svg></body></html>
